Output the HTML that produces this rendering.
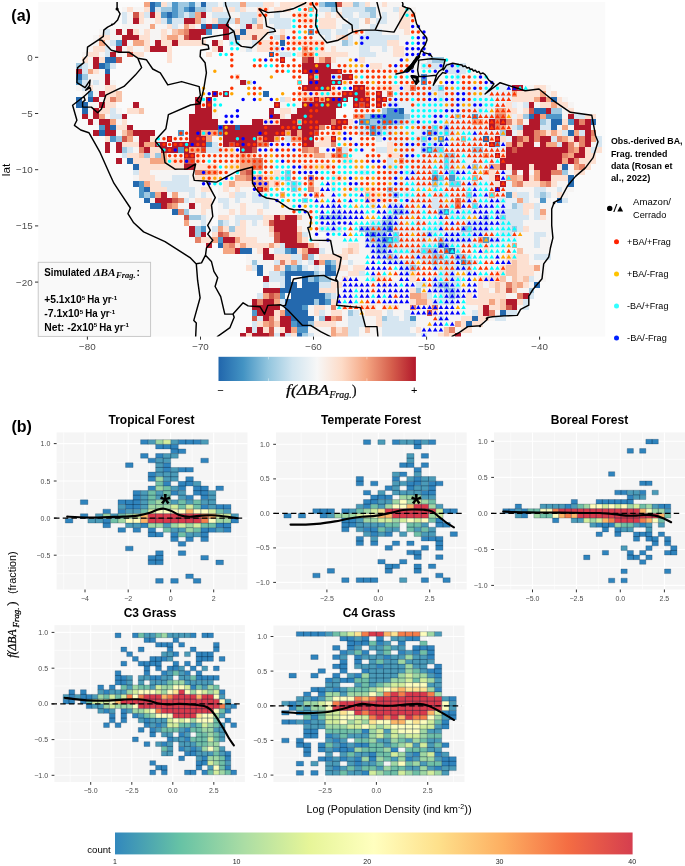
<!DOCTYPE html>
<html lang="en"><head><meta charset="utf-8"><title>Figure</title>
<style>html,body{margin:0;padding:0;background:#fff}body{width:685px;height:866px;overflow:hidden;font-family:"Liberation Sans",sans-serif}svg{display:block}</style></head>
<body>
<svg width="685" height="866" viewBox="0 0 685 866" font-family="'Liberation Sans', sans-serif">
<defs><clipPath id="mapclip"><rect x="38.2" y="2" width="567" height="334.6"/></clipPath><linearGradient id="rdbu" x1="0" x2="1" y1="0" y2="0"><stop offset="0" stop-color="#2166ac"/><stop offset="0.125" stop-color="#4393c3"/><stop offset="0.25" stop-color="#92c5de"/><stop offset="0.375" stop-color="#d1e5f0"/><stop offset="0.5" stop-color="#f7f7f7"/><stop offset="0.625" stop-color="#fddbc7"/><stop offset="0.75" stop-color="#f4a582"/><stop offset="0.875" stop-color="#d6604d"/><stop offset="1" stop-color="#b2182b"/></linearGradient>
<linearGradient id="spec" x1="0" x2="1" y1="0" y2="0"><stop offset="0" stop-color="#3288bd"/><stop offset="0.125" stop-color="#66c2a5"/><stop offset="0.25" stop-color="#abdda4"/><stop offset="0.375" stop-color="#e6f598"/><stop offset="0.5" stop-color="#ffffbf"/><stop offset="0.625" stop-color="#fee08b"/><stop offset="0.75" stop-color="#fdae61"/><stop offset="0.875" stop-color="#f46d43"/><stop offset="1" stop-color="#d53e4f"/></linearGradient></defs>
<rect x="38.2" y="2" width="567" height="334.6" fill="#fafafa"/>
<g clip-path="url(#mapclip)" shape-rendering="crispEdges"><path fill="#f4a582" d="M144.18 1.1H149.83V6.72H144.18ZM240.27 1.1H245.92V6.72H240.27ZM308.1 6.72H313.75V12.34H308.1ZM195.05 12.34H200.7V17.96H195.05ZM195.05 17.96H200.7V23.58H195.05ZM234.62 17.96H240.27V23.58H234.62ZM149.83 23.58H155.48V29.2H149.83ZM183.74 23.58H189.4V29.2H183.74ZM257.23 23.58H262.88V29.2H257.23ZM178.09 29.2H183.74V34.82H178.09ZM166.78 34.82H178.09V40.44H166.78ZM279.84 34.82H285.49V40.44H279.84ZM98.96 40.44H104.61V46.06H98.96ZM132.87 40.44H144.18V46.06H132.87ZM302.44 46.06H308.1V51.68H302.44ZM302.44 51.68H313.75V57.3H302.44ZM319.4 57.3H325.06V62.92H319.4ZM87.65 68.54H93.3V74.16H87.65ZM313.75 74.16H319.4V79.78H313.75ZM296.79 79.78H302.44V85.4H296.79ZM364.62 91.02H370.27V96.64H364.62ZM511.59 91.02H517.24V96.64H511.59ZM539.85 91.02H545.5V96.64H539.85ZM302.44 96.64H313.75V102.26H302.44ZM319.4 96.64H325.06V102.26H319.4ZM534.2 96.64H539.85V102.26H534.2ZM545.5 96.64H551.15V102.26H545.5ZM551.15 102.26H556.81V107.88H551.15ZM494.63 107.88H505.93V113.5H494.63ZM98.96 113.5H104.61V119.12H98.96ZM353.32 113.5H364.62V119.12H353.32ZM539.85 113.5H545.5V119.12H539.85ZM110.26 119.12H115.91V124.74H110.26ZM296.79 119.12H302.44V124.74H296.79ZM472.02 119.12H483.33V124.74H472.02ZM517.24 119.12H522.89V124.74H517.24ZM500.28 124.74H505.93V130.36H500.28ZM562.46 124.74H568.11V130.36H562.46ZM200.7 130.36H217.66V135.98H200.7ZM285.49 130.36H291.14V135.98H285.49ZM296.79 130.36H302.44V135.98H296.79ZM539.85 130.36H545.5V135.98H539.85ZM551.15 130.36H556.81V135.98H551.15ZM573.76 130.36H579.42V135.98H573.76ZM127.22 135.98H132.87V141.6H127.22ZM206.35 135.98H212V141.6H206.35ZM257.23 135.98H262.88V141.6H257.23ZM274.18 135.98H279.84V141.6H274.18ZM291.14 135.98H302.44V141.6H291.14ZM460.72 135.98H466.37V141.6H460.72ZM522.89 135.98H528.54V141.6H522.89ZM562.46 135.98H568.11V141.6H562.46ZM590.72 135.98H596.38V141.6H590.72ZM144.18 141.6H155.48V147.22H144.18ZM505.93 141.6H511.59V147.22H505.93ZM517.24 141.6H522.89V147.22H517.24ZM545.5 141.6H556.81V147.22H545.5ZM189.4 147.22H200.7V152.84H189.4ZM308.1 147.22H313.75V152.84H308.1ZM573.76 147.22H579.42V152.84H573.76ZM161.13 152.84H166.78V158.46H161.13ZM240.27 152.84H245.92V158.46H240.27ZM313.75 152.84H325.06V158.46H313.75ZM330.71 152.84H336.36V158.46H330.71ZM342.01 152.84H347.66V158.46H342.01ZM483.33 152.84H488.98V158.46H483.33ZM568.11 152.84H573.76V158.46H568.11ZM149.83 158.46H166.78V164.08H149.83ZM240.27 158.46H251.57V164.08H240.27ZM398.54 158.46H404.19V164.08H398.54ZM562.46 158.46H568.11V164.08H562.46ZM240.27 164.08H251.57V169.7H240.27ZM488.98 164.08H500.28V169.7H488.98ZM573.76 164.08H579.42V169.7H573.76ZM206.35 169.7H217.66V175.32H206.35ZM483.33 169.7H488.98V175.32H483.33ZM534.2 169.7H539.85V175.32H534.2ZM234.62 175.32H245.92V180.94H234.62ZM257.23 175.32H262.88V180.94H257.23ZM472.02 175.32H477.67V180.94H472.02ZM505.93 175.32H517.24V180.94H505.93ZM534.2 175.32H539.85V180.94H534.2ZM144.18 180.94H149.83V186.56H144.18ZM228.96 180.94H234.62V186.56H228.96ZM251.57 180.94H268.53V186.56H251.57ZM308.1 180.94H313.75V186.56H308.1ZM511.59 180.94H517.24V186.56H511.59ZM539.85 180.94H545.5V186.56H539.85ZM262.88 186.56H268.53V192.18H262.88ZM155.48 192.18H161.13V197.8H155.48ZM172.44 192.18H178.09V197.8H172.44ZM279.84 192.18H285.49V197.8H279.84ZM313.75 192.18H319.4V197.8H313.75ZM488.98 192.18H494.63V197.8H488.98ZM517.24 197.8H522.89V203.42H517.24ZM172.44 203.42H178.09V209.04H172.44ZM539.85 209.04H545.5V214.66H539.85ZM279.84 214.66H285.49V220.28H279.84ZM183.74 220.28H189.4V225.9H183.74ZM217.66 225.9H223.31V231.52H217.66ZM296.79 231.52H302.44V237.14H296.79ZM212 237.14H217.66V242.76H212ZM234.62 237.14H240.27V242.76H234.62ZM296.79 237.14H302.44V242.76H296.79ZM477.67 237.14H483.33V242.76H477.67ZM223.31 242.76H228.96V248.38H223.31ZM240.27 242.76H245.92V248.38H240.27ZM268.53 242.76H274.18V248.38H268.53ZM308.1 242.76H313.75V248.38H308.1ZM511.59 242.76H517.24V248.38H511.59ZM223.31 248.38H234.62V254H223.31ZM302.44 248.38H308.1V254H302.44ZM291.14 259.62H296.79V265.24H291.14ZM319.4 259.62H325.06V265.24H319.4ZM274.18 265.24H279.84V270.86H274.18ZM534.2 265.24H539.85V270.86H534.2ZM517.24 282.1H522.89V287.72H517.24ZM262.88 293.34H268.53V298.96H262.88ZM409.84 293.34H421.15V298.96H409.84ZM274.18 298.96H279.84V304.58H274.18ZM415.5 298.96H426.8V304.58H415.5ZM488.98 298.96H494.63V304.58H488.98ZM279.84 310.2H285.49V315.82H279.84ZM330.71 315.82H336.36V321.44H330.71ZM262.88 321.44H268.53V327.06H262.88ZM455.06 321.44H460.72V327.06H455.06ZM291.14 327.06H296.79V332.68H291.14ZM330.71 327.06H336.36V332.68H330.71ZM330.71 332.68H336.36V338.3H330.71Z"/>
<path fill="#2469ae" d="M149.83 1.1H155.48V6.72H149.83ZM200.7 1.1H206.35V6.72H200.7ZM149.83 6.72H155.48V12.34H149.83ZM189.4 6.72H195.05V12.34H189.4ZM166.78 12.34H172.44V17.96H166.78ZM200.7 23.58H206.35V29.2H200.7ZM212 23.58H217.66V29.2H212ZM240.27 29.2H245.92V34.82H240.27ZM234.62 34.82H240.27V40.44H234.62ZM279.84 40.44H285.49V46.06H279.84ZM268.53 51.68H274.18V57.3H268.53ZM104.61 57.3H115.91V62.92H104.61ZM98.96 62.92H104.61V68.54H98.96ZM104.61 68.54H110.26V74.16H104.61ZM76.34 74.16H82V79.78H76.34ZM262.88 91.02H268.53V96.64H262.88ZM76.34 96.64H82V102.26H76.34ZM87.65 96.64H93.3V102.26H87.65ZM551.15 96.64H556.81V102.26H551.15ZM76.34 102.26H87.65V107.88H76.34ZM82 107.88H87.65V113.5H82ZM398.54 107.88H404.19V113.5H398.54ZM534.2 107.88H545.5V113.5H534.2ZM528.54 113.5H534.2V119.12H528.54ZM551.15 119.12H562.46V124.74H551.15ZM590.72 119.12H596.38V124.74H590.72ZM110.26 124.74H115.91V130.36H110.26ZM217.66 124.74H223.31V130.36H217.66ZM234.62 124.74H240.27V130.36H234.62ZM551.15 124.74H556.81V130.36H551.15ZM98.96 130.36H104.61V135.98H98.96ZM568.11 130.36H573.76V135.98H568.11ZM483.33 135.98H488.98V141.6H483.33ZM127.22 158.46H132.87V164.08H127.22ZM132.87 164.08H138.52V169.7H132.87ZM562.46 164.08H568.11V169.7H562.46ZM568.11 175.32H573.76V180.94H568.11ZM132.87 180.94H138.52V186.56H132.87ZM568.11 180.94H573.76V186.56H568.11ZM144.18 186.56H149.83V192.18H144.18ZM144.18 197.8H149.83V203.42H144.18ZM556.81 197.8H562.46V203.42H556.81ZM149.83 203.42H161.13V209.04H149.83ZM172.44 209.04H178.09V214.66H172.44ZM217.66 242.76H223.31V248.38H217.66ZM240.27 248.38H251.57V254H240.27ZM291.14 248.38H296.79V254H291.14ZM449.41 248.38H455.06V254H449.41ZM257.23 265.24H262.88V270.86H257.23ZM325.06 265.24H330.71V270.86H325.06ZM257.23 270.86H262.88V276.48H257.23ZM285.49 270.86H313.75V276.48H285.49ZM325.06 270.86H336.36V276.48H325.06ZM285.49 276.48H291.14V282.1H285.49ZM302.44 276.48H308.1V282.1H302.44ZM285.49 282.1H296.79V287.72H285.49ZM302.44 282.1H319.4V287.72H302.44ZM534.2 282.1H539.85V287.72H534.2ZM279.84 287.72H319.4V293.34H279.84ZM291.14 293.34H325.06V298.96H291.14ZM285.49 298.96H313.75V304.58H285.49ZM319.4 298.96H325.06V304.58H319.4ZM285.49 304.58H302.44V310.2H285.49ZM285.49 310.2H308.1V315.82H285.49ZM500.28 310.2H505.93V315.82H500.28ZM291.14 315.82H313.75V321.44H291.14ZM472.02 315.82H477.67V321.44H472.02ZM296.79 321.44H308.1V327.06H296.79ZM466.37 321.44H472.02V327.06H466.37ZM296.79 332.68H302.44V338.3H296.79Z"/>
<path fill="#4f97c9" d="M155.48 1.1H161.13V6.72H155.48ZM172.44 1.1H178.09V6.72H172.44ZM189.4 1.1H195.05V6.72H189.4ZM325.06 1.1H336.36V6.72H325.06ZM172.44 6.72H178.09V12.34H172.44ZM183.74 6.72H189.4V12.34H183.74ZM161.13 12.34H166.78V17.96H161.13ZM172.44 12.34H178.09V17.96H172.44ZM166.78 17.96H172.44V23.58H166.78ZM206.35 29.2H212V34.82H206.35ZM308.1 29.2H313.75V34.82H308.1ZM115.91 40.44H121.56V46.06H115.91ZM104.61 62.92H110.26V68.54H104.61ZM421.15 74.16H426.8V79.78H421.15ZM76.34 79.78H82V85.4H76.34ZM421.15 79.78H426.8V85.4H421.15ZM87.65 91.02H93.3V96.64H87.65ZM387.23 107.88H398.54V113.5H387.23ZM370.27 113.5H404.19V119.12H370.27ZM472.02 113.5H477.67V119.12H472.02ZM545.5 113.5H562.46V119.12H545.5ZM358.97 119.12H370.27V124.74H358.97ZM381.58 119.12H392.88V124.74H381.58ZM568.11 119.12H573.76V124.74H568.11ZM98.96 124.74H104.61V130.36H98.96ZM370.27 124.74H375.93V130.36H370.27ZM178.09 130.36H183.74V135.98H178.09ZM217.66 130.36H223.31V135.98H217.66ZM370.27 130.36H375.93V135.98H370.27ZM426.8 130.36H432.45V135.98H426.8ZM110.26 135.98H115.91V141.6H110.26ZM438.11 135.98H443.76V141.6H438.11ZM206.35 141.6H212V147.22H206.35ZM494.63 141.6H500.28V147.22H494.63ZM178.09 147.22H183.74V152.84H178.09ZM426.8 147.22H432.45V152.84H426.8ZM432.45 175.32H438.11V180.94H432.45ZM449.41 175.32H455.06V180.94H449.41ZM138.52 180.94H144.18V186.56H138.52ZM138.52 186.56H144.18V192.18H138.52ZM138.52 192.18H144.18V197.8H138.52ZM149.83 192.18H155.48V197.8H149.83ZM505.93 192.18H511.59V197.8H505.93ZM539.85 197.8H545.5V203.42H539.85ZM443.76 209.04H449.41V214.66H443.76ZM200.7 225.9H206.35V231.52H200.7ZM387.23 225.9H392.88V231.52H387.23ZM370.27 231.52H375.93V237.14H370.27ZM217.66 237.14H223.31V242.76H217.66ZM381.58 237.14H392.88V242.76H381.58ZM483.33 237.14H488.98V242.76H483.33ZM438.11 242.76H443.76V248.38H438.11ZM285.49 248.38H291.14V254H285.49ZM443.76 248.38H449.41V254H443.76ZM325.06 259.62H330.71V265.24H325.06ZM460.72 259.62H466.37V265.24H460.72ZM285.49 265.24H291.14V270.86H285.49ZM296.79 265.24H302.44V270.86H296.79ZM330.71 265.24H336.36V270.86H330.71ZM313.75 276.48H319.4V282.1H313.75ZM279.84 293.34H285.49V298.96H279.84ZM325.06 298.96H330.71V304.58H325.06ZM302.44 304.58H308.1V310.2H302.44ZM251.57 310.2H257.23V315.82H251.57ZM409.84 315.82H415.5V321.44H409.84ZM291.14 321.44H296.79V327.06H291.14ZM296.79 327.06H308.1V332.68H296.79Z"/>
<path fill="#fde0d1" d="M161.13 1.1H166.78V6.72H161.13ZM262.88 1.1H274.18V6.72H262.88ZM279.84 1.1H319.4V6.72H279.84ZM342.01 1.1H353.32V6.72H342.01ZM364.62 1.1H370.27V6.72H364.62ZM381.58 1.1H387.23V6.72H381.58ZM127.22 6.72H132.87V12.34H127.22ZM144.18 6.72H149.83V12.34H144.18ZM212 6.72H223.31V12.34H212ZM228.96 6.72H234.62V12.34H228.96ZM240.27 6.72H245.92V12.34H240.27ZM257.23 6.72H268.53V12.34H257.23ZM274.18 6.72H291.14V12.34H274.18ZM398.54 6.72H409.84V12.34H398.54ZM138.52 12.34H144.18V17.96H138.52ZM155.48 12.34H161.13V17.96H155.48ZM257.23 12.34H262.88V17.96H257.23ZM296.79 12.34H308.1V17.96H296.79ZM325.06 12.34H330.71V17.96H325.06ZM336.36 12.34H342.01V17.96H336.36ZM398.54 12.34H415.5V17.96H398.54ZM138.52 17.96H144.18V23.58H138.52ZM155.48 17.96H161.13V23.58H155.48ZM212 17.96H217.66V23.58H212ZM257.23 17.96H262.88V23.58H257.23ZM302.44 17.96H313.75V23.58H302.44ZM319.4 17.96H336.36V23.58H319.4ZM398.54 17.96H409.84V23.58H398.54ZM166.78 23.58H172.44V29.2H166.78ZM189.4 23.58H195.05V29.2H189.4ZM251.57 23.58H257.23V29.2H251.57ZM319.4 23.58H336.36V29.2H319.4ZM398.54 23.58H409.84V29.2H398.54ZM132.87 29.2H138.52V34.82H132.87ZM144.18 29.2H149.83V34.82H144.18ZM161.13 29.2H166.78V34.82H161.13ZM234.62 29.2H240.27V34.82H234.62ZM245.92 29.2H268.53V34.82H245.92ZM279.84 29.2H285.49V34.82H279.84ZM353.32 29.2H358.97V34.82H353.32ZM404.19 29.2H409.84V34.82H404.19ZM98.96 34.82H110.26V40.44H98.96ZM138.52 34.82H149.83V40.44H138.52ZM161.13 34.82H166.78V40.44H161.13ZM178.09 34.82H183.74V40.44H178.09ZM240.27 34.82H251.57V40.44H240.27ZM257.23 34.82H262.88V40.44H257.23ZM336.36 34.82H342.01V40.44H336.36ZM144.18 40.44H149.83V46.06H144.18ZM161.13 40.44H172.44V46.06H161.13ZM178.09 40.44H206.35V46.06H178.09ZM217.66 40.44H223.31V46.06H217.66ZM257.23 40.44H274.18V46.06H257.23ZM291.14 40.44H325.06V46.06H291.14ZM387.23 40.44H398.54V46.06H387.23ZM93.3 46.06H104.61V51.68H93.3ZM127.22 46.06H132.87V51.68H127.22ZM144.18 46.06H149.83V51.68H144.18ZM166.78 46.06H172.44V51.68H166.78ZM212 46.06H217.66V51.68H212ZM257.23 46.06H274.18V51.68H257.23ZM308.1 46.06H325.06V51.68H308.1ZM330.71 46.06H336.36V51.68H330.71ZM392.88 46.06H404.19V51.68H392.88ZM87.65 51.68H98.96V57.3H87.65ZM132.87 51.68H144.18V57.3H132.87ZM166.78 51.68H172.44V57.3H166.78ZM206.35 51.68H212V57.3H206.35ZM296.79 51.68H302.44V57.3H296.79ZM313.75 51.68H347.66V57.3H313.75ZM392.88 51.68H404.19V57.3H392.88ZM82 57.3H87.65V62.92H82ZM98.96 57.3H104.61V62.92H98.96ZM166.78 57.3H172.44V62.92H166.78ZM313.75 57.3H319.4V62.92H313.75ZM330.71 57.3H336.36V62.92H330.71ZM358.97 57.3H364.62V62.92H358.97ZM370.27 62.92H381.58V68.54H370.27ZM93.3 68.54H98.96V74.16H93.3ZM234.62 74.16H240.27V79.78H234.62ZM342.01 79.78H347.66V85.4H342.01ZM87.65 85.4H93.3V91.02H87.65ZM104.61 85.4H115.91V91.02H104.61ZM330.71 85.4H336.36V91.02H330.71ZM364.62 85.4H370.27V91.02H364.62ZM375.93 85.4H398.54V91.02H375.93ZM404.19 85.4H409.84V91.02H404.19ZM534.2 85.4H545.5V91.02H534.2ZM104.61 91.02H115.91V96.64H104.61ZM296.79 91.02H342.01V96.64H296.79ZM517.24 91.02H539.85V96.64H517.24ZM551.15 91.02H556.81V96.64H551.15ZM104.61 96.64H110.26V102.26H104.61ZM285.49 96.64H291.14V102.26H285.49ZM511.59 96.64H534.2V102.26H511.59ZM556.81 96.64H562.46V102.26H556.81ZM104.61 102.26H115.91V107.88H104.61ZM505.93 102.26H511.59V107.88H505.93ZM539.85 102.26H551.15V107.88H539.85ZM556.81 102.26H568.11V107.88H556.81ZM98.96 107.88H110.26V113.5H98.96ZM127.22 107.88H138.52V113.5H127.22ZM279.84 107.88H291.14V113.5H279.84ZM505.93 107.88H517.24V113.5H505.93ZM522.89 107.88H528.54V113.5H522.89ZM568.11 107.88H573.76V113.5H568.11ZM279.84 113.5H285.49V119.12H279.84ZM505.93 113.5H511.59V119.12H505.93ZM517.24 113.5H522.89V119.12H517.24ZM585.07 113.5H596.38V119.12H585.07ZM121.56 119.12H127.22V124.74H121.56ZM262.88 119.12H279.84V124.74H262.88ZM347.66 119.12H353.32V124.74H347.66ZM483.33 119.12H488.98V124.74H483.33ZM511.59 119.12H517.24V124.74H511.59ZM562.46 119.12H568.11V124.74H562.46ZM115.91 124.74H127.22V130.36H115.91ZM342.01 124.74H347.66V130.36H342.01ZM505.93 124.74H511.59V130.36H505.93ZM330.71 130.36H342.01V135.98H330.71ZM517.24 130.36H522.89V135.98H517.24ZM545.5 130.36H551.15V135.98H545.5ZM556.81 130.36H562.46V135.98H556.81ZM104.61 135.98H110.26V141.6H104.61ZM149.83 135.98H155.48V141.6H149.83ZM319.4 135.98H330.71V141.6H319.4ZM488.98 135.98H494.63V141.6H488.98ZM500.28 135.98H505.93V141.6H500.28ZM568.11 135.98H573.76V141.6H568.11ZM121.56 141.6H138.52V147.22H121.56ZM313.75 141.6H330.71V147.22H313.75ZM387.23 141.6H392.88V147.22H387.23ZM573.76 141.6H579.42V147.22H573.76ZM149.83 147.22H161.13V152.84H149.83ZM223.31 147.22H234.62V152.84H223.31ZM387.23 147.22H392.88V152.84H387.23ZM585.07 147.22H590.72V152.84H585.07ZM596.38 147.22H602.03V152.84H596.38ZM127.22 152.84H138.52V158.46H127.22ZM149.83 152.84H155.48V158.46H149.83ZM195.05 152.84H200.7V158.46H195.05ZM228.96 152.84H240.27V158.46H228.96ZM251.57 152.84H257.23V158.46H251.57ZM302.44 152.84H313.75V158.46H302.44ZM325.06 152.84H330.71V158.46H325.06ZM387.23 152.84H398.54V158.46H387.23ZM500.28 152.84H505.93V158.46H500.28ZM585.07 152.84H596.38V158.46H585.07ZM132.87 158.46H149.83V164.08H132.87ZM166.78 158.46H183.74V164.08H166.78ZM195.05 158.46H200.7V164.08H195.05ZM234.62 158.46H240.27V164.08H234.62ZM342.01 158.46H353.32V164.08H342.01ZM579.42 158.46H596.38V164.08H579.42ZM138.52 164.08H183.74V169.7H138.52ZM195.05 164.08H217.66V169.7H195.05ZM228.96 164.08H240.27V169.7H228.96ZM302.44 164.08H330.71V169.7H302.44ZM392.88 164.08H398.54V169.7H392.88ZM505.93 164.08H511.59V169.7H505.93ZM528.54 164.08H534.2V169.7H528.54ZM556.81 164.08H562.46V169.7H556.81ZM585.07 164.08H590.72V169.7H585.07ZM138.52 169.7H149.83V175.32H138.52ZM217.66 169.7H223.31V175.32H217.66ZM257.23 169.7H262.88V175.32H257.23ZM274.18 169.7H279.84V175.32H274.18ZM488.98 169.7H494.63V175.32H488.98ZM573.76 169.7H585.07V175.32H573.76ZM138.52 175.32H155.48V180.94H138.52ZM195.05 175.32H217.66V180.94H195.05ZM262.88 175.32H279.84V180.94H262.88ZM330.71 175.32H342.01V180.94H330.71ZM488.98 175.32H494.63V180.94H488.98ZM528.54 175.32H534.2V180.94H528.54ZM551.15 175.32H568.11V180.94H551.15ZM149.83 180.94H161.13V186.56H149.83ZM223.31 180.94H228.96V186.56H223.31ZM234.62 180.94H251.57V186.56H234.62ZM268.53 180.94H274.18V186.56H268.53ZM330.71 180.94H336.36V186.56H330.71ZM494.63 180.94H500.28V186.56H494.63ZM522.89 180.94H539.85V186.56H522.89ZM551.15 180.94H556.81V186.56H551.15ZM149.83 186.56H166.78V192.18H149.83ZM200.7 186.56H212V192.18H200.7ZM223.31 186.56H228.96V192.18H223.31ZM234.62 186.56H240.27V192.18H234.62ZM313.75 186.56H319.4V192.18H313.75ZM353.32 186.56H375.93V192.18H353.32ZM228.96 192.18H234.62V197.8H228.96ZM370.27 192.18H381.58V197.8H370.27ZM511.59 192.18H517.24V197.8H511.59ZM556.81 192.18H562.46V197.8H556.81ZM195.05 197.8H212V203.42H195.05ZM370.27 197.8H387.23V203.42H370.27ZM200.7 203.42H212V209.04H200.7ZM240.27 203.42H245.92V209.04H240.27ZM522.89 203.42H534.2V209.04H522.89ZM200.7 209.04H206.35V214.66H200.7ZM228.96 209.04H234.62V214.66H228.96ZM240.27 209.04H245.92V214.66H240.27ZM257.23 209.04H262.88V214.66H257.23ZM522.89 209.04H528.54V214.66H522.89ZM217.66 214.66H228.96V220.28H217.66ZM262.88 214.66H274.18V220.28H262.88ZM539.85 214.66H545.5V220.28H539.85ZM240.27 220.28H245.92V225.9H240.27ZM262.88 220.28H268.53V225.9H262.88ZM223.31 225.9H228.96V231.52H223.31ZM234.62 225.9H245.92V231.52H234.62ZM296.79 225.9H302.44V231.52H296.79ZM522.89 225.9H528.54V231.52H522.89ZM212 231.52H217.66V237.14H212ZM228.96 231.52H245.92V237.14H228.96ZM268.53 231.52H274.18V237.14H268.53ZM200.7 237.14H212V242.76H200.7ZM240.27 237.14H257.23V242.76H240.27ZM302.44 237.14H308.1V242.76H302.44ZM234.62 242.76H240.27V248.38H234.62ZM245.92 242.76H268.53V248.38H245.92ZM274.18 242.76H279.84V248.38H274.18ZM313.75 242.76H319.4V248.38H313.75ZM347.66 242.76H358.97V248.38H347.66ZM257.23 248.38H262.88V254H257.23ZM296.79 248.38H302.44V254H296.79ZM342.01 248.38H347.66V254H342.01ZM353.32 248.38H358.97V254H353.32ZM483.33 248.38H488.98V254H483.33ZM274.18 254H291.14V259.62H274.18ZM319.4 254H347.66V259.62H319.4ZM505.93 254H528.54V259.62H505.93ZM285.49 259.62H291.14V265.24H285.49ZM336.36 259.62H342.01V265.24H336.36ZM505.93 259.62H511.59V265.24H505.93ZM517.24 259.62H528.54V265.24H517.24ZM245.92 265.24H251.57V270.86H245.92ZM279.84 265.24H285.49V270.86H279.84ZM336.36 265.24H347.66V270.86H336.36ZM353.32 265.24H364.62V270.86H353.32ZM500.28 265.24H505.93V270.86H500.28ZM517.24 265.24H534.2V270.86H517.24ZM347.66 270.86H358.97V276.48H347.66ZM409.84 270.86H415.5V276.48H409.84ZM494.63 270.86H505.93V276.48H494.63ZM517.24 270.86H534.2V276.48H517.24ZM342.01 276.48H347.66V282.1H342.01ZM375.93 276.48H387.23V282.1H375.93ZM409.84 276.48H415.5V282.1H409.84ZM477.67 276.48H500.28V282.1H477.67ZM517.24 276.48H522.89V282.1H517.24ZM330.71 282.1H342.01V287.72H330.71ZM381.58 282.1H387.23V287.72H381.58ZM477.67 282.1H483.33V287.72H477.67ZM488.98 282.1H494.63V287.72H488.98ZM500.28 282.1H505.93V287.72H500.28ZM522.89 282.1H528.54V287.72H522.89ZM319.4 287.72H336.36V293.34H319.4ZM409.84 287.72H415.5V293.34H409.84ZM477.67 287.72H488.98V293.34H477.67ZM500.28 287.72H505.93V293.34H500.28ZM466.37 293.34H472.02V298.96H466.37ZM477.67 293.34H505.93V298.96H477.67ZM330.71 298.96H336.36V304.58H330.71ZM409.84 298.96H415.5V304.58H409.84ZM426.8 298.96H432.45V304.58H426.8ZM466.37 298.96H488.98V304.58H466.37ZM494.63 298.96H500.28V304.58H494.63ZM517.24 298.96H522.89V304.58H517.24ZM313.75 304.58H325.06V310.2H313.75ZM342.01 304.58H347.66V310.2H342.01ZM358.97 304.58H375.93V310.2H358.97ZM381.58 304.58H398.54V310.2H381.58ZM415.5 304.58H421.15V310.2H415.5ZM426.8 304.58H432.45V310.2H426.8ZM477.67 304.58H483.33V310.2H477.67ZM488.98 304.58H500.28V310.2H488.98ZM274.18 310.2H279.84V315.82H274.18ZM313.75 310.2H319.4V315.82H313.75ZM330.71 310.2H342.01V315.82H330.71ZM364.62 310.2H381.58V315.82H364.62ZM432.45 310.2H438.11V315.82H432.45ZM477.67 310.2H483.33V315.82H477.67ZM274.18 315.82H279.84V321.44H274.18ZM375.93 315.82H381.58V321.44H375.93ZM460.72 315.82H472.02V321.44H460.72ZM477.67 315.82H488.98V321.44H477.67ZM257.23 321.44H262.88V327.06H257.23ZM313.75 321.44H336.36V327.06H313.75ZM375.93 321.44H381.58V327.06H375.93ZM460.72 321.44H466.37V327.06H460.72ZM472.02 321.44H483.33V327.06H472.02ZM262.88 327.06H268.53V332.68H262.88ZM279.84 327.06H285.49V332.68H279.84ZM336.36 327.06H342.01V332.68H336.36ZM415.5 327.06H421.15V332.68H415.5ZM460.72 327.06H472.02V332.68H460.72ZM245.92 332.68H251.57V338.3H245.92ZM291.14 332.68H296.79V338.3H291.14ZM438.11 332.68H443.76V338.3H438.11ZM449.41 332.68H455.06V338.3H449.41Z"/>
<path fill="#d6e6f1" d="M166.78 1.1H172.44V6.72H166.78ZM195.05 1.1H200.7V6.72H195.05ZM206.35 1.1H217.66V6.72H206.35ZM223.31 1.1H240.27V6.72H223.31ZM245.92 1.1H262.88V6.72H245.92ZM358.97 1.1H364.62V6.72H358.97ZM155.48 6.72H161.13V12.34H155.48ZM206.35 6.72H212V12.34H206.35ZM234.62 6.72H240.27V12.34H234.62ZM319.4 6.72H330.71V12.34H319.4ZM342.01 6.72H364.62V12.34H342.01ZM392.88 6.72H398.54V12.34H392.88ZM121.56 12.34H127.22V17.96H121.56ZM144.18 12.34H149.83V17.96H144.18ZM183.74 12.34H189.4V17.96H183.74ZM212 12.34H228.96V17.96H212ZM240.27 12.34H257.23V17.96H240.27ZM274.18 12.34H279.84V17.96H274.18ZM342.01 12.34H353.32V17.96H342.01ZM358.97 12.34H370.27V17.96H358.97ZM381.58 12.34H387.23V17.96H381.58ZM121.56 17.96H127.22V23.58H121.56ZM161.13 17.96H166.78V23.58H161.13ZM172.44 17.96H183.74V23.58H172.44ZM200.7 17.96H206.35V23.58H200.7ZM228.96 17.96H234.62V23.58H228.96ZM240.27 17.96H251.57V23.58H240.27ZM268.53 17.96H291.14V23.58H268.53ZM347.66 17.96H358.97V23.58H347.66ZM375.93 17.96H387.23V23.58H375.93ZM172.44 23.58H178.09V29.2H172.44ZM240.27 23.58H245.92V29.2H240.27ZM274.18 23.58H291.14V29.2H274.18ZM342.01 23.58H358.97V29.2H342.01ZM370.27 23.58H375.93V29.2H370.27ZM104.61 29.2H110.26V34.82H104.61ZM228.96 29.2H234.62V34.82H228.96ZM268.53 29.2H274.18V34.82H268.53ZM319.4 29.2H330.71V34.82H319.4ZM336.36 29.2H347.66V34.82H336.36ZM364.62 29.2H381.58V34.82H364.62ZM228.96 34.82H234.62V40.44H228.96ZM274.18 34.82H279.84V40.44H274.18ZM325.06 34.82H330.71V40.44H325.06ZM347.66 34.82H353.32V40.44H347.66ZM358.97 34.82H398.54V40.44H358.97ZM110.26 40.44H115.91V46.06H110.26ZM228.96 40.44H240.27V46.06H228.96ZM251.57 40.44H257.23V46.06H251.57ZM347.66 40.44H353.32V46.06H347.66ZM358.97 40.44H387.23V46.06H358.97ZM104.61 46.06H110.26V51.68H104.61ZM245.92 46.06H251.57V51.68H245.92ZM274.18 46.06H279.84V51.68H274.18ZM358.97 46.06H370.27V51.68H358.97ZM381.58 46.06H387.23V51.68H381.58ZM104.61 51.68H110.26V57.3H104.61ZM279.84 51.68H291.14V57.3H279.84ZM358.97 51.68H375.93V57.3H358.97ZM426.8 57.3H432.45V62.92H426.8ZM82 62.92H87.65V68.54H82ZM110.26 62.92H115.91V68.54H110.26ZM421.15 62.92H466.37V68.54H421.15ZM82 68.54H87.65V74.16H82ZM443.76 68.54H466.37V74.16H443.76ZM330.71 74.16H342.01V79.78H330.71ZM455.06 74.16H460.72V79.78H455.06ZM82 79.78H87.65V85.4H82ZM93.3 79.78H98.96V85.4H93.3ZM245.92 79.78H251.57V85.4H245.92ZM82 85.4H87.65V91.02H82ZM432.45 85.4H438.11V91.02H432.45ZM426.8 91.02H432.45V96.64H426.8ZM438.11 91.02H443.76V96.64H438.11ZM279.84 96.64H285.49V102.26H279.84ZM438.11 96.64H443.76V102.26H438.11ZM387.23 102.26H398.54V107.88H387.23ZM522.89 102.26H528.54V107.88H522.89ZM110.26 107.88H115.91V113.5H110.26ZM477.67 107.88H483.33V113.5H477.67ZM110.26 113.5H121.56V119.12H110.26ZM488.98 113.5H494.63V119.12H488.98ZM573.76 113.5H585.07V119.12H573.76ZM404.19 119.12H415.5V124.74H404.19ZM443.76 119.12H449.41V124.74H443.76ZM545.5 119.12H551.15V124.74H545.5ZM353.32 124.74H364.62V130.36H353.32ZM387.23 124.74H398.54V130.36H387.23ZM421.15 124.74H432.45V130.36H421.15ZM438.11 124.74H443.76V130.36H438.11ZM511.59 124.74H517.24V130.36H511.59ZM539.85 124.74H551.15V130.36H539.85ZM358.97 130.36H370.27V135.98H358.97ZM381.58 130.36H392.88V135.98H381.58ZM421.15 130.36H426.8V135.98H421.15ZM438.11 130.36H443.76V135.98H438.11ZM449.41 130.36H455.06V135.98H449.41ZM562.46 130.36H568.11V135.98H562.46ZM579.42 130.36H585.07V135.98H579.42ZM285.49 135.98H291.14V141.6H285.49ZM375.93 135.98H381.58V141.6H375.93ZM415.5 135.98H421.15V141.6H415.5ZM426.8 135.98H438.11V141.6H426.8ZM551.15 135.98H556.81V141.6H551.15ZM596.38 135.98H602.03V141.6H596.38ZM212 141.6H217.66V147.22H212ZM421.15 141.6H443.76V147.22H421.15ZM556.81 141.6H562.46V147.22H556.81ZM596.38 141.6H602.03V147.22H596.38ZM127.22 147.22H132.87V152.84H127.22ZM206.35 147.22H223.31V152.84H206.35ZM342.01 147.22H347.66V152.84H342.01ZM375.93 147.22H387.23V152.84H375.93ZM590.72 147.22H596.38V152.84H590.72ZM121.56 152.84H127.22V158.46H121.56ZM438.11 152.84H443.76V158.46H438.11ZM387.23 158.46H392.88V164.08H387.23ZM449.41 158.46H455.06V164.08H449.41ZM387.23 164.08H392.88V169.7H387.23ZM449.41 164.08H455.06V169.7H449.41ZM132.87 169.7H138.52V175.32H132.87ZM358.97 169.7H370.27V175.32H358.97ZM404.19 169.7H415.5V175.32H404.19ZM443.76 169.7H449.41V175.32H443.76ZM455.06 169.7H460.72V175.32H455.06ZM172.44 175.32H189.4V180.94H172.44ZM279.84 175.32H285.49V180.94H279.84ZM455.06 175.32H460.72V180.94H455.06ZM161.13 180.94H189.4V186.56H161.13ZM285.49 180.94H291.14V186.56H285.49ZM296.79 180.94H302.44V186.56H296.79ZM438.11 180.94H443.76V186.56H438.11ZM472.02 180.94H477.67V186.56H472.02ZM166.78 186.56H195.05V192.18H166.78ZM296.79 186.56H302.44V192.18H296.79ZM330.71 186.56H336.36V192.18H330.71ZM432.45 186.56H438.11V192.18H432.45ZM466.37 186.56H472.02V192.18H466.37ZM534.2 186.56H545.5V192.18H534.2ZM556.81 186.56H562.46V192.18H556.81ZM189.4 192.18H195.05V197.8H189.4ZM200.7 192.18H206.35V197.8H200.7ZM234.62 192.18H245.92V197.8H234.62ZM251.57 192.18H262.88V197.8H251.57ZM387.23 192.18H392.88V197.8H387.23ZM404.19 192.18H409.84V197.8H404.19ZM438.11 192.18H449.41V197.8H438.11ZM517.24 192.18H528.54V197.8H517.24ZM534.2 192.18H539.85V197.8H534.2ZM545.5 192.18H551.15V197.8H545.5ZM183.74 197.8H189.4V203.42H183.74ZM217.66 197.8H228.96V203.42H217.66ZM234.62 197.8H240.27V203.42H234.62ZM251.57 197.8H268.53V203.42H251.57ZM432.45 197.8H438.11V203.42H432.45ZM466.37 197.8H472.02V203.42H466.37ZM500.28 197.8H505.93V203.42H500.28ZM522.89 197.8H528.54V203.42H522.89ZM562.46 197.8H568.11V203.42H562.46ZM223.31 203.42H228.96V209.04H223.31ZM262.88 203.42H268.53V209.04H262.88ZM330.71 203.42H336.36V209.04H330.71ZM370.27 203.42H375.93V209.04H370.27ZM387.23 203.42H404.19V209.04H387.23ZM432.45 203.42H443.76V209.04H432.45ZM449.41 203.42H455.06V209.04H449.41ZM517.24 203.42H522.89V209.04H517.24ZM534.2 203.42H539.85V209.04H534.2ZM330.71 209.04H342.01V214.66H330.71ZM387.23 209.04H392.88V214.66H387.23ZM404.19 209.04H409.84V214.66H404.19ZM449.41 209.04H455.06V214.66H449.41ZM460.72 209.04H472.02V214.66H460.72ZM494.63 209.04H522.89V214.66H494.63ZM534.2 209.04H539.85V214.66H534.2ZM200.7 214.66H206.35V220.28H200.7ZM234.62 214.66H262.88V220.28H234.62ZM342.01 214.66H353.32V220.28H342.01ZM381.58 214.66H387.23V220.28H381.58ZM392.88 214.66H398.54V220.28H392.88ZM438.11 214.66H443.76V220.28H438.11ZM449.41 214.66H466.37V220.28H449.41ZM494.63 214.66H500.28V220.28H494.63ZM505.93 214.66H528.54V220.28H505.93ZM534.2 214.66H539.85V220.28H534.2ZM200.7 220.28H206.35V225.9H200.7ZM223.31 220.28H228.96V225.9H223.31ZM234.62 220.28H240.27V225.9H234.62ZM251.57 220.28H257.23V225.9H251.57ZM330.71 220.28H336.36V225.9H330.71ZM370.27 220.28H381.58V225.9H370.27ZM392.88 220.28H398.54V225.9H392.88ZM415.5 220.28H421.15V225.9H415.5ZM438.11 220.28H443.76V225.9H438.11ZM466.37 220.28H488.98V225.9H466.37ZM500.28 220.28H522.89V225.9H500.28ZM212 225.9H217.66V231.52H212ZM319.4 225.9H342.01V231.52H319.4ZM392.88 225.9H398.54V231.52H392.88ZM426.8 225.9H443.76V231.52H426.8ZM472.02 225.9H488.98V231.52H472.02ZM500.28 225.9H511.59V231.52H500.28ZM517.24 225.9H522.89V231.52H517.24ZM302.44 231.52H308.1V237.14H302.44ZM387.23 231.52H392.88V237.14H387.23ZM421.15 231.52H426.8V237.14H421.15ZM432.45 231.52H438.11V237.14H432.45ZM443.76 231.52H483.33V237.14H443.76ZM500.28 231.52H511.59V237.14H500.28ZM534.2 231.52H545.5V237.14H534.2ZM364.62 237.14H370.27V242.76H364.62ZM398.54 237.14H404.19V242.76H398.54ZM421.15 237.14H426.8V242.76H421.15ZM443.76 237.14H472.02V242.76H443.76ZM488.98 237.14H500.28V242.76H488.98ZM534.2 237.14H539.85V242.76H534.2ZM279.84 242.76H285.49V248.38H279.84ZM364.62 242.76H375.93V248.38H364.62ZM392.88 242.76H398.54V248.38H392.88ZM421.15 242.76H438.11V248.38H421.15ZM449.41 242.76H455.06V248.38H449.41ZM472.02 242.76H483.33V248.38H472.02ZM534.2 242.76H539.85V248.38H534.2ZM274.18 248.38H285.49V254H274.18ZM319.4 248.38H325.06V254H319.4ZM370.27 248.38H375.93V254H370.27ZM387.23 248.38H421.15V254H387.23ZM438.11 248.38H443.76V254H438.11ZM455.06 248.38H460.72V254H455.06ZM291.14 254H302.44V259.62H291.14ZM375.93 254H387.23V259.62H375.93ZM392.88 254H398.54V259.62H392.88ZM409.84 254H432.45V259.62H409.84ZM443.76 254H455.06V259.62H443.76ZM466.37 254H472.02V259.62H466.37ZM534.2 254H551.15V259.62H534.2ZM274.18 259.62H279.84V265.24H274.18ZM296.79 259.62H302.44V265.24H296.79ZM308.1 259.62H313.75V265.24H308.1ZM347.66 259.62H353.32V265.24H347.66ZM387.23 259.62H415.5V265.24H387.23ZM421.15 259.62H432.45V265.24H421.15ZM438.11 259.62H443.76V265.24H438.11ZM449.41 259.62H460.72V265.24H449.41ZM472.02 259.62H477.67V265.24H472.02ZM251.57 265.24H257.23V270.86H251.57ZM302.44 265.24H308.1V270.86H302.44ZM313.75 265.24H319.4V270.86H313.75ZM398.54 265.24H409.84V270.86H398.54ZM415.5 265.24H421.15V270.86H415.5ZM432.45 265.24H472.02V270.86H432.45ZM268.53 270.86H279.84V276.48H268.53ZM319.4 270.86H325.06V276.48H319.4ZM358.97 270.86H364.62V276.48H358.97ZM404.19 270.86H409.84V276.48H404.19ZM438.11 270.86H455.06V276.48H438.11ZM466.37 270.86H472.02V276.48H466.37ZM268.53 276.48H285.49V282.1H268.53ZM370.27 276.48H375.93V282.1H370.27ZM432.45 276.48H460.72V282.1H432.45ZM528.54 276.48H534.2V282.1H528.54ZM262.88 282.1H268.53V287.72H262.88ZM279.84 282.1H285.49V287.72H279.84ZM319.4 282.1H330.71V287.72H319.4ZM415.5 282.1H426.8V287.72H415.5ZM432.45 282.1H438.11V287.72H432.45ZM449.41 282.1H460.72V287.72H449.41ZM432.45 287.72H443.76V293.34H432.45ZM455.06 287.72H460.72V293.34H455.06ZM257.23 293.34H262.88V298.96H257.23ZM330.71 293.34H336.36V298.96H330.71ZM426.8 293.34H432.45V298.96H426.8ZM438.11 293.34H449.41V298.96H438.11ZM455.06 293.34H460.72V298.96H455.06ZM528.54 293.34H534.2V298.96H528.54ZM279.84 298.96H285.49V304.58H279.84ZM432.45 298.96H455.06V304.58H432.45ZM522.89 298.96H528.54V304.58H522.89ZM522.89 304.58H528.54V310.2H522.89ZM319.4 310.2H325.06V315.82H319.4ZM353.32 310.2H358.97V315.82H353.32ZM387.23 310.2H392.88V315.82H387.23ZM404.19 310.2H409.84V315.82H404.19ZM472.02 310.2H477.67V315.82H472.02ZM505.93 310.2H517.24V315.82H505.93ZM257.23 315.82H262.88V321.44H257.23ZM347.66 315.82H364.62V321.44H347.66ZM387.23 315.82H398.54V321.44H387.23ZM404.19 315.82H409.84V321.44H404.19ZM438.11 315.82H443.76V321.44H438.11ZM494.63 315.82H505.93V321.44H494.63ZM251.57 321.44H257.23V327.06H251.57ZM347.66 321.44H364.62V327.06H347.66ZM381.58 321.44H415.5V327.06H381.58ZM251.57 327.06H257.23V332.68H251.57ZM347.66 327.06H358.97V332.68H347.66ZM381.58 327.06H409.84V332.68H381.58ZM274.18 332.68H279.84V338.3H274.18ZM285.49 332.68H291.14V338.3H285.49ZM308.1 332.68H313.75V338.3H308.1ZM347.66 332.68H358.97V338.3H347.66ZM381.58 332.68H415.5V338.3H381.58ZM421.15 332.68H426.8V338.3H421.15Z"/>
<path fill="#9ec8e1" d="M178.09 1.1H189.4V6.72H178.09ZM319.4 1.1H325.06V6.72H319.4ZM353.32 1.1H358.97V6.72H353.32ZM161.13 6.72H172.44V12.34H161.13ZM178.09 6.72H183.74V12.34H178.09ZM195.05 6.72H206.35V12.34H195.05ZM330.71 6.72H336.36V12.34H330.71ZM364.62 6.72H375.93V12.34H364.62ZM178.09 12.34H183.74V17.96H178.09ZM189.4 12.34H195.05V17.96H189.4ZM370.27 12.34H375.93V17.96H370.27ZM217.66 17.96H228.96V23.58H217.66ZM251.57 17.96H257.23V23.58H251.57ZM342.01 40.44H347.66V46.06H342.01ZM432.45 57.3H443.76V62.92H432.45ZM76.34 62.92H82V68.54H76.34ZM82 74.16H87.65V79.78H82ZM438.11 85.4H443.76V91.02H438.11ZM381.58 107.88H387.23V113.5H381.58ZM551.15 107.88H562.46V113.5H551.15ZM364.62 113.5H370.27V119.12H364.62ZM404.19 113.5H409.84V119.12H404.19ZM455.06 113.5H460.72V119.12H455.06ZM522.89 113.5H528.54V119.12H522.89ZM370.27 119.12H381.58V124.74H370.27ZM392.88 119.12H404.19V124.74H392.88ZM539.85 119.12H545.5V124.74H539.85ZM364.62 124.74H370.27V130.36H364.62ZM375.93 124.74H387.23V130.36H375.93ZM432.45 124.74H438.11V130.36H432.45ZM443.76 124.74H449.41V130.36H443.76ZM517.24 124.74H522.89V130.36H517.24ZM375.93 130.36H381.58V135.98H375.93ZM432.45 130.36H438.11V135.98H432.45ZM443.76 130.36H449.41V135.98H443.76ZM500.28 130.36H505.93V135.98H500.28ZM115.91 135.98H121.56V141.6H115.91ZM421.15 135.98H426.8V141.6H421.15ZM121.56 147.22H127.22V152.84H121.56ZM421.15 147.22H426.8V152.84H421.15ZM432.45 147.22H443.76V152.84H432.45ZM472.02 147.22H483.33V152.84H472.02ZM144.18 152.84H149.83V158.46H144.18ZM155.48 152.84H161.13V158.46H155.48ZM443.76 152.84H455.06V158.46H443.76ZM443.76 158.46H449.41V164.08H443.76ZM443.76 164.08H449.41V169.7H443.76ZM472.02 164.08H477.67V169.7H472.02ZM285.49 169.7H291.14V175.32H285.49ZM432.45 169.7H438.11V175.32H432.45ZM449.41 169.7H455.06V175.32H449.41ZM562.46 169.7H568.11V175.32H562.46ZM285.49 175.32H291.14V180.94H285.49ZM438.11 175.32H443.76V180.94H438.11ZM291.14 180.94H296.79V186.56H291.14ZM432.45 180.94H438.11V186.56H432.45ZM449.41 180.94H460.72V186.56H449.41ZM291.14 186.56H296.79V192.18H291.14ZM387.23 186.56H392.88V192.18H387.23ZM144.18 192.18H149.83V197.8H144.18ZM392.88 192.18H398.54V197.8H392.88ZM466.37 192.18H472.02V197.8H466.37ZM539.85 192.18H545.5V197.8H539.85ZM302.44 197.8H308.1V203.42H302.44ZM472.02 203.42H477.67V209.04H472.02ZM511.59 203.42H517.24V209.04H511.59ZM183.74 209.04H189.4V214.66H183.74ZM392.88 209.04H404.19V214.66H392.88ZM438.11 209.04H443.76V214.66H438.11ZM189.4 214.66H200.7V220.28H189.4ZM319.4 214.66H342.01V220.28H319.4ZM387.23 214.66H392.88V220.28H387.23ZM483.33 214.66H488.98V220.28H483.33ZM500.28 214.66H505.93V220.28H500.28ZM217.66 220.28H223.31V225.9H217.66ZM381.58 220.28H392.88V225.9H381.58ZM195.05 225.9H200.7V231.52H195.05ZM228.96 225.9H234.62V231.52H228.96ZM358.97 225.9H387.23V231.52H358.97ZM460.72 225.9H472.02V231.52H460.72ZM511.59 225.9H517.24V231.52H511.59ZM195.05 231.52H200.7V237.14H195.05ZM364.62 231.52H370.27V237.14H364.62ZM375.93 231.52H387.23V237.14H375.93ZM392.88 231.52H398.54V237.14H392.88ZM426.8 231.52H432.45V237.14H426.8ZM370.27 237.14H381.58V242.76H370.27ZM392.88 237.14H398.54V242.76H392.88ZM438.11 237.14H443.76V242.76H438.11ZM375.93 242.76H392.88V248.38H375.93ZM443.76 242.76H449.41V248.38H443.76ZM375.93 248.38H387.23V254H375.93ZM421.15 248.38H438.11V254H421.15ZM308.1 254H313.75V259.62H308.1ZM387.23 254H392.88V259.62H387.23ZM432.45 254H443.76V259.62H432.45ZM455.06 254H466.37V259.62H455.06ZM251.57 259.62H257.23V265.24H251.57ZM330.71 259.62H336.36V265.24H330.71ZM432.45 259.62H438.11V265.24H432.45ZM443.76 259.62H449.41V265.24H443.76ZM466.37 259.62H472.02V265.24H466.37ZM291.14 265.24H296.79V270.86H291.14ZM409.84 265.24H415.5V270.86H409.84ZM279.84 270.86H285.49V276.48H279.84ZM313.75 270.86H319.4V276.48H313.75ZM308.1 276.48H313.75V282.1H308.1ZM319.4 276.48H330.71V282.1H319.4ZM438.11 282.1H449.41V287.72H438.11ZM415.5 287.72H421.15V293.34H415.5ZM443.76 287.72H455.06V293.34H443.76ZM528.54 287.72H534.2V293.34H528.54ZM325.06 293.34H330.71V298.96H325.06ZM449.41 293.34H455.06V298.96H449.41ZM313.75 298.96H319.4V304.58H313.75ZM347.66 310.2H353.32V315.82H347.66ZM319.4 315.82H325.06V321.44H319.4ZM381.58 315.82H387.23V321.44H381.58ZM308.1 321.44H313.75V327.06H308.1ZM302.44 332.68H308.1V338.3H302.44Z"/>
<path fill="#f6f4f3" d="M217.66 1.1H223.31V6.72H217.66ZM274.18 1.1H279.84V6.72H274.18ZM370.27 1.1H381.58V6.72H370.27ZM387.23 1.1H404.19V6.72H387.23ZM121.56 6.72H127.22V12.34H121.56ZM132.87 6.72H144.18V12.34H132.87ZM223.31 6.72H228.96V12.34H223.31ZM245.92 6.72H257.23V12.34H245.92ZM268.53 6.72H274.18V12.34H268.53ZM291.14 6.72H308.1V12.34H291.14ZM313.75 6.72H319.4V12.34H313.75ZM336.36 6.72H342.01V12.34H336.36ZM375.93 6.72H392.88V12.34H375.93ZM409.84 6.72H415.5V12.34H409.84ZM127.22 12.34H132.87V17.96H127.22ZM206.35 12.34H212V17.96H206.35ZM228.96 12.34H240.27V17.96H228.96ZM262.88 12.34H274.18V17.96H262.88ZM279.84 12.34H296.79V17.96H279.84ZM308.1 12.34H325.06V17.96H308.1ZM330.71 12.34H336.36V17.96H330.71ZM353.32 12.34H358.97V17.96H353.32ZM375.93 12.34H381.58V17.96H375.93ZM387.23 12.34H398.54V17.96H387.23ZM127.22 17.96H132.87V23.58H127.22ZM144.18 17.96H155.48V23.58H144.18ZM206.35 17.96H212V23.58H206.35ZM262.88 17.96H268.53V23.58H262.88ZM291.14 17.96H302.44V23.58H291.14ZM313.75 17.96H319.4V23.58H313.75ZM336.36 17.96H347.66V23.58H336.36ZM358.97 17.96H364.62V23.58H358.97ZM370.27 17.96H375.93V23.58H370.27ZM387.23 17.96H398.54V23.58H387.23ZM409.84 17.96H415.5V23.58H409.84ZM121.56 23.58H149.83V29.2H121.56ZM155.48 23.58H166.78V29.2H155.48ZM178.09 23.58H183.74V29.2H178.09ZM195.05 23.58H200.7V29.2H195.05ZM234.62 23.58H240.27V29.2H234.62ZM262.88 23.58H274.18V29.2H262.88ZM291.14 23.58H319.4V29.2H291.14ZM336.36 23.58H342.01V29.2H336.36ZM358.97 23.58H370.27V29.2H358.97ZM375.93 23.58H398.54V29.2H375.93ZM409.84 23.58H421.15V29.2H409.84ZM98.96 29.2H104.61V34.82H98.96ZM110.26 29.2H115.91V34.82H110.26ZM121.56 29.2H127.22V34.82H121.56ZM138.52 29.2H144.18V34.82H138.52ZM149.83 29.2H161.13V34.82H149.83ZM166.78 29.2H172.44V34.82H166.78ZM212 29.2H217.66V34.82H212ZM274.18 29.2H279.84V34.82H274.18ZM285.49 29.2H308.1V34.82H285.49ZM313.75 29.2H319.4V34.82H313.75ZM330.71 29.2H336.36V34.82H330.71ZM347.66 29.2H353.32V34.82H347.66ZM358.97 29.2H364.62V34.82H358.97ZM381.58 29.2H404.19V34.82H381.58ZM409.84 29.2H421.15V34.82H409.84ZM93.3 34.82H98.96V40.44H93.3ZM110.26 34.82H121.56V40.44H110.26ZM149.83 34.82H161.13V40.44H149.83ZM262.88 34.82H274.18V40.44H262.88ZM285.49 34.82H325.06V40.44H285.49ZM330.71 34.82H336.36V40.44H330.71ZM353.32 34.82H358.97V40.44H353.32ZM398.54 34.82H426.8V40.44H398.54ZM93.3 40.44H98.96V46.06H93.3ZM104.61 40.44H110.26V46.06H104.61ZM127.22 40.44H132.87V46.06H127.22ZM149.83 40.44H155.48V46.06H149.83ZM240.27 40.44H251.57V46.06H240.27ZM274.18 40.44H279.84V46.06H274.18ZM285.49 40.44H291.14V46.06H285.49ZM325.06 40.44H342.01V46.06H325.06ZM353.32 40.44H358.97V46.06H353.32ZM398.54 40.44H426.8V46.06H398.54ZM87.65 46.06H93.3V51.68H87.65ZM110.26 46.06H115.91V51.68H110.26ZM121.56 46.06H127.22V51.68H121.56ZM132.87 46.06H144.18V51.68H132.87ZM240.27 46.06H245.92V51.68H240.27ZM251.57 46.06H257.23V51.68H251.57ZM279.84 46.06H302.44V51.68H279.84ZM325.06 46.06H330.71V51.68H325.06ZM336.36 46.06H358.97V51.68H336.36ZM370.27 46.06H381.58V51.68H370.27ZM387.23 46.06H392.88V51.68H387.23ZM404.19 46.06H426.8V51.68H404.19ZM82 51.68H87.65V57.3H82ZM98.96 51.68H104.61V57.3H98.96ZM115.91 51.68H121.56V57.3H115.91ZM274.18 51.68H279.84V57.3H274.18ZM291.14 51.68H296.79V57.3H291.14ZM347.66 51.68H358.97V57.3H347.66ZM375.93 51.68H392.88V57.3H375.93ZM404.19 51.68H432.45V57.3H404.19ZM87.65 57.3H93.3V62.92H87.65ZM336.36 57.3H358.97V62.92H336.36ZM364.62 57.3H426.8V62.92H364.62ZM87.65 62.92H93.3V68.54H87.65ZM330.71 62.92H370.27V68.54H330.71ZM381.58 62.92H421.15V68.54H381.58ZM98.96 68.54H104.61V74.16H98.96ZM342.01 68.54H443.76V74.16H342.01ZM466.37 68.54H472.02V74.16H466.37ZM87.65 74.16H104.61V79.78H87.65ZM353.32 74.16H421.15V79.78H353.32ZM426.8 74.16H455.06V79.78H426.8ZM460.72 74.16H488.98V79.78H460.72ZM87.65 79.78H93.3V85.4H87.65ZM98.96 79.78H104.61V85.4H98.96ZM110.26 79.78H115.91V85.4H110.26ZM347.66 79.78H421.15V85.4H347.66ZM443.76 79.78H494.63V85.4H443.76ZM76.34 85.4H82V91.02H76.34ZM93.3 85.4H104.61V91.02H93.3ZM336.36 85.4H353.32V91.02H336.36ZM370.27 85.4H375.93V91.02H370.27ZM522.89 85.4H534.2V91.02H522.89ZM545.5 85.4H551.15V91.02H545.5ZM82 91.02H87.65V96.64H82ZM93.3 91.02H98.96V96.64H93.3ZM370.27 91.02H375.93V96.64H370.27ZM381.58 91.02H387.23V96.64H381.58ZM545.5 91.02H551.15V96.64H545.5ZM82 96.64H87.65V102.26H82ZM98.96 96.64H104.61V102.26H98.96ZM200.7 96.64H206.35V102.26H200.7ZM212 96.64H217.66V102.26H212ZM296.79 96.64H302.44V102.26H296.79ZM370.27 96.64H375.93V102.26H370.27ZM562.46 96.64H568.11V102.26H562.46ZM87.65 102.26H98.96V107.88H87.65ZM200.7 102.26H206.35V107.88H200.7ZM212 102.26H217.66V107.88H212ZM279.84 102.26H302.44V107.88H279.84ZM370.27 102.26H375.93V107.88H370.27ZM381.58 102.26H387.23V107.88H381.58ZM517.24 102.26H522.89V107.88H517.24ZM534.2 102.26H539.85V107.88H534.2ZM568.11 102.26H573.76V107.88H568.11ZM87.65 107.88H93.3V113.5H87.65ZM115.91 107.88H121.56V113.5H115.91ZM212 107.88H217.66V113.5H212ZM274.18 107.88H279.84V113.5H274.18ZM291.14 107.88H296.79V113.5H291.14ZM353.32 107.88H381.58V113.5H353.32ZM517.24 107.88H522.89V113.5H517.24ZM562.46 107.88H568.11V113.5H562.46ZM87.65 113.5H93.3V119.12H87.65ZM104.61 113.5H110.26V119.12H104.61ZM212 113.5H217.66V119.12H212ZM285.49 113.5H291.14V119.12H285.49ZM562.46 113.5H568.11V119.12H562.46ZM93.3 119.12H98.96V124.74H93.3ZM115.91 119.12H121.56V124.74H115.91ZM353.32 119.12H358.97V124.74H353.32ZM522.89 119.12H528.54V124.74H522.89ZM325.06 124.74H330.71V130.36H325.06ZM347.66 124.74H353.32V130.36H347.66ZM556.81 124.74H562.46V130.36H556.81ZM568.11 124.74H573.76V130.36H568.11ZM590.72 124.74H596.38V130.36H590.72ZM115.91 130.36H121.56V135.98H115.91ZM183.74 130.36H189.4V135.98H183.74ZM319.4 130.36H330.71V135.98H319.4ZM342.01 130.36H358.97V135.98H342.01ZM132.87 135.98H138.52V141.6H132.87ZM155.48 135.98H166.78V141.6H155.48ZM172.44 135.98H189.4V141.6H172.44ZM212 135.98H223.31V141.6H212ZM279.84 135.98H285.49V141.6H279.84ZM313.75 135.98H319.4V141.6H313.75ZM336.36 135.98H375.93V141.6H336.36ZM381.58 135.98H387.23V141.6H381.58ZM166.78 141.6H172.44V147.22H166.78ZM217.66 141.6H223.31V147.22H217.66ZM268.53 141.6H302.44V147.22H268.53ZM336.36 141.6H387.23V147.22H336.36ZM534.2 141.6H539.85V147.22H534.2ZM590.72 141.6H596.38V147.22H590.72ZM132.87 147.22H138.52V152.84H132.87ZM234.62 147.22H240.27V152.84H234.62ZM257.23 147.22H302.44V152.84H257.23ZM319.4 147.22H336.36V152.84H319.4ZM347.66 147.22H375.93V152.84H347.66ZM166.78 152.84H183.74V158.46H166.78ZM200.7 152.84H228.96V158.46H200.7ZM257.23 152.84H302.44V158.46H257.23ZM347.66 152.84H387.23V158.46H347.66ZM200.7 158.46H234.62V164.08H200.7ZM262.88 158.46H342.01V164.08H262.88ZM353.32 158.46H387.23V164.08H353.32ZM217.66 164.08H228.96V169.7H217.66ZM262.88 164.08H302.44V169.7H262.88ZM330.71 164.08H387.23V169.7H330.71ZM568.11 164.08H573.76V169.7H568.11ZM149.83 169.7H195.05V175.32H149.83ZM223.31 169.7H240.27V175.32H223.31ZM251.57 169.7H257.23V175.32H251.57ZM262.88 169.7H274.18V175.32H262.88ZM279.84 169.7H285.49V175.32H279.84ZM291.14 169.7H358.97V175.32H291.14ZM370.27 169.7H387.23V175.32H370.27ZM517.24 169.7H522.89V175.32H517.24ZM528.54 169.7H534.2V175.32H528.54ZM568.11 169.7H573.76V175.32H568.11ZM132.87 175.32H138.52V180.94H132.87ZM155.48 175.32H172.44V180.94H155.48ZM189.4 175.32H195.05V180.94H189.4ZM217.66 175.32H234.62V180.94H217.66ZM291.14 175.32H308.1V180.94H291.14ZM313.75 175.32H330.71V180.94H313.75ZM342.01 175.32H387.23V180.94H342.01ZM189.4 180.94H223.31V186.56H189.4ZM279.84 180.94H285.49V186.56H279.84ZM302.44 180.94H308.1V186.56H302.44ZM313.75 180.94H330.71V186.56H313.75ZM336.36 180.94H387.23V186.56H336.36ZM556.81 180.94H568.11V186.56H556.81ZM195.05 186.56H200.7V192.18H195.05ZM217.66 186.56H223.31V192.18H217.66ZM228.96 186.56H234.62V192.18H228.96ZM240.27 186.56H257.23V192.18H240.27ZM268.53 186.56H291.14V192.18H268.53ZM302.44 186.56H308.1V192.18H302.44ZM319.4 186.56H330.71V192.18H319.4ZM336.36 186.56H353.32V192.18H336.36ZM375.93 186.56H387.23V192.18H375.93ZM517.24 186.56H534.2V192.18H517.24ZM545.5 186.56H556.81V192.18H545.5ZM562.46 186.56H573.76V192.18H562.46ZM166.78 192.18H172.44V197.8H166.78ZM178.09 192.18H189.4V197.8H178.09ZM195.05 192.18H200.7V197.8H195.05ZM206.35 192.18H212V197.8H206.35ZM217.66 192.18H228.96V197.8H217.66ZM245.92 192.18H251.57V197.8H245.92ZM262.88 192.18H279.84V197.8H262.88ZM285.49 192.18H313.75V197.8H285.49ZM319.4 192.18H364.62V197.8H319.4ZM381.58 192.18H387.23V197.8H381.58ZM528.54 192.18H534.2V197.8H528.54ZM551.15 192.18H556.81V197.8H551.15ZM562.46 192.18H568.11V197.8H562.46ZM149.83 197.8H155.48V203.42H149.83ZM189.4 197.8H195.05V203.42H189.4ZM228.96 197.8H234.62V203.42H228.96ZM240.27 197.8H251.57V203.42H240.27ZM268.53 197.8H302.44V203.42H268.53ZM308.1 197.8H364.62V203.42H308.1ZM528.54 197.8H539.85V203.42H528.54ZM545.5 197.8H551.15V203.42H545.5ZM178.09 203.42H189.4V209.04H178.09ZM195.05 203.42H200.7V209.04H195.05ZM217.66 203.42H223.31V209.04H217.66ZM228.96 203.42H240.27V209.04H228.96ZM245.92 203.42H262.88V209.04H245.92ZM268.53 203.42H330.71V209.04H268.53ZM336.36 203.42H370.27V209.04H336.36ZM375.93 203.42H387.23V209.04H375.93ZM539.85 203.42H551.15V209.04H539.85ZM189.4 209.04H200.7V214.66H189.4ZM206.35 209.04H212V214.66H206.35ZM217.66 209.04H228.96V214.66H217.66ZM234.62 209.04H240.27V214.66H234.62ZM245.92 209.04H257.23V214.66H245.92ZM262.88 209.04H330.71V214.66H262.88ZM342.01 209.04H387.23V214.66H342.01ZM528.54 209.04H534.2V214.66H528.54ZM545.5 209.04H551.15V214.66H545.5ZM206.35 214.66H212V220.28H206.35ZM228.96 214.66H234.62V220.28H228.96ZM302.44 214.66H319.4V220.28H302.44ZM353.32 214.66H381.58V220.28H353.32ZM528.54 214.66H534.2V220.28H528.54ZM545.5 214.66H551.15V220.28H545.5ZM189.4 220.28H200.7V225.9H189.4ZM206.35 220.28H212V225.9H206.35ZM228.96 220.28H234.62V225.9H228.96ZM245.92 220.28H251.57V225.9H245.92ZM257.23 220.28H262.88V225.9H257.23ZM296.79 220.28H330.71V225.9H296.79ZM336.36 220.28H370.27V225.9H336.36ZM522.89 220.28H551.15V225.9H522.89ZM245.92 225.9H268.53V231.52H245.92ZM302.44 225.9H308.1V231.52H302.44ZM313.75 225.9H319.4V231.52H313.75ZM342.01 225.9H358.97V231.52H342.01ZM528.54 225.9H551.15V231.52H528.54ZM245.92 231.52H268.53V237.14H245.92ZM313.75 231.52H319.4V237.14H313.75ZM325.06 231.52H364.62V237.14H325.06ZM517.24 231.52H534.2V237.14H517.24ZM545.5 231.52H551.15V237.14H545.5ZM257.23 237.14H274.18V242.76H257.23ZM313.75 237.14H364.62V242.76H313.75ZM517.24 237.14H534.2V242.76H517.24ZM539.85 237.14H551.15V242.76H539.85ZM319.4 242.76H347.66V248.38H319.4ZM358.97 242.76H364.62V248.38H358.97ZM517.24 242.76H534.2V248.38H517.24ZM539.85 242.76H551.15V248.38H539.85ZM251.57 248.38H257.23V254H251.57ZM268.53 248.38H274.18V254H268.53ZM325.06 248.38H342.01V254H325.06ZM358.97 248.38H370.27V254H358.97ZM460.72 248.38H483.33V254H460.72ZM488.98 248.38H517.24V254H488.98ZM522.89 248.38H551.15V254H522.89ZM245.92 254H262.88V259.62H245.92ZM313.75 254H319.4V259.62H313.75ZM347.66 254H375.93V259.62H347.66ZM398.54 254H409.84V259.62H398.54ZM472.02 254H505.93V259.62H472.02ZM528.54 254H534.2V259.62H528.54ZM245.92 259.62H251.57V265.24H245.92ZM257.23 259.62H274.18V265.24H257.23ZM302.44 259.62H308.1V265.24H302.44ZM342.01 259.62H347.66V265.24H342.01ZM353.32 259.62H387.23V265.24H353.32ZM415.5 259.62H421.15V265.24H415.5ZM477.67 259.62H505.93V265.24H477.67ZM528.54 259.62H545.5V265.24H528.54ZM262.88 265.24H274.18V270.86H262.88ZM308.1 265.24H313.75V270.86H308.1ZM319.4 265.24H325.06V270.86H319.4ZM347.66 265.24H353.32V270.86H347.66ZM364.62 265.24H398.54V270.86H364.62ZM421.15 265.24H432.45V270.86H421.15ZM472.02 265.24H500.28V270.86H472.02ZM539.85 265.24H545.5V270.86H539.85ZM262.88 270.86H268.53V276.48H262.88ZM336.36 270.86H347.66V276.48H336.36ZM364.62 270.86H404.19V276.48H364.62ZM415.5 270.86H438.11V276.48H415.5ZM455.06 270.86H466.37V276.48H455.06ZM472.02 270.86H494.63V276.48H472.02ZM534.2 270.86H545.5V276.48H534.2ZM330.71 276.48H342.01V282.1H330.71ZM347.66 276.48H370.27V282.1H347.66ZM387.23 276.48H409.84V282.1H387.23ZM415.5 276.48H432.45V282.1H415.5ZM460.72 276.48H477.67V282.1H460.72ZM505.93 276.48H511.59V282.1H505.93ZM534.2 276.48H545.5V282.1H534.2ZM268.53 282.1H279.84V287.72H268.53ZM342.01 282.1H381.58V287.72H342.01ZM387.23 282.1H415.5V287.72H387.23ZM426.8 282.1H432.45V287.72H426.8ZM460.72 282.1H477.67V287.72H460.72ZM483.33 282.1H488.98V287.72H483.33ZM528.54 282.1H534.2V287.72H528.54ZM336.36 287.72H409.84V293.34H336.36ZM421.15 287.72H432.45V293.34H421.15ZM460.72 287.72H477.67V293.34H460.72ZM488.98 287.72H494.63V293.34H488.98ZM517.24 287.72H528.54V293.34H517.24ZM336.36 293.34H409.84V298.96H336.36ZM432.45 293.34H438.11V298.96H432.45ZM460.72 293.34H466.37V298.96H460.72ZM472.02 293.34H477.67V298.96H472.02ZM505.93 293.34H517.24V298.96H505.93ZM336.36 298.96H409.84V304.58H336.36ZM455.06 298.96H466.37V304.58H455.06ZM279.84 304.58H285.49V310.2H279.84ZM308.1 304.58H313.75V310.2H308.1ZM325.06 304.58H330.71V310.2H325.06ZM336.36 304.58H342.01V310.2H336.36ZM347.66 304.58H358.97V310.2H347.66ZM375.93 304.58H381.58V310.2H375.93ZM398.54 304.58H409.84V310.2H398.54ZM421.15 304.58H426.8V310.2H421.15ZM438.11 304.58H477.67V310.2H438.11ZM517.24 304.58H522.89V310.2H517.24ZM308.1 310.2H313.75V315.82H308.1ZM325.06 310.2H330.71V315.82H325.06ZM342.01 310.2H347.66V315.82H342.01ZM358.97 310.2H364.62V315.82H358.97ZM381.58 310.2H387.23V315.82H381.58ZM392.88 310.2H404.19V315.82H392.88ZM409.84 310.2H426.8V315.82H409.84ZM438.11 310.2H472.02V315.82H438.11ZM494.63 310.2H500.28V315.82H494.63ZM313.75 315.82H319.4V321.44H313.75ZM342.01 315.82H347.66V321.44H342.01ZM364.62 315.82H375.93V321.44H364.62ZM398.54 315.82H404.19V321.44H398.54ZM415.5 315.82H438.11V321.44H415.5ZM443.76 315.82H460.72V321.44H443.76ZM488.98 315.82H494.63V321.44H488.98ZM336.36 321.44H347.66V327.06H336.36ZM364.62 321.44H375.93V327.06H364.62ZM415.5 321.44H455.06V327.06H415.5ZM274.18 327.06H279.84V332.68H274.18ZM308.1 327.06H330.71V332.68H308.1ZM358.97 327.06H364.62V332.68H358.97ZM370.27 327.06H381.58V332.68H370.27ZM409.84 327.06H415.5V332.68H409.84ZM421.15 327.06H443.76V332.68H421.15ZM455.06 327.06H460.72V332.68H455.06ZM313.75 332.68H330.71V338.3H313.75ZM358.97 332.68H381.58V338.3H358.97ZM415.5 332.68H421.15V338.3H415.5ZM426.8 332.68H438.11V338.3H426.8Z"/>
<path fill="#d05548" d="M336.36 1.1H342.01V6.72H336.36ZM132.87 12.34H138.52V17.96H132.87ZM183.74 34.82H189.4V40.44H183.74ZM251.57 34.82H257.23V40.44H251.57ZM127.22 51.68H132.87V57.3H127.22ZM115.91 57.3H121.56V62.92H115.91ZM302.44 57.3H308.1V62.92H302.44ZM325.06 57.3H330.71V62.92H325.06ZM358.97 102.26H364.62V107.88H358.97ZM528.54 107.88H534.2V113.5H528.54ZM313.75 130.36H319.4V135.98H313.75ZM121.56 135.98H127.22V141.6H121.56ZM517.24 135.98H522.89V141.6H517.24ZM228.96 141.6H234.62V147.22H228.96ZM200.7 147.22H206.35V152.84H200.7ZM251.57 147.22H257.23V152.84H251.57ZM511.59 147.22H517.24V152.84H511.59ZM183.74 158.46H195.05V164.08H183.74ZM245.92 169.7H251.57V175.32H245.92ZM511.59 169.7H517.24V175.32H511.59ZM172.44 197.8H178.09V203.42H172.44ZM183.74 214.66H189.4V220.28H183.74ZM268.53 220.28H274.18V225.9H268.53ZM217.66 231.52H223.31V237.14H217.66ZM274.18 231.52H279.84V237.14H274.18ZM274.18 237.14H279.84V242.76H274.18ZM505.93 287.72H511.59V293.34H505.93ZM268.53 293.34H274.18V298.96H268.53ZM505.93 304.58H511.59V310.2H505.93ZM426.8 310.2H432.45V315.82H426.8ZM251.57 315.82H257.23V321.44H251.57ZM268.53 327.06H274.18V332.68H268.53ZM268.53 332.68H274.18V338.3H268.53Z"/>
<path fill="#b2182b" d="M149.83 12.34H155.48V17.96H149.83ZM200.7 12.34H206.35V17.96H200.7ZM132.87 17.96H138.52V23.58H132.87ZM183.74 17.96H195.05V23.58H183.74ZM206.35 23.58H212V29.2H206.35ZM217.66 23.58H228.96V29.2H217.66ZM245.92 23.58H251.57V29.2H245.92ZM115.91 29.2H121.56V34.82H115.91ZM127.22 29.2H132.87V34.82H127.22ZM189.4 29.2H206.35V34.82H189.4ZM223.31 29.2H228.96V34.82H223.31ZM121.56 34.82H138.52V40.44H121.56ZM189.4 34.82H200.7V40.44H189.4ZM223.31 34.82H228.96V40.44H223.31ZM121.56 40.44H127.22V46.06H121.56ZM155.48 40.44H161.13V46.06H155.48ZM172.44 40.44H178.09V46.06H172.44ZM212 40.44H217.66V46.06H212ZM115.91 46.06H121.56V51.68H115.91ZM149.83 46.06H166.78V51.68H149.83ZM217.66 46.06H223.31V51.68H217.66ZM110.26 51.68H115.91V57.3H110.26ZM93.3 57.3H98.96V62.92H93.3ZM279.84 57.3H285.49V62.92H279.84ZM308.1 57.3H313.75V62.92H308.1ZM93.3 62.92H98.96V68.54H93.3ZM302.44 62.92H330.71V68.54H302.44ZM76.34 68.54H82V74.16H76.34ZM302.44 68.54H342.01V74.16H302.44ZM104.61 74.16H110.26V79.78H104.61ZM308.1 74.16H313.75V79.78H308.1ZM319.4 74.16H330.71V79.78H319.4ZM342.01 74.16H353.32V79.78H342.01ZM104.61 79.78H110.26V85.4H104.61ZM240.27 79.78H245.92V85.4H240.27ZM308.1 79.78H342.01V85.4H308.1ZM302.44 85.4H330.71V91.02H302.44ZM353.32 85.4H364.62V91.02H353.32ZM511.59 85.4H522.89V91.02H511.59ZM98.96 91.02H104.61V96.64H98.96ZM212 91.02H217.66V96.64H212ZM223.31 91.02H228.96V96.64H223.31ZM342.01 91.02H364.62V96.64H342.01ZM375.93 91.02H381.58V96.64H375.93ZM93.3 96.64H98.96V102.26H93.3ZM195.05 96.64H200.7V102.26H195.05ZM206.35 96.64H212V102.26H206.35ZM313.75 96.64H319.4V102.26H313.75ZM325.06 96.64H347.66V102.26H325.06ZM353.32 96.64H370.27V102.26H353.32ZM375.93 96.64H387.23V102.26H375.93ZM539.85 96.64H545.5V102.26H539.85ZM98.96 102.26H104.61V107.88H98.96ZM132.87 102.26H138.52V107.88H132.87ZM195.05 102.26H200.7V107.88H195.05ZM206.35 102.26H212V107.88H206.35ZM274.18 102.26H279.84V107.88H274.18ZM302.44 102.26H342.01V107.88H302.44ZM353.32 102.26H358.97V107.88H353.32ZM364.62 102.26H370.27V107.88H364.62ZM375.93 102.26H381.58V107.88H375.93ZM528.54 102.26H534.2V107.88H528.54ZM93.3 107.88H98.96V113.5H93.3ZM195.05 107.88H212V113.5H195.05ZM268.53 107.88H274.18V113.5H268.53ZM296.79 107.88H336.36V113.5H296.79ZM545.5 107.88H551.15V113.5H545.5ZM82 113.5H87.65V119.12H82ZM93.3 113.5H98.96V119.12H93.3ZM121.56 113.5H127.22V119.12H121.56ZM189.4 113.5H212V119.12H189.4ZM268.53 113.5H279.84V119.12H268.53ZM291.14 113.5H336.36V119.12H291.14ZM534.2 113.5H539.85V119.12H534.2ZM568.11 113.5H573.76V119.12H568.11ZM87.65 119.12H93.3V124.74H87.65ZM98.96 119.12H110.26V124.74H98.96ZM189.4 119.12H217.66V124.74H189.4ZM251.57 119.12H262.88V124.74H251.57ZM279.84 119.12H296.79V124.74H279.84ZM302.44 119.12H330.71V124.74H302.44ZM336.36 119.12H347.66V124.74H336.36ZM488.98 119.12H494.63V124.74H488.98ZM500.28 119.12H505.93V124.74H500.28ZM528.54 119.12H539.85V124.74H528.54ZM573.76 119.12H579.42V124.74H573.76ZM585.07 119.12H590.72V124.74H585.07ZM104.61 124.74H110.26V130.36H104.61ZM127.22 124.74H132.87V130.36H127.22ZM189.4 124.74H217.66V130.36H189.4ZM223.31 124.74H234.62V130.36H223.31ZM240.27 124.74H319.4V130.36H240.27ZM330.71 124.74H342.01V130.36H330.71ZM488.98 124.74H494.63V130.36H488.98ZM522.89 124.74H539.85V130.36H522.89ZM573.76 124.74H590.72V130.36H573.76ZM93.3 130.36H98.96V135.98H93.3ZM104.61 130.36H115.91V135.98H104.61ZM132.87 130.36H155.48V135.98H132.87ZM189.4 130.36H200.7V135.98H189.4ZM223.31 130.36H285.49V135.98H223.31ZM291.14 130.36H296.79V135.98H291.14ZM302.44 130.36H313.75V135.98H302.44ZM505.93 130.36H511.59V135.98H505.93ZM522.89 130.36H534.2V135.98H522.89ZM585.07 130.36H590.72V135.98H585.07ZM138.52 135.98H149.83V141.6H138.52ZM166.78 135.98H172.44V141.6H166.78ZM189.4 135.98H206.35V141.6H189.4ZM223.31 135.98H257.23V141.6H223.31ZM262.88 135.98H274.18V141.6H262.88ZM302.44 135.98H313.75V141.6H302.44ZM330.71 135.98H336.36V141.6H330.71ZM494.63 135.98H500.28V141.6H494.63ZM511.59 135.98H517.24V141.6H511.59ZM528.54 135.98H534.2V141.6H528.54ZM539.85 135.98H551.15V141.6H539.85ZM573.76 135.98H579.42V141.6H573.76ZM585.07 135.98H590.72V141.6H585.07ZM104.61 141.6H110.26V147.22H104.61ZM115.91 141.6H121.56V147.22H115.91ZM138.52 141.6H144.18V147.22H138.52ZM155.48 141.6H166.78V147.22H155.48ZM172.44 141.6H206.35V147.22H172.44ZM223.31 141.6H228.96V147.22H223.31ZM234.62 141.6H257.23V147.22H234.62ZM302.44 141.6H313.75V147.22H302.44ZM488.98 141.6H494.63V147.22H488.98ZM511.59 141.6H517.24V147.22H511.59ZM522.89 141.6H534.2V147.22H522.89ZM539.85 141.6H545.5V147.22H539.85ZM562.46 141.6H568.11V147.22H562.46ZM585.07 141.6H590.72V147.22H585.07ZM104.61 147.22H110.26V152.84H104.61ZM115.91 147.22H121.56V152.84H115.91ZM144.18 147.22H149.83V152.84H144.18ZM161.13 147.22H178.09V152.84H161.13ZM183.74 147.22H189.4V152.84H183.74ZM240.27 147.22H251.57V152.84H240.27ZM505.93 147.22H511.59V152.84H505.93ZM517.24 147.22H568.11V152.84H517.24ZM579.42 147.22H585.07V152.84H579.42ZM183.74 152.84H195.05V158.46H183.74ZM494.63 152.84H500.28V158.46H494.63ZM505.93 152.84H562.46V158.46H505.93ZM573.76 152.84H585.07V158.46H573.76ZM115.91 158.46H121.56V164.08H115.91ZM500.28 158.46H562.46V164.08H500.28ZM568.11 158.46H573.76V164.08H568.11ZM183.74 164.08H195.05V169.7H183.74ZM500.28 164.08H505.93V169.7H500.28ZM511.59 164.08H528.54V169.7H511.59ZM534.2 164.08H556.81V169.7H534.2ZM522.89 169.7H528.54V175.32H522.89ZM539.85 169.7H551.15V175.32H539.85ZM494.63 175.32H500.28V180.94H494.63ZM522.89 175.32H528.54V180.94H522.89ZM539.85 175.32H551.15V180.94H539.85ZM500.28 180.94H505.93V186.56H500.28ZM257.23 186.56H262.88V192.18H257.23ZM494.63 186.56H500.28V192.18H494.63ZM161.13 192.18H166.78V197.8H161.13ZM155.48 197.8H172.44V203.42H155.48ZM161.13 203.42H166.78V209.04H161.13ZM189.4 203.42H195.05V209.04H189.4ZM274.18 214.66H279.84V220.28H274.18ZM285.49 214.66H296.79V220.28H285.49ZM274.18 220.28H296.79V225.9H274.18ZM189.4 225.9H195.05V231.52H189.4ZM274.18 225.9H296.79V231.52H274.18ZM189.4 231.52H195.05V237.14H189.4ZM200.7 231.52H206.35V237.14H200.7ZM279.84 231.52H296.79V237.14H279.84ZM223.31 237.14H234.62V242.76H223.31ZM279.84 237.14H296.79V242.76H279.84ZM206.35 242.76H212V248.38H206.35ZM285.49 242.76H308.1V248.38H285.49ZM234.62 248.38H240.27V254H234.62ZM262.88 248.38H268.53V254H262.88ZM308.1 248.38H319.4V254H308.1ZM262.88 254H274.18V259.62H262.88ZM313.75 259.62H319.4V265.24H313.75ZM262.88 276.48H268.53V282.1H262.88ZM262.88 287.72H279.84V293.34H262.88ZM522.89 293.34H528.54V298.96H522.89ZM251.57 298.96H257.23V304.58H251.57ZM262.88 298.96H274.18V304.58H262.88ZM505.93 298.96H517.24V304.58H505.93ZM251.57 304.58H279.84V310.2H251.57ZM483.33 304.58H488.98V310.2H483.33ZM511.59 304.58H517.24V310.2H511.59ZM257.23 310.2H274.18V315.82H257.23ZM483.33 310.2H488.98V315.82H483.33ZM262.88 315.82H268.53V321.44H262.88ZM279.84 315.82H291.14V321.44H279.84ZM325.06 315.82H330.71V321.44H325.06ZM279.84 321.44H291.14V327.06H279.84ZM245.92 327.06H251.57V332.68H245.92ZM257.23 327.06H262.88V332.68H257.23ZM285.49 327.06H291.14V332.68H285.49ZM240.27 332.68H245.92V338.3H240.27ZM251.57 332.68H268.53V338.3H251.57ZM279.84 332.68H285.49V338.3H279.84ZM455.06 332.68H460.72V338.3H455.06Z"/>
<path fill="#f8c3a9" d="M364.62 17.96H370.27V23.58H364.62ZM172.44 29.2H178.09V34.82H172.44ZM342.01 34.82H347.66V40.44H342.01ZM115.91 91.02H121.56V96.64H115.91ZM115.91 96.64H121.56V102.26H115.91ZM138.52 107.88H144.18V113.5H138.52ZM121.56 130.36H127.22V135.98H121.56ZM138.52 152.84H144.18V158.46H138.52ZM245.92 152.84H251.57V158.46H245.92ZM251.57 175.32H257.23V180.94H251.57ZM517.24 175.32H522.89V180.94H517.24ZM274.18 180.94H279.84V186.56H274.18ZM364.62 192.18H370.27V197.8H364.62ZM364.62 197.8H370.27V203.42H364.62ZM296.79 214.66H302.44V220.28H296.79ZM268.53 225.9H274.18V231.52H268.53ZM347.66 248.38H353.32V254H347.66ZM517.24 248.38H522.89V254H517.24ZM511.59 259.62H517.24V265.24H511.59ZM505.93 265.24H517.24V270.86H505.93ZM505.93 270.86H517.24V276.48H505.93ZM500.28 276.48H505.93V282.1H500.28ZM511.59 276.48H517.24V282.1H511.59ZM522.89 276.48H528.54V282.1H522.89ZM494.63 282.1H500.28V287.72H494.63ZM511.59 282.1H517.24V287.72H511.59ZM494.63 287.72H500.28V293.34H494.63ZM511.59 287.72H517.24V293.34H511.59ZM421.15 293.34H426.8V298.96H421.15ZM500.28 298.96H505.93V304.58H500.28ZM500.28 304.58H505.93V310.2H500.28ZM274.18 321.44H279.84V327.06H274.18ZM342.01 327.06H347.66V332.68H342.01ZM364.62 327.06H370.27V332.68H364.62ZM443.76 327.06H449.41V332.68H443.76ZM336.36 332.68H347.66V338.3H336.36ZM443.76 332.68H449.41V338.3H443.76Z"/>
<path fill="#e58267" d="M183.74 29.2H189.4V34.82H183.74ZM409.84 85.4H415.5V91.02H409.84ZM387.23 91.02H392.88V96.64H387.23ZM110.26 96.64H115.91V102.26H110.26ZM494.63 113.5H505.93V119.12H494.63ZM330.71 119.12H336.36V124.74H330.71ZM494.63 119.12H500.28V124.74H494.63ZM505.93 119.12H511.59V124.74H505.93ZM579.42 119.12H585.07V124.74H579.42ZM319.4 124.74H325.06V130.36H319.4ZM494.63 124.74H500.28V130.36H494.63ZM127.22 130.36H132.87V135.98H127.22ZM534.2 130.36H539.85V135.98H534.2ZM590.72 130.36H596.38V135.98H590.72ZM534.2 135.98H539.85V141.6H534.2ZM556.81 135.98H562.46V141.6H556.81ZM579.42 135.98H585.07V141.6H579.42ZM257.23 141.6H268.53V147.22H257.23ZM330.71 141.6H336.36V147.22H330.71ZM568.11 141.6H573.76V147.22H568.11ZM579.42 141.6H585.07V147.22H579.42ZM138.52 147.22H144.18V152.84H138.52ZM302.44 147.22H308.1V152.84H302.44ZM313.75 147.22H319.4V152.84H313.75ZM336.36 147.22H342.01V152.84H336.36ZM568.11 147.22H573.76V152.84H568.11ZM336.36 152.84H342.01V158.46H336.36ZM562.46 152.84H568.11V158.46H562.46ZM251.57 158.46H262.88V164.08H251.57ZM573.76 158.46H579.42V164.08H573.76ZM251.57 164.08H262.88V169.7H251.57ZM579.42 164.08H585.07V169.7H579.42ZM195.05 169.7H206.35V175.32H195.05ZM240.27 169.7H245.92V175.32H240.27ZM551.15 169.7H562.46V175.32H551.15ZM245.92 175.32H251.57V180.94H245.92ZM308.1 175.32H313.75V180.94H308.1ZM517.24 180.94H522.89V186.56H517.24ZM545.5 180.94H551.15V186.56H545.5ZM308.1 186.56H313.75V192.18H308.1ZM178.09 197.8H183.74V203.42H178.09ZM455.06 197.8H460.72V203.42H455.06ZM166.78 203.42H172.44V209.04H166.78ZM455.06 203.42H460.72V209.04H455.06ZM178.09 209.04H183.74V214.66H178.09ZM223.31 231.52H228.96V237.14H223.31ZM195.05 237.14H200.7V242.76H195.05ZM228.96 242.76H234.62V248.38H228.96ZM302.44 254H308.1V259.62H302.44ZM279.84 259.62H285.49V265.24H279.84ZM505.93 282.1H511.59V287.72H505.93ZM274.18 293.34H279.84V298.96H274.18ZM517.24 293.34H522.89V298.96H517.24ZM257.23 298.96H262.88V304.58H257.23ZM330.71 304.58H336.36V310.2H330.71ZM409.84 304.58H415.5V310.2H409.84ZM432.45 304.58H438.11V310.2H432.45ZM488.98 310.2H494.63V315.82H488.98ZM268.53 315.82H274.18V321.44H268.53ZM336.36 315.82H342.01V321.44H336.36ZM268.53 321.44H274.18V327.06H268.53ZM449.41 327.06H455.06V332.68H449.41Z"/>
<path fill="#e8eff6" d="M398.54 85.4H404.19V91.02H398.54ZM415.5 85.4H432.45V91.02H415.5ZM443.76 85.4H511.59V91.02H443.76ZM392.88 91.02H426.8V96.64H392.88ZM432.45 91.02H438.11V96.64H432.45ZM443.76 91.02H511.59V96.64H443.76ZM387.23 96.64H438.11V102.26H387.23ZM443.76 96.64H511.59V102.26H443.76ZM398.54 102.26H505.93V107.88H398.54ZM511.59 102.26H517.24V107.88H511.59ZM404.19 107.88H477.67V113.5H404.19ZM483.33 107.88H494.63V113.5H483.33ZM409.84 113.5H455.06V119.12H409.84ZM460.72 113.5H472.02V119.12H460.72ZM477.67 113.5H488.98V119.12H477.67ZM511.59 113.5H517.24V119.12H511.59ZM415.5 119.12H443.76V124.74H415.5ZM449.41 119.12H472.02V124.74H449.41ZM398.54 124.74H421.15V130.36H398.54ZM449.41 124.74H488.98V130.36H449.41ZM392.88 130.36H421.15V135.98H392.88ZM455.06 130.36H500.28V135.98H455.06ZM511.59 130.36H517.24V135.98H511.59ZM387.23 135.98H415.5V141.6H387.23ZM443.76 135.98H460.72V141.6H443.76ZM466.37 135.98H483.33V141.6H466.37ZM505.93 135.98H511.59V141.6H505.93ZM392.88 141.6H421.15V147.22H392.88ZM443.76 141.6H488.98V147.22H443.76ZM500.28 141.6H505.93V147.22H500.28ZM392.88 147.22H421.15V152.84H392.88ZM443.76 147.22H472.02V152.84H443.76ZM483.33 147.22H505.93V152.84H483.33ZM398.54 152.84H438.11V158.46H398.54ZM455.06 152.84H483.33V158.46H455.06ZM488.98 152.84H494.63V158.46H488.98ZM392.88 158.46H398.54V164.08H392.88ZM404.19 158.46H443.76V164.08H404.19ZM455.06 158.46H500.28V164.08H455.06ZM398.54 164.08H443.76V169.7H398.54ZM455.06 164.08H472.02V169.7H455.06ZM477.67 164.08H488.98V169.7H477.67ZM387.23 169.7H404.19V175.32H387.23ZM415.5 169.7H432.45V175.32H415.5ZM438.11 169.7H443.76V175.32H438.11ZM460.72 169.7H483.33V175.32H460.72ZM494.63 169.7H511.59V175.32H494.63ZM387.23 175.32H432.45V180.94H387.23ZM443.76 175.32H449.41V180.94H443.76ZM460.72 175.32H472.02V180.94H460.72ZM477.67 175.32H488.98V180.94H477.67ZM500.28 175.32H505.93V180.94H500.28ZM387.23 180.94H432.45V186.56H387.23ZM443.76 180.94H449.41V186.56H443.76ZM460.72 180.94H472.02V186.56H460.72ZM477.67 180.94H494.63V186.56H477.67ZM505.93 180.94H511.59V186.56H505.93ZM392.88 186.56H432.45V192.18H392.88ZM438.11 186.56H466.37V192.18H438.11ZM472.02 186.56H494.63V192.18H472.02ZM500.28 186.56H517.24V192.18H500.28ZM398.54 192.18H404.19V197.8H398.54ZM409.84 192.18H438.11V197.8H409.84ZM449.41 192.18H466.37V197.8H449.41ZM472.02 192.18H488.98V197.8H472.02ZM494.63 192.18H505.93V197.8H494.63ZM387.23 197.8H432.45V203.42H387.23ZM438.11 197.8H455.06V203.42H438.11ZM460.72 197.8H466.37V203.42H460.72ZM472.02 197.8H500.28V203.42H472.02ZM505.93 197.8H517.24V203.42H505.93ZM404.19 203.42H432.45V209.04H404.19ZM443.76 203.42H449.41V209.04H443.76ZM460.72 203.42H472.02V209.04H460.72ZM477.67 203.42H511.59V209.04H477.67ZM409.84 209.04H438.11V214.66H409.84ZM455.06 209.04H460.72V214.66H455.06ZM472.02 209.04H494.63V214.66H472.02ZM398.54 214.66H438.11V220.28H398.54ZM443.76 214.66H449.41V220.28H443.76ZM466.37 214.66H483.33V220.28H466.37ZM488.98 214.66H494.63V220.28H488.98ZM398.54 220.28H415.5V225.9H398.54ZM421.15 220.28H438.11V225.9H421.15ZM443.76 220.28H466.37V225.9H443.76ZM488.98 220.28H500.28V225.9H488.98ZM398.54 225.9H426.8V231.52H398.54ZM443.76 225.9H460.72V231.52H443.76ZM488.98 225.9H500.28V231.52H488.98ZM398.54 231.52H421.15V237.14H398.54ZM438.11 231.52H443.76V237.14H438.11ZM483.33 231.52H500.28V237.14H483.33ZM511.59 231.52H517.24V237.14H511.59ZM404.19 237.14H421.15V242.76H404.19ZM426.8 237.14H438.11V242.76H426.8ZM472.02 237.14H477.67V242.76H472.02ZM500.28 237.14H517.24V242.76H500.28ZM398.54 242.76H421.15V248.38H398.54ZM455.06 242.76H472.02V248.38H455.06ZM483.33 242.76H511.59V248.38H483.33Z"/></g>
<g clip-path="url(#mapclip)"><path fill="#ff3300" d="M162.21 138.79a1.75 1.75 0 1 0 3.5 0a1.75 1.75 0 1 0 -3.5 0ZM162.21 144.41a1.75 1.75 0 1 0 3.5 0a1.75 1.75 0 1 0 -3.5 0ZM167.86 138.79a1.75 1.75 0 1 0 3.5 0a1.75 1.75 0 1 0 -3.5 0ZM167.86 144.41a1.75 1.75 0 1 0 3.5 0a1.75 1.75 0 1 0 -3.5 0ZM167.86 150.03a1.75 1.75 0 1 0 3.5 0a1.75 1.75 0 1 0 -3.5 0ZM167.86 155.65a1.75 1.75 0 1 0 3.5 0a1.75 1.75 0 1 0 -3.5 0ZM173.51 138.79a1.75 1.75 0 1 0 3.5 0a1.75 1.75 0 1 0 -3.5 0ZM173.51 144.41a1.75 1.75 0 1 0 3.5 0a1.75 1.75 0 1 0 -3.5 0ZM173.51 155.65a1.75 1.75 0 1 0 3.5 0a1.75 1.75 0 1 0 -3.5 0ZM173.51 161.27a1.75 1.75 0 1 0 3.5 0a1.75 1.75 0 1 0 -3.5 0ZM179.17 133.17a1.75 1.75 0 1 0 3.5 0a1.75 1.75 0 1 0 -3.5 0ZM179.17 138.79a1.75 1.75 0 1 0 3.5 0a1.75 1.75 0 1 0 -3.5 0ZM179.17 144.41a1.75 1.75 0 1 0 3.5 0a1.75 1.75 0 1 0 -3.5 0ZM179.17 155.65a1.75 1.75 0 1 0 3.5 0a1.75 1.75 0 1 0 -3.5 0ZM179.17 161.27a1.75 1.75 0 1 0 3.5 0a1.75 1.75 0 1 0 -3.5 0ZM184.82 133.17a1.75 1.75 0 1 0 3.5 0a1.75 1.75 0 1 0 -3.5 0ZM184.82 138.79a1.75 1.75 0 1 0 3.5 0a1.75 1.75 0 1 0 -3.5 0ZM184.82 155.65a1.75 1.75 0 1 0 3.5 0a1.75 1.75 0 1 0 -3.5 0ZM190.47 150.03a1.75 1.75 0 1 0 3.5 0a1.75 1.75 0 1 0 -3.5 0ZM190.47 155.65a1.75 1.75 0 1 0 3.5 0a1.75 1.75 0 1 0 -3.5 0ZM190.47 161.27a1.75 1.75 0 1 0 3.5 0a1.75 1.75 0 1 0 -3.5 0ZM196.12 138.79a1.75 1.75 0 1 0 3.5 0a1.75 1.75 0 1 0 -3.5 0ZM196.12 144.41a1.75 1.75 0 1 0 3.5 0a1.75 1.75 0 1 0 -3.5 0ZM196.12 150.03a1.75 1.75 0 1 0 3.5 0a1.75 1.75 0 1 0 -3.5 0ZM196.12 155.65a1.75 1.75 0 1 0 3.5 0a1.75 1.75 0 1 0 -3.5 0ZM196.12 161.27a1.75 1.75 0 1 0 3.5 0a1.75 1.75 0 1 0 -3.5 0ZM201.78 105.07a1.75 1.75 0 1 0 3.5 0a1.75 1.75 0 1 0 -3.5 0ZM201.78 138.79a1.75 1.75 0 1 0 3.5 0a1.75 1.75 0 1 0 -3.5 0ZM201.78 144.41a1.75 1.75 0 1 0 3.5 0a1.75 1.75 0 1 0 -3.5 0ZM201.78 150.03a1.75 1.75 0 1 0 3.5 0a1.75 1.75 0 1 0 -3.5 0ZM201.78 155.65a1.75 1.75 0 1 0 3.5 0a1.75 1.75 0 1 0 -3.5 0ZM201.78 161.27a1.75 1.75 0 1 0 3.5 0a1.75 1.75 0 1 0 -3.5 0ZM207.43 105.07a1.75 1.75 0 1 0 3.5 0a1.75 1.75 0 1 0 -3.5 0ZM207.43 155.65a1.75 1.75 0 1 0 3.5 0a1.75 1.75 0 1 0 -3.5 0ZM207.43 166.89a1.75 1.75 0 1 0 3.5 0a1.75 1.75 0 1 0 -3.5 0ZM207.43 172.51a1.75 1.75 0 1 0 3.5 0a1.75 1.75 0 1 0 -3.5 0ZM207.43 178.13a1.75 1.75 0 1 0 3.5 0a1.75 1.75 0 1 0 -3.5 0ZM213.08 133.17a1.75 1.75 0 1 0 3.5 0a1.75 1.75 0 1 0 -3.5 0ZM213.08 155.65a1.75 1.75 0 1 0 3.5 0a1.75 1.75 0 1 0 -3.5 0ZM213.08 161.27a1.75 1.75 0 1 0 3.5 0a1.75 1.75 0 1 0 -3.5 0ZM213.08 166.89a1.75 1.75 0 1 0 3.5 0a1.75 1.75 0 1 0 -3.5 0ZM213.08 172.51a1.75 1.75 0 1 0 3.5 0a1.75 1.75 0 1 0 -3.5 0ZM218.73 93.83a1.75 1.75 0 1 0 3.5 0a1.75 1.75 0 1 0 -3.5 0ZM218.73 133.17a1.75 1.75 0 1 0 3.5 0a1.75 1.75 0 1 0 -3.5 0ZM218.73 144.41a1.75 1.75 0 1 0 3.5 0a1.75 1.75 0 1 0 -3.5 0ZM218.73 150.03a1.75 1.75 0 1 0 3.5 0a1.75 1.75 0 1 0 -3.5 0ZM218.73 155.65a1.75 1.75 0 1 0 3.5 0a1.75 1.75 0 1 0 -3.5 0ZM218.73 161.27a1.75 1.75 0 1 0 3.5 0a1.75 1.75 0 1 0 -3.5 0ZM218.73 172.51a1.75 1.75 0 1 0 3.5 0a1.75 1.75 0 1 0 -3.5 0ZM224.39 150.03a1.75 1.75 0 1 0 3.5 0a1.75 1.75 0 1 0 -3.5 0ZM224.39 155.65a1.75 1.75 0 1 0 3.5 0a1.75 1.75 0 1 0 -3.5 0ZM224.39 161.27a1.75 1.75 0 1 0 3.5 0a1.75 1.75 0 1 0 -3.5 0ZM224.39 172.51a1.75 1.75 0 1 0 3.5 0a1.75 1.75 0 1 0 -3.5 0ZM230.04 54.49a1.75 1.75 0 1 0 3.5 0a1.75 1.75 0 1 0 -3.5 0ZM230.04 60.11a1.75 1.75 0 1 0 3.5 0a1.75 1.75 0 1 0 -3.5 0ZM230.04 65.73a1.75 1.75 0 1 0 3.5 0a1.75 1.75 0 1 0 -3.5 0ZM230.04 76.97a1.75 1.75 0 1 0 3.5 0a1.75 1.75 0 1 0 -3.5 0ZM230.04 88.21a1.75 1.75 0 1 0 3.5 0a1.75 1.75 0 1 0 -3.5 0ZM230.04 144.41a1.75 1.75 0 1 0 3.5 0a1.75 1.75 0 1 0 -3.5 0ZM230.04 155.65a1.75 1.75 0 1 0 3.5 0a1.75 1.75 0 1 0 -3.5 0ZM230.04 161.27a1.75 1.75 0 1 0 3.5 0a1.75 1.75 0 1 0 -3.5 0ZM235.69 76.97a1.75 1.75 0 1 0 3.5 0a1.75 1.75 0 1 0 -3.5 0ZM235.69 144.41a1.75 1.75 0 1 0 3.5 0a1.75 1.75 0 1 0 -3.5 0ZM235.69 155.65a1.75 1.75 0 1 0 3.5 0a1.75 1.75 0 1 0 -3.5 0ZM235.69 161.27a1.75 1.75 0 1 0 3.5 0a1.75 1.75 0 1 0 -3.5 0ZM241.34 155.65a1.75 1.75 0 1 0 3.5 0a1.75 1.75 0 1 0 -3.5 0ZM241.34 161.27a1.75 1.75 0 1 0 3.5 0a1.75 1.75 0 1 0 -3.5 0ZM247 144.41a1.75 1.75 0 1 0 3.5 0a1.75 1.75 0 1 0 -3.5 0ZM247 155.65a1.75 1.75 0 1 0 3.5 0a1.75 1.75 0 1 0 -3.5 0ZM247 161.27a1.75 1.75 0 1 0 3.5 0a1.75 1.75 0 1 0 -3.5 0ZM252.65 65.73a1.75 1.75 0 1 0 3.5 0a1.75 1.75 0 1 0 -3.5 0ZM252.65 88.21a1.75 1.75 0 1 0 3.5 0a1.75 1.75 0 1 0 -3.5 0ZM252.65 93.83a1.75 1.75 0 1 0 3.5 0a1.75 1.75 0 1 0 -3.5 0ZM252.65 144.41a1.75 1.75 0 1 0 3.5 0a1.75 1.75 0 1 0 -3.5 0ZM252.65 155.65a1.75 1.75 0 1 0 3.5 0a1.75 1.75 0 1 0 -3.5 0ZM252.65 161.27a1.75 1.75 0 1 0 3.5 0a1.75 1.75 0 1 0 -3.5 0ZM252.65 166.89a1.75 1.75 0 1 0 3.5 0a1.75 1.75 0 1 0 -3.5 0ZM258.3 9.53a1.75 1.75 0 1 0 3.5 0a1.75 1.75 0 1 0 -3.5 0ZM258.3 15.15a1.75 1.75 0 1 0 3.5 0a1.75 1.75 0 1 0 -3.5 0ZM258.3 43.25a1.75 1.75 0 1 0 3.5 0a1.75 1.75 0 1 0 -3.5 0ZM258.3 60.11a1.75 1.75 0 1 0 3.5 0a1.75 1.75 0 1 0 -3.5 0ZM258.3 65.73a1.75 1.75 0 1 0 3.5 0a1.75 1.75 0 1 0 -3.5 0ZM258.3 88.21a1.75 1.75 0 1 0 3.5 0a1.75 1.75 0 1 0 -3.5 0ZM258.3 138.79a1.75 1.75 0 1 0 3.5 0a1.75 1.75 0 1 0 -3.5 0ZM258.3 144.41a1.75 1.75 0 1 0 3.5 0a1.75 1.75 0 1 0 -3.5 0ZM258.3 155.65a1.75 1.75 0 1 0 3.5 0a1.75 1.75 0 1 0 -3.5 0ZM258.3 161.27a1.75 1.75 0 1 0 3.5 0a1.75 1.75 0 1 0 -3.5 0ZM258.3 166.89a1.75 1.75 0 1 0 3.5 0a1.75 1.75 0 1 0 -3.5 0ZM258.3 189.37a1.75 1.75 0 1 0 3.5 0a1.75 1.75 0 1 0 -3.5 0ZM263.95 9.53a1.75 1.75 0 1 0 3.5 0a1.75 1.75 0 1 0 -3.5 0ZM263.95 15.15a1.75 1.75 0 1 0 3.5 0a1.75 1.75 0 1 0 -3.5 0ZM263.95 127.55a1.75 1.75 0 1 0 3.5 0a1.75 1.75 0 1 0 -3.5 0ZM263.95 133.17a1.75 1.75 0 1 0 3.5 0a1.75 1.75 0 1 0 -3.5 0ZM263.95 138.79a1.75 1.75 0 1 0 3.5 0a1.75 1.75 0 1 0 -3.5 0ZM263.95 144.41a1.75 1.75 0 1 0 3.5 0a1.75 1.75 0 1 0 -3.5 0ZM263.95 155.65a1.75 1.75 0 1 0 3.5 0a1.75 1.75 0 1 0 -3.5 0ZM263.95 161.27a1.75 1.75 0 1 0 3.5 0a1.75 1.75 0 1 0 -3.5 0ZM263.95 166.89a1.75 1.75 0 1 0 3.5 0a1.75 1.75 0 1 0 -3.5 0ZM263.95 172.51a1.75 1.75 0 1 0 3.5 0a1.75 1.75 0 1 0 -3.5 0ZM263.95 178.13a1.75 1.75 0 1 0 3.5 0a1.75 1.75 0 1 0 -3.5 0ZM263.95 189.37a1.75 1.75 0 1 0 3.5 0a1.75 1.75 0 1 0 -3.5 0ZM269.61 37.63a1.75 1.75 0 1 0 3.5 0a1.75 1.75 0 1 0 -3.5 0ZM269.61 43.25a1.75 1.75 0 1 0 3.5 0a1.75 1.75 0 1 0 -3.5 0ZM269.61 48.87a1.75 1.75 0 1 0 3.5 0a1.75 1.75 0 1 0 -3.5 0ZM269.61 54.49a1.75 1.75 0 1 0 3.5 0a1.75 1.75 0 1 0 -3.5 0ZM269.61 60.11a1.75 1.75 0 1 0 3.5 0a1.75 1.75 0 1 0 -3.5 0ZM269.61 150.03a1.75 1.75 0 1 0 3.5 0a1.75 1.75 0 1 0 -3.5 0ZM269.61 166.89a1.75 1.75 0 1 0 3.5 0a1.75 1.75 0 1 0 -3.5 0ZM275.26 43.25a1.75 1.75 0 1 0 3.5 0a1.75 1.75 0 1 0 -3.5 0ZM275.26 48.87a1.75 1.75 0 1 0 3.5 0a1.75 1.75 0 1 0 -3.5 0ZM275.26 54.49a1.75 1.75 0 1 0 3.5 0a1.75 1.75 0 1 0 -3.5 0ZM275.26 60.11a1.75 1.75 0 1 0 3.5 0a1.75 1.75 0 1 0 -3.5 0ZM275.26 65.73a1.75 1.75 0 1 0 3.5 0a1.75 1.75 0 1 0 -3.5 0ZM275.26 71.35a1.75 1.75 0 1 0 3.5 0a1.75 1.75 0 1 0 -3.5 0ZM275.26 105.07a1.75 1.75 0 1 0 3.5 0a1.75 1.75 0 1 0 -3.5 0ZM275.26 121.93a1.75 1.75 0 1 0 3.5 0a1.75 1.75 0 1 0 -3.5 0ZM275.26 133.17a1.75 1.75 0 1 0 3.5 0a1.75 1.75 0 1 0 -3.5 0ZM275.26 144.41a1.75 1.75 0 1 0 3.5 0a1.75 1.75 0 1 0 -3.5 0ZM275.26 155.65a1.75 1.75 0 1 0 3.5 0a1.75 1.75 0 1 0 -3.5 0ZM275.26 183.75a1.75 1.75 0 1 0 3.5 0a1.75 1.75 0 1 0 -3.5 0ZM280.91 60.11a1.75 1.75 0 1 0 3.5 0a1.75 1.75 0 1 0 -3.5 0ZM280.91 65.73a1.75 1.75 0 1 0 3.5 0a1.75 1.75 0 1 0 -3.5 0ZM280.91 71.35a1.75 1.75 0 1 0 3.5 0a1.75 1.75 0 1 0 -3.5 0ZM280.91 127.55a1.75 1.75 0 1 0 3.5 0a1.75 1.75 0 1 0 -3.5 0ZM280.91 133.17a1.75 1.75 0 1 0 3.5 0a1.75 1.75 0 1 0 -3.5 0ZM280.91 138.79a1.75 1.75 0 1 0 3.5 0a1.75 1.75 0 1 0 -3.5 0ZM280.91 150.03a1.75 1.75 0 1 0 3.5 0a1.75 1.75 0 1 0 -3.5 0ZM280.91 155.65a1.75 1.75 0 1 0 3.5 0a1.75 1.75 0 1 0 -3.5 0ZM286.56 43.25a1.75 1.75 0 1 0 3.5 0a1.75 1.75 0 1 0 -3.5 0ZM286.56 48.87a1.75 1.75 0 1 0 3.5 0a1.75 1.75 0 1 0 -3.5 0ZM286.56 65.73a1.75 1.75 0 1 0 3.5 0a1.75 1.75 0 1 0 -3.5 0ZM286.56 127.55a1.75 1.75 0 1 0 3.5 0a1.75 1.75 0 1 0 -3.5 0ZM286.56 150.03a1.75 1.75 0 1 0 3.5 0a1.75 1.75 0 1 0 -3.5 0ZM286.56 155.65a1.75 1.75 0 1 0 3.5 0a1.75 1.75 0 1 0 -3.5 0ZM286.56 161.27a1.75 1.75 0 1 0 3.5 0a1.75 1.75 0 1 0 -3.5 0ZM292.22 15.15a1.75 1.75 0 1 0 3.5 0a1.75 1.75 0 1 0 -3.5 0ZM292.22 32.01a1.75 1.75 0 1 0 3.5 0a1.75 1.75 0 1 0 -3.5 0ZM292.22 37.63a1.75 1.75 0 1 0 3.5 0a1.75 1.75 0 1 0 -3.5 0ZM292.22 43.25a1.75 1.75 0 1 0 3.5 0a1.75 1.75 0 1 0 -3.5 0ZM292.22 48.87a1.75 1.75 0 1 0 3.5 0a1.75 1.75 0 1 0 -3.5 0ZM292.22 60.11a1.75 1.75 0 1 0 3.5 0a1.75 1.75 0 1 0 -3.5 0ZM292.22 65.73a1.75 1.75 0 1 0 3.5 0a1.75 1.75 0 1 0 -3.5 0ZM292.22 71.35a1.75 1.75 0 1 0 3.5 0a1.75 1.75 0 1 0 -3.5 0ZM292.22 76.97a1.75 1.75 0 1 0 3.5 0a1.75 1.75 0 1 0 -3.5 0ZM292.22 93.83a1.75 1.75 0 1 0 3.5 0a1.75 1.75 0 1 0 -3.5 0ZM292.22 99.45a1.75 1.75 0 1 0 3.5 0a1.75 1.75 0 1 0 -3.5 0ZM292.22 121.93a1.75 1.75 0 1 0 3.5 0a1.75 1.75 0 1 0 -3.5 0ZM292.22 127.55a1.75 1.75 0 1 0 3.5 0a1.75 1.75 0 1 0 -3.5 0ZM292.22 138.79a1.75 1.75 0 1 0 3.5 0a1.75 1.75 0 1 0 -3.5 0ZM292.22 144.41a1.75 1.75 0 1 0 3.5 0a1.75 1.75 0 1 0 -3.5 0ZM292.22 155.65a1.75 1.75 0 1 0 3.5 0a1.75 1.75 0 1 0 -3.5 0ZM292.22 161.27a1.75 1.75 0 1 0 3.5 0a1.75 1.75 0 1 0 -3.5 0ZM292.22 172.51a1.75 1.75 0 1 0 3.5 0a1.75 1.75 0 1 0 -3.5 0ZM292.22 178.13a1.75 1.75 0 1 0 3.5 0a1.75 1.75 0 1 0 -3.5 0ZM292.22 211.85a1.75 1.75 0 1 0 3.5 0a1.75 1.75 0 1 0 -3.5 0ZM297.87 15.15a1.75 1.75 0 1 0 3.5 0a1.75 1.75 0 1 0 -3.5 0ZM297.87 20.77a1.75 1.75 0 1 0 3.5 0a1.75 1.75 0 1 0 -3.5 0ZM297.87 26.39a1.75 1.75 0 1 0 3.5 0a1.75 1.75 0 1 0 -3.5 0ZM297.87 43.25a1.75 1.75 0 1 0 3.5 0a1.75 1.75 0 1 0 -3.5 0ZM297.87 65.73a1.75 1.75 0 1 0 3.5 0a1.75 1.75 0 1 0 -3.5 0ZM297.87 71.35a1.75 1.75 0 1 0 3.5 0a1.75 1.75 0 1 0 -3.5 0ZM297.87 76.97a1.75 1.75 0 1 0 3.5 0a1.75 1.75 0 1 0 -3.5 0ZM297.87 88.21a1.75 1.75 0 1 0 3.5 0a1.75 1.75 0 1 0 -3.5 0ZM297.87 93.83a1.75 1.75 0 1 0 3.5 0a1.75 1.75 0 1 0 -3.5 0ZM297.87 99.45a1.75 1.75 0 1 0 3.5 0a1.75 1.75 0 1 0 -3.5 0ZM297.87 138.79a1.75 1.75 0 1 0 3.5 0a1.75 1.75 0 1 0 -3.5 0ZM297.87 144.41a1.75 1.75 0 1 0 3.5 0a1.75 1.75 0 1 0 -3.5 0ZM297.87 150.03a1.75 1.75 0 1 0 3.5 0a1.75 1.75 0 1 0 -3.5 0ZM297.87 155.65a1.75 1.75 0 1 0 3.5 0a1.75 1.75 0 1 0 -3.5 0ZM297.87 161.27a1.75 1.75 0 1 0 3.5 0a1.75 1.75 0 1 0 -3.5 0ZM303.52 9.53a1.75 1.75 0 1 0 3.5 0a1.75 1.75 0 1 0 -3.5 0ZM303.52 15.15a1.75 1.75 0 1 0 3.5 0a1.75 1.75 0 1 0 -3.5 0ZM303.52 20.77a1.75 1.75 0 1 0 3.5 0a1.75 1.75 0 1 0 -3.5 0ZM303.52 26.39a1.75 1.75 0 1 0 3.5 0a1.75 1.75 0 1 0 -3.5 0ZM303.52 37.63a1.75 1.75 0 1 0 3.5 0a1.75 1.75 0 1 0 -3.5 0ZM303.52 43.25a1.75 1.75 0 1 0 3.5 0a1.75 1.75 0 1 0 -3.5 0ZM303.52 48.87a1.75 1.75 0 1 0 3.5 0a1.75 1.75 0 1 0 -3.5 0ZM303.52 54.49a1.75 1.75 0 1 0 3.5 0a1.75 1.75 0 1 0 -3.5 0ZM303.52 71.35a1.75 1.75 0 1 0 3.5 0a1.75 1.75 0 1 0 -3.5 0ZM303.52 88.21a1.75 1.75 0 1 0 3.5 0a1.75 1.75 0 1 0 -3.5 0ZM303.52 93.83a1.75 1.75 0 1 0 3.5 0a1.75 1.75 0 1 0 -3.5 0ZM303.52 99.45a1.75 1.75 0 1 0 3.5 0a1.75 1.75 0 1 0 -3.5 0ZM303.52 121.93a1.75 1.75 0 1 0 3.5 0a1.75 1.75 0 1 0 -3.5 0ZM303.52 138.79a1.75 1.75 0 1 0 3.5 0a1.75 1.75 0 1 0 -3.5 0ZM303.52 144.41a1.75 1.75 0 1 0 3.5 0a1.75 1.75 0 1 0 -3.5 0ZM303.52 155.65a1.75 1.75 0 1 0 3.5 0a1.75 1.75 0 1 0 -3.5 0ZM303.52 161.27a1.75 1.75 0 1 0 3.5 0a1.75 1.75 0 1 0 -3.5 0ZM303.52 166.89a1.75 1.75 0 1 0 3.5 0a1.75 1.75 0 1 0 -3.5 0ZM303.52 178.13a1.75 1.75 0 1 0 3.5 0a1.75 1.75 0 1 0 -3.5 0ZM303.52 183.75a1.75 1.75 0 1 0 3.5 0a1.75 1.75 0 1 0 -3.5 0ZM303.52 194.99a1.75 1.75 0 1 0 3.5 0a1.75 1.75 0 1 0 -3.5 0ZM309.17 3.91a1.75 1.75 0 1 0 3.5 0a1.75 1.75 0 1 0 -3.5 0ZM309.17 20.77a1.75 1.75 0 1 0 3.5 0a1.75 1.75 0 1 0 -3.5 0ZM309.17 26.39a1.75 1.75 0 1 0 3.5 0a1.75 1.75 0 1 0 -3.5 0ZM309.17 32.01a1.75 1.75 0 1 0 3.5 0a1.75 1.75 0 1 0 -3.5 0ZM309.17 37.63a1.75 1.75 0 1 0 3.5 0a1.75 1.75 0 1 0 -3.5 0ZM309.17 43.25a1.75 1.75 0 1 0 3.5 0a1.75 1.75 0 1 0 -3.5 0ZM309.17 48.87a1.75 1.75 0 1 0 3.5 0a1.75 1.75 0 1 0 -3.5 0ZM309.17 54.49a1.75 1.75 0 1 0 3.5 0a1.75 1.75 0 1 0 -3.5 0ZM309.17 76.97a1.75 1.75 0 1 0 3.5 0a1.75 1.75 0 1 0 -3.5 0ZM309.17 99.45a1.75 1.75 0 1 0 3.5 0a1.75 1.75 0 1 0 -3.5 0ZM309.17 110.69a1.75 1.75 0 1 0 3.5 0a1.75 1.75 0 1 0 -3.5 0ZM309.17 116.31a1.75 1.75 0 1 0 3.5 0a1.75 1.75 0 1 0 -3.5 0ZM309.17 121.93a1.75 1.75 0 1 0 3.5 0a1.75 1.75 0 1 0 -3.5 0ZM309.17 127.55a1.75 1.75 0 1 0 3.5 0a1.75 1.75 0 1 0 -3.5 0ZM309.17 133.17a1.75 1.75 0 1 0 3.5 0a1.75 1.75 0 1 0 -3.5 0ZM309.17 155.65a1.75 1.75 0 1 0 3.5 0a1.75 1.75 0 1 0 -3.5 0ZM309.17 161.27a1.75 1.75 0 1 0 3.5 0a1.75 1.75 0 1 0 -3.5 0ZM309.17 166.89a1.75 1.75 0 1 0 3.5 0a1.75 1.75 0 1 0 -3.5 0ZM309.17 183.75a1.75 1.75 0 1 0 3.5 0a1.75 1.75 0 1 0 -3.5 0ZM309.17 211.85a1.75 1.75 0 1 0 3.5 0a1.75 1.75 0 1 0 -3.5 0ZM309.17 217.47a1.75 1.75 0 1 0 3.5 0a1.75 1.75 0 1 0 -3.5 0ZM314.83 3.91a1.75 1.75 0 1 0 3.5 0a1.75 1.75 0 1 0 -3.5 0ZM314.83 32.01a1.75 1.75 0 1 0 3.5 0a1.75 1.75 0 1 0 -3.5 0ZM314.83 43.25a1.75 1.75 0 1 0 3.5 0a1.75 1.75 0 1 0 -3.5 0ZM314.83 88.21a1.75 1.75 0 1 0 3.5 0a1.75 1.75 0 1 0 -3.5 0ZM314.83 93.83a1.75 1.75 0 1 0 3.5 0a1.75 1.75 0 1 0 -3.5 0ZM314.83 99.45a1.75 1.75 0 1 0 3.5 0a1.75 1.75 0 1 0 -3.5 0ZM314.83 105.07a1.75 1.75 0 1 0 3.5 0a1.75 1.75 0 1 0 -3.5 0ZM314.83 110.69a1.75 1.75 0 1 0 3.5 0a1.75 1.75 0 1 0 -3.5 0ZM314.83 121.93a1.75 1.75 0 1 0 3.5 0a1.75 1.75 0 1 0 -3.5 0ZM314.83 127.55a1.75 1.75 0 1 0 3.5 0a1.75 1.75 0 1 0 -3.5 0ZM314.83 133.17a1.75 1.75 0 1 0 3.5 0a1.75 1.75 0 1 0 -3.5 0ZM314.83 138.79a1.75 1.75 0 1 0 3.5 0a1.75 1.75 0 1 0 -3.5 0ZM314.83 161.27a1.75 1.75 0 1 0 3.5 0a1.75 1.75 0 1 0 -3.5 0ZM314.83 178.13a1.75 1.75 0 1 0 3.5 0a1.75 1.75 0 1 0 -3.5 0ZM314.83 228.71a1.75 1.75 0 1 0 3.5 0a1.75 1.75 0 1 0 -3.5 0ZM320.48 43.25a1.75 1.75 0 1 0 3.5 0a1.75 1.75 0 1 0 -3.5 0ZM320.48 48.87a1.75 1.75 0 1 0 3.5 0a1.75 1.75 0 1 0 -3.5 0ZM320.48 99.45a1.75 1.75 0 1 0 3.5 0a1.75 1.75 0 1 0 -3.5 0ZM320.48 133.17a1.75 1.75 0 1 0 3.5 0a1.75 1.75 0 1 0 -3.5 0ZM320.48 138.79a1.75 1.75 0 1 0 3.5 0a1.75 1.75 0 1 0 -3.5 0ZM320.48 161.27a1.75 1.75 0 1 0 3.5 0a1.75 1.75 0 1 0 -3.5 0ZM320.48 178.13a1.75 1.75 0 1 0 3.5 0a1.75 1.75 0 1 0 -3.5 0ZM326.13 127.55a1.75 1.75 0 1 0 3.5 0a1.75 1.75 0 1 0 -3.5 0ZM326.13 133.17a1.75 1.75 0 1 0 3.5 0a1.75 1.75 0 1 0 -3.5 0ZM326.13 161.27a1.75 1.75 0 1 0 3.5 0a1.75 1.75 0 1 0 -3.5 0ZM326.13 166.89a1.75 1.75 0 1 0 3.5 0a1.75 1.75 0 1 0 -3.5 0ZM331.78 88.21a1.75 1.75 0 1 0 3.5 0a1.75 1.75 0 1 0 -3.5 0ZM331.78 93.83a1.75 1.75 0 1 0 3.5 0a1.75 1.75 0 1 0 -3.5 0ZM331.78 127.55a1.75 1.75 0 1 0 3.5 0a1.75 1.75 0 1 0 -3.5 0ZM331.78 133.17a1.75 1.75 0 1 0 3.5 0a1.75 1.75 0 1 0 -3.5 0ZM331.78 138.79a1.75 1.75 0 1 0 3.5 0a1.75 1.75 0 1 0 -3.5 0ZM331.78 155.65a1.75 1.75 0 1 0 3.5 0a1.75 1.75 0 1 0 -3.5 0ZM331.78 166.89a1.75 1.75 0 1 0 3.5 0a1.75 1.75 0 1 0 -3.5 0ZM331.78 172.51a1.75 1.75 0 1 0 3.5 0a1.75 1.75 0 1 0 -3.5 0ZM337.44 65.73a1.75 1.75 0 1 0 3.5 0a1.75 1.75 0 1 0 -3.5 0ZM337.44 71.35a1.75 1.75 0 1 0 3.5 0a1.75 1.75 0 1 0 -3.5 0ZM337.44 76.97a1.75 1.75 0 1 0 3.5 0a1.75 1.75 0 1 0 -3.5 0ZM337.44 93.83a1.75 1.75 0 1 0 3.5 0a1.75 1.75 0 1 0 -3.5 0ZM337.44 121.93a1.75 1.75 0 1 0 3.5 0a1.75 1.75 0 1 0 -3.5 0ZM337.44 127.55a1.75 1.75 0 1 0 3.5 0a1.75 1.75 0 1 0 -3.5 0ZM337.44 150.03a1.75 1.75 0 1 0 3.5 0a1.75 1.75 0 1 0 -3.5 0ZM337.44 155.65a1.75 1.75 0 1 0 3.5 0a1.75 1.75 0 1 0 -3.5 0ZM337.44 161.27a1.75 1.75 0 1 0 3.5 0a1.75 1.75 0 1 0 -3.5 0ZM337.44 178.13a1.75 1.75 0 1 0 3.5 0a1.75 1.75 0 1 0 -3.5 0ZM343.09 65.73a1.75 1.75 0 1 0 3.5 0a1.75 1.75 0 1 0 -3.5 0ZM343.09 71.35a1.75 1.75 0 1 0 3.5 0a1.75 1.75 0 1 0 -3.5 0ZM343.09 93.83a1.75 1.75 0 1 0 3.5 0a1.75 1.75 0 1 0 -3.5 0ZM343.09 116.31a1.75 1.75 0 1 0 3.5 0a1.75 1.75 0 1 0 -3.5 0ZM343.09 121.93a1.75 1.75 0 1 0 3.5 0a1.75 1.75 0 1 0 -3.5 0ZM343.09 127.55a1.75 1.75 0 1 0 3.5 0a1.75 1.75 0 1 0 -3.5 0ZM348.74 71.35a1.75 1.75 0 1 0 3.5 0a1.75 1.75 0 1 0 -3.5 0ZM348.74 76.97a1.75 1.75 0 1 0 3.5 0a1.75 1.75 0 1 0 -3.5 0ZM348.74 82.59a1.75 1.75 0 1 0 3.5 0a1.75 1.75 0 1 0 -3.5 0ZM348.74 93.83a1.75 1.75 0 1 0 3.5 0a1.75 1.75 0 1 0 -3.5 0ZM348.74 127.55a1.75 1.75 0 1 0 3.5 0a1.75 1.75 0 1 0 -3.5 0ZM348.74 133.17a1.75 1.75 0 1 0 3.5 0a1.75 1.75 0 1 0 -3.5 0ZM348.74 144.41a1.75 1.75 0 1 0 3.5 0a1.75 1.75 0 1 0 -3.5 0ZM348.74 150.03a1.75 1.75 0 1 0 3.5 0a1.75 1.75 0 1 0 -3.5 0ZM348.74 189.37a1.75 1.75 0 1 0 3.5 0a1.75 1.75 0 1 0 -3.5 0ZM354.39 32.01a1.75 1.75 0 1 0 3.5 0a1.75 1.75 0 1 0 -3.5 0ZM354.39 71.35a1.75 1.75 0 1 0 3.5 0a1.75 1.75 0 1 0 -3.5 0ZM354.39 82.59a1.75 1.75 0 1 0 3.5 0a1.75 1.75 0 1 0 -3.5 0ZM354.39 88.21a1.75 1.75 0 1 0 3.5 0a1.75 1.75 0 1 0 -3.5 0ZM354.39 105.07a1.75 1.75 0 1 0 3.5 0a1.75 1.75 0 1 0 -3.5 0ZM354.39 110.69a1.75 1.75 0 1 0 3.5 0a1.75 1.75 0 1 0 -3.5 0ZM354.39 116.31a1.75 1.75 0 1 0 3.5 0a1.75 1.75 0 1 0 -3.5 0ZM354.39 127.55a1.75 1.75 0 1 0 3.5 0a1.75 1.75 0 1 0 -3.5 0ZM354.39 133.17a1.75 1.75 0 1 0 3.5 0a1.75 1.75 0 1 0 -3.5 0ZM360.05 32.01a1.75 1.75 0 1 0 3.5 0a1.75 1.75 0 1 0 -3.5 0ZM360.05 71.35a1.75 1.75 0 1 0 3.5 0a1.75 1.75 0 1 0 -3.5 0ZM360.05 82.59a1.75 1.75 0 1 0 3.5 0a1.75 1.75 0 1 0 -3.5 0ZM360.05 88.21a1.75 1.75 0 1 0 3.5 0a1.75 1.75 0 1 0 -3.5 0ZM360.05 99.45a1.75 1.75 0 1 0 3.5 0a1.75 1.75 0 1 0 -3.5 0ZM360.05 105.07a1.75 1.75 0 1 0 3.5 0a1.75 1.75 0 1 0 -3.5 0ZM360.05 110.69a1.75 1.75 0 1 0 3.5 0a1.75 1.75 0 1 0 -3.5 0ZM360.05 116.31a1.75 1.75 0 1 0 3.5 0a1.75 1.75 0 1 0 -3.5 0ZM360.05 121.93a1.75 1.75 0 1 0 3.5 0a1.75 1.75 0 1 0 -3.5 0ZM360.05 127.55a1.75 1.75 0 1 0 3.5 0a1.75 1.75 0 1 0 -3.5 0ZM360.05 133.17a1.75 1.75 0 1 0 3.5 0a1.75 1.75 0 1 0 -3.5 0ZM360.05 138.79a1.75 1.75 0 1 0 3.5 0a1.75 1.75 0 1 0 -3.5 0ZM360.05 144.41a1.75 1.75 0 1 0 3.5 0a1.75 1.75 0 1 0 -3.5 0ZM360.05 183.75a1.75 1.75 0 1 0 3.5 0a1.75 1.75 0 1 0 -3.5 0ZM365.7 71.35a1.75 1.75 0 1 0 3.5 0a1.75 1.75 0 1 0 -3.5 0ZM365.7 76.97a1.75 1.75 0 1 0 3.5 0a1.75 1.75 0 1 0 -3.5 0ZM365.7 82.59a1.75 1.75 0 1 0 3.5 0a1.75 1.75 0 1 0 -3.5 0ZM365.7 88.21a1.75 1.75 0 1 0 3.5 0a1.75 1.75 0 1 0 -3.5 0ZM365.7 93.83a1.75 1.75 0 1 0 3.5 0a1.75 1.75 0 1 0 -3.5 0ZM365.7 99.45a1.75 1.75 0 1 0 3.5 0a1.75 1.75 0 1 0 -3.5 0ZM365.7 105.07a1.75 1.75 0 1 0 3.5 0a1.75 1.75 0 1 0 -3.5 0ZM365.7 110.69a1.75 1.75 0 1 0 3.5 0a1.75 1.75 0 1 0 -3.5 0ZM365.7 127.55a1.75 1.75 0 1 0 3.5 0a1.75 1.75 0 1 0 -3.5 0ZM365.7 133.17a1.75 1.75 0 1 0 3.5 0a1.75 1.75 0 1 0 -3.5 0ZM365.7 138.79a1.75 1.75 0 1 0 3.5 0a1.75 1.75 0 1 0 -3.5 0ZM365.7 144.41a1.75 1.75 0 1 0 3.5 0a1.75 1.75 0 1 0 -3.5 0ZM365.7 155.65a1.75 1.75 0 1 0 3.5 0a1.75 1.75 0 1 0 -3.5 0ZM365.7 161.27a1.75 1.75 0 1 0 3.5 0a1.75 1.75 0 1 0 -3.5 0ZM365.7 178.13a1.75 1.75 0 1 0 3.5 0a1.75 1.75 0 1 0 -3.5 0ZM365.7 183.75a1.75 1.75 0 1 0 3.5 0a1.75 1.75 0 1 0 -3.5 0ZM371.35 71.35a1.75 1.75 0 1 0 3.5 0a1.75 1.75 0 1 0 -3.5 0ZM371.35 76.97a1.75 1.75 0 1 0 3.5 0a1.75 1.75 0 1 0 -3.5 0ZM371.35 88.21a1.75 1.75 0 1 0 3.5 0a1.75 1.75 0 1 0 -3.5 0ZM371.35 93.83a1.75 1.75 0 1 0 3.5 0a1.75 1.75 0 1 0 -3.5 0ZM371.35 99.45a1.75 1.75 0 1 0 3.5 0a1.75 1.75 0 1 0 -3.5 0ZM371.35 105.07a1.75 1.75 0 1 0 3.5 0a1.75 1.75 0 1 0 -3.5 0ZM371.35 110.69a1.75 1.75 0 1 0 3.5 0a1.75 1.75 0 1 0 -3.5 0ZM371.35 127.55a1.75 1.75 0 1 0 3.5 0a1.75 1.75 0 1 0 -3.5 0ZM371.35 133.17a1.75 1.75 0 1 0 3.5 0a1.75 1.75 0 1 0 -3.5 0ZM371.35 138.79a1.75 1.75 0 1 0 3.5 0a1.75 1.75 0 1 0 -3.5 0ZM371.35 144.41a1.75 1.75 0 1 0 3.5 0a1.75 1.75 0 1 0 -3.5 0ZM371.35 150.03a1.75 1.75 0 1 0 3.5 0a1.75 1.75 0 1 0 -3.5 0ZM371.35 155.65a1.75 1.75 0 1 0 3.5 0a1.75 1.75 0 1 0 -3.5 0ZM371.35 189.37a1.75 1.75 0 1 0 3.5 0a1.75 1.75 0 1 0 -3.5 0ZM371.35 194.99a1.75 1.75 0 1 0 3.5 0a1.75 1.75 0 1 0 -3.5 0ZM371.35 200.61a1.75 1.75 0 1 0 3.5 0a1.75 1.75 0 1 0 -3.5 0ZM377 71.35a1.75 1.75 0 1 0 3.5 0a1.75 1.75 0 1 0 -3.5 0ZM377 76.97a1.75 1.75 0 1 0 3.5 0a1.75 1.75 0 1 0 -3.5 0ZM377 82.59a1.75 1.75 0 1 0 3.5 0a1.75 1.75 0 1 0 -3.5 0ZM377 88.21a1.75 1.75 0 1 0 3.5 0a1.75 1.75 0 1 0 -3.5 0ZM377 93.83a1.75 1.75 0 1 0 3.5 0a1.75 1.75 0 1 0 -3.5 0ZM377 99.45a1.75 1.75 0 1 0 3.5 0a1.75 1.75 0 1 0 -3.5 0ZM377 105.07a1.75 1.75 0 1 0 3.5 0a1.75 1.75 0 1 0 -3.5 0ZM377 127.55a1.75 1.75 0 1 0 3.5 0a1.75 1.75 0 1 0 -3.5 0ZM377 155.65a1.75 1.75 0 1 0 3.5 0a1.75 1.75 0 1 0 -3.5 0ZM377 166.89a1.75 1.75 0 1 0 3.5 0a1.75 1.75 0 1 0 -3.5 0ZM377 172.51a1.75 1.75 0 1 0 3.5 0a1.75 1.75 0 1 0 -3.5 0ZM377 178.13a1.75 1.75 0 1 0 3.5 0a1.75 1.75 0 1 0 -3.5 0ZM377 183.75a1.75 1.75 0 1 0 3.5 0a1.75 1.75 0 1 0 -3.5 0ZM377 189.37a1.75 1.75 0 1 0 3.5 0a1.75 1.75 0 1 0 -3.5 0ZM382.66 71.35a1.75 1.75 0 1 0 3.5 0a1.75 1.75 0 1 0 -3.5 0ZM382.66 76.97a1.75 1.75 0 1 0 3.5 0a1.75 1.75 0 1 0 -3.5 0ZM382.66 82.59a1.75 1.75 0 1 0 3.5 0a1.75 1.75 0 1 0 -3.5 0ZM382.66 88.21a1.75 1.75 0 1 0 3.5 0a1.75 1.75 0 1 0 -3.5 0ZM382.66 99.45a1.75 1.75 0 1 0 3.5 0a1.75 1.75 0 1 0 -3.5 0ZM382.66 105.07a1.75 1.75 0 1 0 3.5 0a1.75 1.75 0 1 0 -3.5 0ZM382.66 121.93a1.75 1.75 0 1 0 3.5 0a1.75 1.75 0 1 0 -3.5 0ZM382.66 127.55a1.75 1.75 0 1 0 3.5 0a1.75 1.75 0 1 0 -3.5 0ZM382.66 161.27a1.75 1.75 0 1 0 3.5 0a1.75 1.75 0 1 0 -3.5 0ZM382.66 172.51a1.75 1.75 0 1 0 3.5 0a1.75 1.75 0 1 0 -3.5 0ZM382.66 178.13a1.75 1.75 0 1 0 3.5 0a1.75 1.75 0 1 0 -3.5 0ZM382.66 183.75a1.75 1.75 0 1 0 3.5 0a1.75 1.75 0 1 0 -3.5 0ZM382.66 189.37a1.75 1.75 0 1 0 3.5 0a1.75 1.75 0 1 0 -3.5 0ZM382.66 194.99a1.75 1.75 0 1 0 3.5 0a1.75 1.75 0 1 0 -3.5 0ZM382.66 200.61a1.75 1.75 0 1 0 3.5 0a1.75 1.75 0 1 0 -3.5 0ZM388.31 65.73a1.75 1.75 0 1 0 3.5 0a1.75 1.75 0 1 0 -3.5 0ZM388.31 71.35a1.75 1.75 0 1 0 3.5 0a1.75 1.75 0 1 0 -3.5 0ZM388.31 82.59a1.75 1.75 0 1 0 3.5 0a1.75 1.75 0 1 0 -3.5 0ZM388.31 88.21a1.75 1.75 0 1 0 3.5 0a1.75 1.75 0 1 0 -3.5 0ZM388.31 93.83a1.75 1.75 0 1 0 3.5 0a1.75 1.75 0 1 0 -3.5 0ZM388.31 99.45a1.75 1.75 0 1 0 3.5 0a1.75 1.75 0 1 0 -3.5 0ZM388.31 121.93a1.75 1.75 0 1 0 3.5 0a1.75 1.75 0 1 0 -3.5 0ZM388.31 127.55a1.75 1.75 0 1 0 3.5 0a1.75 1.75 0 1 0 -3.5 0ZM388.31 133.17a1.75 1.75 0 1 0 3.5 0a1.75 1.75 0 1 0 -3.5 0ZM388.31 138.79a1.75 1.75 0 1 0 3.5 0a1.75 1.75 0 1 0 -3.5 0ZM388.31 155.65a1.75 1.75 0 1 0 3.5 0a1.75 1.75 0 1 0 -3.5 0ZM388.31 172.51a1.75 1.75 0 1 0 3.5 0a1.75 1.75 0 1 0 -3.5 0ZM388.31 178.13a1.75 1.75 0 1 0 3.5 0a1.75 1.75 0 1 0 -3.5 0ZM388.31 189.37a1.75 1.75 0 1 0 3.5 0a1.75 1.75 0 1 0 -3.5 0ZM388.31 194.99a1.75 1.75 0 1 0 3.5 0a1.75 1.75 0 1 0 -3.5 0ZM388.31 200.61a1.75 1.75 0 1 0 3.5 0a1.75 1.75 0 1 0 -3.5 0ZM393.96 71.35a1.75 1.75 0 1 0 3.5 0a1.75 1.75 0 1 0 -3.5 0ZM393.96 127.55a1.75 1.75 0 1 0 3.5 0a1.75 1.75 0 1 0 -3.5 0ZM393.96 138.79a1.75 1.75 0 1 0 3.5 0a1.75 1.75 0 1 0 -3.5 0ZM393.96 144.41a1.75 1.75 0 1 0 3.5 0a1.75 1.75 0 1 0 -3.5 0ZM393.96 172.51a1.75 1.75 0 1 0 3.5 0a1.75 1.75 0 1 0 -3.5 0ZM393.96 189.37a1.75 1.75 0 1 0 3.5 0a1.75 1.75 0 1 0 -3.5 0ZM393.96 200.61a1.75 1.75 0 1 0 3.5 0a1.75 1.75 0 1 0 -3.5 0ZM399.61 65.73a1.75 1.75 0 1 0 3.5 0a1.75 1.75 0 1 0 -3.5 0ZM399.61 71.35a1.75 1.75 0 1 0 3.5 0a1.75 1.75 0 1 0 -3.5 0ZM399.61 76.97a1.75 1.75 0 1 0 3.5 0a1.75 1.75 0 1 0 -3.5 0ZM399.61 82.59a1.75 1.75 0 1 0 3.5 0a1.75 1.75 0 1 0 -3.5 0ZM399.61 93.83a1.75 1.75 0 1 0 3.5 0a1.75 1.75 0 1 0 -3.5 0ZM399.61 99.45a1.75 1.75 0 1 0 3.5 0a1.75 1.75 0 1 0 -3.5 0ZM399.61 121.93a1.75 1.75 0 1 0 3.5 0a1.75 1.75 0 1 0 -3.5 0ZM399.61 133.17a1.75 1.75 0 1 0 3.5 0a1.75 1.75 0 1 0 -3.5 0ZM399.61 138.79a1.75 1.75 0 1 0 3.5 0a1.75 1.75 0 1 0 -3.5 0ZM399.61 144.41a1.75 1.75 0 1 0 3.5 0a1.75 1.75 0 1 0 -3.5 0ZM399.61 150.03a1.75 1.75 0 1 0 3.5 0a1.75 1.75 0 1 0 -3.5 0ZM399.61 155.65a1.75 1.75 0 1 0 3.5 0a1.75 1.75 0 1 0 -3.5 0ZM399.61 161.27a1.75 1.75 0 1 0 3.5 0a1.75 1.75 0 1 0 -3.5 0ZM399.61 166.89a1.75 1.75 0 1 0 3.5 0a1.75 1.75 0 1 0 -3.5 0ZM399.61 183.75a1.75 1.75 0 1 0 3.5 0a1.75 1.75 0 1 0 -3.5 0ZM399.61 189.37a1.75 1.75 0 1 0 3.5 0a1.75 1.75 0 1 0 -3.5 0ZM405.27 65.73a1.75 1.75 0 1 0 3.5 0a1.75 1.75 0 1 0 -3.5 0ZM405.27 82.59a1.75 1.75 0 1 0 3.5 0a1.75 1.75 0 1 0 -3.5 0ZM405.27 93.83a1.75 1.75 0 1 0 3.5 0a1.75 1.75 0 1 0 -3.5 0ZM405.27 99.45a1.75 1.75 0 1 0 3.5 0a1.75 1.75 0 1 0 -3.5 0ZM405.27 121.93a1.75 1.75 0 1 0 3.5 0a1.75 1.75 0 1 0 -3.5 0ZM405.27 138.79a1.75 1.75 0 1 0 3.5 0a1.75 1.75 0 1 0 -3.5 0ZM405.27 150.03a1.75 1.75 0 1 0 3.5 0a1.75 1.75 0 1 0 -3.5 0ZM405.27 161.27a1.75 1.75 0 1 0 3.5 0a1.75 1.75 0 1 0 -3.5 0ZM405.27 189.37a1.75 1.75 0 1 0 3.5 0a1.75 1.75 0 1 0 -3.5 0ZM410.92 15.15a1.75 1.75 0 1 0 3.5 0a1.75 1.75 0 1 0 -3.5 0ZM410.92 20.77a1.75 1.75 0 1 0 3.5 0a1.75 1.75 0 1 0 -3.5 0ZM410.92 32.01a1.75 1.75 0 1 0 3.5 0a1.75 1.75 0 1 0 -3.5 0ZM410.92 82.59a1.75 1.75 0 1 0 3.5 0a1.75 1.75 0 1 0 -3.5 0ZM410.92 88.21a1.75 1.75 0 1 0 3.5 0a1.75 1.75 0 1 0 -3.5 0ZM410.92 93.83a1.75 1.75 0 1 0 3.5 0a1.75 1.75 0 1 0 -3.5 0ZM410.92 105.07a1.75 1.75 0 1 0 3.5 0a1.75 1.75 0 1 0 -3.5 0ZM410.92 150.03a1.75 1.75 0 1 0 3.5 0a1.75 1.75 0 1 0 -3.5 0ZM410.92 161.27a1.75 1.75 0 1 0 3.5 0a1.75 1.75 0 1 0 -3.5 0ZM410.92 166.89a1.75 1.75 0 1 0 3.5 0a1.75 1.75 0 1 0 -3.5 0ZM416.57 32.01a1.75 1.75 0 1 0 3.5 0a1.75 1.75 0 1 0 -3.5 0ZM416.57 88.21a1.75 1.75 0 1 0 3.5 0a1.75 1.75 0 1 0 -3.5 0ZM416.57 93.83a1.75 1.75 0 1 0 3.5 0a1.75 1.75 0 1 0 -3.5 0ZM416.57 99.45a1.75 1.75 0 1 0 3.5 0a1.75 1.75 0 1 0 -3.5 0ZM416.57 127.55a1.75 1.75 0 1 0 3.5 0a1.75 1.75 0 1 0 -3.5 0ZM416.57 138.79a1.75 1.75 0 1 0 3.5 0a1.75 1.75 0 1 0 -3.5 0ZM416.57 144.41a1.75 1.75 0 1 0 3.5 0a1.75 1.75 0 1 0 -3.5 0ZM416.57 161.27a1.75 1.75 0 1 0 3.5 0a1.75 1.75 0 1 0 -3.5 0ZM416.57 166.89a1.75 1.75 0 1 0 3.5 0a1.75 1.75 0 1 0 -3.5 0ZM422.22 82.59a1.75 1.75 0 1 0 3.5 0a1.75 1.75 0 1 0 -3.5 0ZM422.22 88.21a1.75 1.75 0 1 0 3.5 0a1.75 1.75 0 1 0 -3.5 0ZM422.22 93.83a1.75 1.75 0 1 0 3.5 0a1.75 1.75 0 1 0 -3.5 0ZM422.22 99.45a1.75 1.75 0 1 0 3.5 0a1.75 1.75 0 1 0 -3.5 0ZM422.22 127.55a1.75 1.75 0 1 0 3.5 0a1.75 1.75 0 1 0 -3.5 0ZM422.22 155.65a1.75 1.75 0 1 0 3.5 0a1.75 1.75 0 1 0 -3.5 0ZM427.88 65.73a1.75 1.75 0 1 0 3.5 0a1.75 1.75 0 1 0 -3.5 0ZM427.88 82.59a1.75 1.75 0 1 0 3.5 0a1.75 1.75 0 1 0 -3.5 0ZM427.88 88.21a1.75 1.75 0 1 0 3.5 0a1.75 1.75 0 1 0 -3.5 0ZM427.88 127.55a1.75 1.75 0 1 0 3.5 0a1.75 1.75 0 1 0 -3.5 0ZM427.88 133.17a1.75 1.75 0 1 0 3.5 0a1.75 1.75 0 1 0 -3.5 0ZM439.18 127.55a1.75 1.75 0 1 0 3.5 0a1.75 1.75 0 1 0 -3.5 0ZM444.83 88.21a1.75 1.75 0 1 0 3.5 0a1.75 1.75 0 1 0 -3.5 0ZM444.83 93.83a1.75 1.75 0 1 0 3.5 0a1.75 1.75 0 1 0 -3.5 0ZM450.49 93.83a1.75 1.75 0 1 0 3.5 0a1.75 1.75 0 1 0 -3.5 0ZM450.49 99.45a1.75 1.75 0 1 0 3.5 0a1.75 1.75 0 1 0 -3.5 0ZM450.49 105.07a1.75 1.75 0 1 0 3.5 0a1.75 1.75 0 1 0 -3.5 0ZM461.79 76.97a1.75 1.75 0 1 0 3.5 0a1.75 1.75 0 1 0 -3.5 0ZM461.79 82.59a1.75 1.75 0 1 0 3.5 0a1.75 1.75 0 1 0 -3.5 0ZM461.79 88.21a1.75 1.75 0 1 0 3.5 0a1.75 1.75 0 1 0 -3.5 0ZM461.79 110.69a1.75 1.75 0 1 0 3.5 0a1.75 1.75 0 1 0 -3.5 0ZM461.79 116.31a1.75 1.75 0 1 0 3.5 0a1.75 1.75 0 1 0 -3.5 0ZM467.44 76.97a1.75 1.75 0 1 0 3.5 0a1.75 1.75 0 1 0 -3.5 0ZM467.44 82.59a1.75 1.75 0 1 0 3.5 0a1.75 1.75 0 1 0 -3.5 0ZM467.44 88.21a1.75 1.75 0 1 0 3.5 0a1.75 1.75 0 1 0 -3.5 0ZM467.44 93.83a1.75 1.75 0 1 0 3.5 0a1.75 1.75 0 1 0 -3.5 0ZM467.44 99.45a1.75 1.75 0 1 0 3.5 0a1.75 1.75 0 1 0 -3.5 0ZM467.44 110.69a1.75 1.75 0 1 0 3.5 0a1.75 1.75 0 1 0 -3.5 0ZM478.75 82.59a1.75 1.75 0 1 0 3.5 0a1.75 1.75 0 1 0 -3.5 0ZM478.75 88.21a1.75 1.75 0 1 0 3.5 0a1.75 1.75 0 1 0 -3.5 0Z"/>
<path fill="#00ffff" d="M156.56 138.79a1.75 1.75 0 1 0 3.5 0a1.75 1.75 0 1 0 -3.5 0ZM156.56 144.41a1.75 1.75 0 1 0 3.5 0a1.75 1.75 0 1 0 -3.5 0ZM162.21 150.03a1.75 1.75 0 1 0 3.5 0a1.75 1.75 0 1 0 -3.5 0ZM167.86 161.27a1.75 1.75 0 1 0 3.5 0a1.75 1.75 0 1 0 -3.5 0ZM184.82 144.41a1.75 1.75 0 1 0 3.5 0a1.75 1.75 0 1 0 -3.5 0ZM201.78 99.45a1.75 1.75 0 1 0 3.5 0a1.75 1.75 0 1 0 -3.5 0ZM201.78 133.17a1.75 1.75 0 1 0 3.5 0a1.75 1.75 0 1 0 -3.5 0ZM207.43 161.27a1.75 1.75 0 1 0 3.5 0a1.75 1.75 0 1 0 -3.5 0ZM213.08 99.45a1.75 1.75 0 1 0 3.5 0a1.75 1.75 0 1 0 -3.5 0ZM213.08 105.07a1.75 1.75 0 1 0 3.5 0a1.75 1.75 0 1 0 -3.5 0ZM213.08 183.75a1.75 1.75 0 1 0 3.5 0a1.75 1.75 0 1 0 -3.5 0ZM218.73 54.49a1.75 1.75 0 1 0 3.5 0a1.75 1.75 0 1 0 -3.5 0ZM218.73 105.07a1.75 1.75 0 1 0 3.5 0a1.75 1.75 0 1 0 -3.5 0ZM218.73 166.89a1.75 1.75 0 1 0 3.5 0a1.75 1.75 0 1 0 -3.5 0ZM218.73 183.75a1.75 1.75 0 1 0 3.5 0a1.75 1.75 0 1 0 -3.5 0ZM224.39 54.49a1.75 1.75 0 1 0 3.5 0a1.75 1.75 0 1 0 -3.5 0ZM224.39 93.83a1.75 1.75 0 1 0 3.5 0a1.75 1.75 0 1 0 -3.5 0ZM230.04 43.25a1.75 1.75 0 1 0 3.5 0a1.75 1.75 0 1 0 -3.5 0ZM230.04 48.87a1.75 1.75 0 1 0 3.5 0a1.75 1.75 0 1 0 -3.5 0ZM230.04 178.13a1.75 1.75 0 1 0 3.5 0a1.75 1.75 0 1 0 -3.5 0ZM235.69 43.25a1.75 1.75 0 1 0 3.5 0a1.75 1.75 0 1 0 -3.5 0ZM235.69 48.87a1.75 1.75 0 1 0 3.5 0a1.75 1.75 0 1 0 -3.5 0ZM235.69 138.79a1.75 1.75 0 1 0 3.5 0a1.75 1.75 0 1 0 -3.5 0ZM235.69 172.51a1.75 1.75 0 1 0 3.5 0a1.75 1.75 0 1 0 -3.5 0ZM241.34 150.03a1.75 1.75 0 1 0 3.5 0a1.75 1.75 0 1 0 -3.5 0ZM252.65 60.11a1.75 1.75 0 1 0 3.5 0a1.75 1.75 0 1 0 -3.5 0ZM252.65 138.79a1.75 1.75 0 1 0 3.5 0a1.75 1.75 0 1 0 -3.5 0ZM252.65 172.51a1.75 1.75 0 1 0 3.5 0a1.75 1.75 0 1 0 -3.5 0ZM258.3 172.51a1.75 1.75 0 1 0 3.5 0a1.75 1.75 0 1 0 -3.5 0ZM263.95 65.73a1.75 1.75 0 1 0 3.5 0a1.75 1.75 0 1 0 -3.5 0ZM263.95 194.99a1.75 1.75 0 1 0 3.5 0a1.75 1.75 0 1 0 -3.5 0ZM269.61 65.73a1.75 1.75 0 1 0 3.5 0a1.75 1.75 0 1 0 -3.5 0ZM269.61 189.37a1.75 1.75 0 1 0 3.5 0a1.75 1.75 0 1 0 -3.5 0ZM269.61 194.99a1.75 1.75 0 1 0 3.5 0a1.75 1.75 0 1 0 -3.5 0ZM275.26 161.27a1.75 1.75 0 1 0 3.5 0a1.75 1.75 0 1 0 -3.5 0ZM275.26 166.89a1.75 1.75 0 1 0 3.5 0a1.75 1.75 0 1 0 -3.5 0ZM275.26 178.13a1.75 1.75 0 1 0 3.5 0a1.75 1.75 0 1 0 -3.5 0ZM275.26 194.99a1.75 1.75 0 1 0 3.5 0a1.75 1.75 0 1 0 -3.5 0ZM280.91 166.89a1.75 1.75 0 1 0 3.5 0a1.75 1.75 0 1 0 -3.5 0ZM280.91 172.51a1.75 1.75 0 1 0 3.5 0a1.75 1.75 0 1 0 -3.5 0ZM280.91 178.13a1.75 1.75 0 1 0 3.5 0a1.75 1.75 0 1 0 -3.5 0ZM280.91 189.37a1.75 1.75 0 1 0 3.5 0a1.75 1.75 0 1 0 -3.5 0ZM280.91 200.61a1.75 1.75 0 1 0 3.5 0a1.75 1.75 0 1 0 -3.5 0ZM286.56 71.35a1.75 1.75 0 1 0 3.5 0a1.75 1.75 0 1 0 -3.5 0ZM286.56 105.07a1.75 1.75 0 1 0 3.5 0a1.75 1.75 0 1 0 -3.5 0ZM286.56 166.89a1.75 1.75 0 1 0 3.5 0a1.75 1.75 0 1 0 -3.5 0ZM286.56 172.51a1.75 1.75 0 1 0 3.5 0a1.75 1.75 0 1 0 -3.5 0ZM286.56 178.13a1.75 1.75 0 1 0 3.5 0a1.75 1.75 0 1 0 -3.5 0ZM286.56 183.75a1.75 1.75 0 1 0 3.5 0a1.75 1.75 0 1 0 -3.5 0ZM286.56 189.37a1.75 1.75 0 1 0 3.5 0a1.75 1.75 0 1 0 -3.5 0ZM286.56 194.99a1.75 1.75 0 1 0 3.5 0a1.75 1.75 0 1 0 -3.5 0ZM292.22 20.77a1.75 1.75 0 1 0 3.5 0a1.75 1.75 0 1 0 -3.5 0ZM292.22 26.39a1.75 1.75 0 1 0 3.5 0a1.75 1.75 0 1 0 -3.5 0ZM292.22 54.49a1.75 1.75 0 1 0 3.5 0a1.75 1.75 0 1 0 -3.5 0ZM292.22 105.07a1.75 1.75 0 1 0 3.5 0a1.75 1.75 0 1 0 -3.5 0ZM292.22 183.75a1.75 1.75 0 1 0 3.5 0a1.75 1.75 0 1 0 -3.5 0ZM292.22 189.37a1.75 1.75 0 1 0 3.5 0a1.75 1.75 0 1 0 -3.5 0ZM292.22 194.99a1.75 1.75 0 1 0 3.5 0a1.75 1.75 0 1 0 -3.5 0ZM292.22 200.61a1.75 1.75 0 1 0 3.5 0a1.75 1.75 0 1 0 -3.5 0ZM292.22 206.23a1.75 1.75 0 1 0 3.5 0a1.75 1.75 0 1 0 -3.5 0ZM297.87 9.53a1.75 1.75 0 1 0 3.5 0a1.75 1.75 0 1 0 -3.5 0ZM297.87 32.01a1.75 1.75 0 1 0 3.5 0a1.75 1.75 0 1 0 -3.5 0ZM297.87 37.63a1.75 1.75 0 1 0 3.5 0a1.75 1.75 0 1 0 -3.5 0ZM297.87 48.87a1.75 1.75 0 1 0 3.5 0a1.75 1.75 0 1 0 -3.5 0ZM297.87 82.59a1.75 1.75 0 1 0 3.5 0a1.75 1.75 0 1 0 -3.5 0ZM297.87 121.93a1.75 1.75 0 1 0 3.5 0a1.75 1.75 0 1 0 -3.5 0ZM297.87 127.55a1.75 1.75 0 1 0 3.5 0a1.75 1.75 0 1 0 -3.5 0ZM297.87 178.13a1.75 1.75 0 1 0 3.5 0a1.75 1.75 0 1 0 -3.5 0ZM297.87 183.75a1.75 1.75 0 1 0 3.5 0a1.75 1.75 0 1 0 -3.5 0ZM297.87 194.99a1.75 1.75 0 1 0 3.5 0a1.75 1.75 0 1 0 -3.5 0ZM297.87 200.61a1.75 1.75 0 1 0 3.5 0a1.75 1.75 0 1 0 -3.5 0ZM297.87 211.85a1.75 1.75 0 1 0 3.5 0a1.75 1.75 0 1 0 -3.5 0ZM303.52 116.31a1.75 1.75 0 1 0 3.5 0a1.75 1.75 0 1 0 -3.5 0ZM303.52 189.37a1.75 1.75 0 1 0 3.5 0a1.75 1.75 0 1 0 -3.5 0ZM303.52 200.61a1.75 1.75 0 1 0 3.5 0a1.75 1.75 0 1 0 -3.5 0ZM309.17 9.53a1.75 1.75 0 1 0 3.5 0a1.75 1.75 0 1 0 -3.5 0ZM309.17 15.15a1.75 1.75 0 1 0 3.5 0a1.75 1.75 0 1 0 -3.5 0ZM309.17 138.79a1.75 1.75 0 1 0 3.5 0a1.75 1.75 0 1 0 -3.5 0ZM309.17 200.61a1.75 1.75 0 1 0 3.5 0a1.75 1.75 0 1 0 -3.5 0ZM309.17 206.23a1.75 1.75 0 1 0 3.5 0a1.75 1.75 0 1 0 -3.5 0ZM309.17 239.95a1.75 1.75 0 1 0 3.5 0a1.75 1.75 0 1 0 -3.5 0ZM314.83 15.15a1.75 1.75 0 1 0 3.5 0a1.75 1.75 0 1 0 -3.5 0ZM314.83 20.77a1.75 1.75 0 1 0 3.5 0a1.75 1.75 0 1 0 -3.5 0ZM314.83 26.39a1.75 1.75 0 1 0 3.5 0a1.75 1.75 0 1 0 -3.5 0ZM314.83 48.87a1.75 1.75 0 1 0 3.5 0a1.75 1.75 0 1 0 -3.5 0ZM314.83 54.49a1.75 1.75 0 1 0 3.5 0a1.75 1.75 0 1 0 -3.5 0ZM314.83 76.97a1.75 1.75 0 1 0 3.5 0a1.75 1.75 0 1 0 -3.5 0ZM314.83 206.23a1.75 1.75 0 1 0 3.5 0a1.75 1.75 0 1 0 -3.5 0ZM314.83 211.85a1.75 1.75 0 1 0 3.5 0a1.75 1.75 0 1 0 -3.5 0ZM314.83 217.47a1.75 1.75 0 1 0 3.5 0a1.75 1.75 0 1 0 -3.5 0ZM314.83 223.09a1.75 1.75 0 1 0 3.5 0a1.75 1.75 0 1 0 -3.5 0ZM320.48 88.21a1.75 1.75 0 1 0 3.5 0a1.75 1.75 0 1 0 -3.5 0ZM320.48 93.83a1.75 1.75 0 1 0 3.5 0a1.75 1.75 0 1 0 -3.5 0ZM320.48 105.07a1.75 1.75 0 1 0 3.5 0a1.75 1.75 0 1 0 -3.5 0ZM320.48 172.51a1.75 1.75 0 1 0 3.5 0a1.75 1.75 0 1 0 -3.5 0ZM320.48 228.71a1.75 1.75 0 1 0 3.5 0a1.75 1.75 0 1 0 -3.5 0ZM326.13 65.73a1.75 1.75 0 1 0 3.5 0a1.75 1.75 0 1 0 -3.5 0ZM326.13 93.83a1.75 1.75 0 1 0 3.5 0a1.75 1.75 0 1 0 -3.5 0ZM326.13 172.51a1.75 1.75 0 1 0 3.5 0a1.75 1.75 0 1 0 -3.5 0ZM326.13 178.13a1.75 1.75 0 1 0 3.5 0a1.75 1.75 0 1 0 -3.5 0ZM331.78 82.59a1.75 1.75 0 1 0 3.5 0a1.75 1.75 0 1 0 -3.5 0ZM331.78 178.13a1.75 1.75 0 1 0 3.5 0a1.75 1.75 0 1 0 -3.5 0ZM331.78 183.75a1.75 1.75 0 1 0 3.5 0a1.75 1.75 0 1 0 -3.5 0ZM331.78 189.37a1.75 1.75 0 1 0 3.5 0a1.75 1.75 0 1 0 -3.5 0ZM331.78 234.33a1.75 1.75 0 1 0 3.5 0a1.75 1.75 0 1 0 -3.5 0ZM337.44 82.59a1.75 1.75 0 1 0 3.5 0a1.75 1.75 0 1 0 -3.5 0ZM337.44 105.07a1.75 1.75 0 1 0 3.5 0a1.75 1.75 0 1 0 -3.5 0ZM337.44 144.41a1.75 1.75 0 1 0 3.5 0a1.75 1.75 0 1 0 -3.5 0ZM337.44 166.89a1.75 1.75 0 1 0 3.5 0a1.75 1.75 0 1 0 -3.5 0ZM337.44 172.51a1.75 1.75 0 1 0 3.5 0a1.75 1.75 0 1 0 -3.5 0ZM337.44 183.75a1.75 1.75 0 1 0 3.5 0a1.75 1.75 0 1 0 -3.5 0ZM337.44 189.37a1.75 1.75 0 1 0 3.5 0a1.75 1.75 0 1 0 -3.5 0ZM337.44 194.99a1.75 1.75 0 1 0 3.5 0a1.75 1.75 0 1 0 -3.5 0ZM337.44 228.71a1.75 1.75 0 1 0 3.5 0a1.75 1.75 0 1 0 -3.5 0ZM337.44 234.33a1.75 1.75 0 1 0 3.5 0a1.75 1.75 0 1 0 -3.5 0ZM343.09 88.21a1.75 1.75 0 1 0 3.5 0a1.75 1.75 0 1 0 -3.5 0ZM343.09 99.45a1.75 1.75 0 1 0 3.5 0a1.75 1.75 0 1 0 -3.5 0ZM343.09 105.07a1.75 1.75 0 1 0 3.5 0a1.75 1.75 0 1 0 -3.5 0ZM343.09 155.65a1.75 1.75 0 1 0 3.5 0a1.75 1.75 0 1 0 -3.5 0ZM343.09 161.27a1.75 1.75 0 1 0 3.5 0a1.75 1.75 0 1 0 -3.5 0ZM343.09 166.89a1.75 1.75 0 1 0 3.5 0a1.75 1.75 0 1 0 -3.5 0ZM343.09 172.51a1.75 1.75 0 1 0 3.5 0a1.75 1.75 0 1 0 -3.5 0ZM343.09 183.75a1.75 1.75 0 1 0 3.5 0a1.75 1.75 0 1 0 -3.5 0ZM343.09 200.61a1.75 1.75 0 1 0 3.5 0a1.75 1.75 0 1 0 -3.5 0ZM343.09 206.23a1.75 1.75 0 1 0 3.5 0a1.75 1.75 0 1 0 -3.5 0ZM343.09 228.71a1.75 1.75 0 1 0 3.5 0a1.75 1.75 0 1 0 -3.5 0ZM348.74 155.65a1.75 1.75 0 1 0 3.5 0a1.75 1.75 0 1 0 -3.5 0ZM348.74 161.27a1.75 1.75 0 1 0 3.5 0a1.75 1.75 0 1 0 -3.5 0ZM348.74 166.89a1.75 1.75 0 1 0 3.5 0a1.75 1.75 0 1 0 -3.5 0ZM348.74 172.51a1.75 1.75 0 1 0 3.5 0a1.75 1.75 0 1 0 -3.5 0ZM348.74 194.99a1.75 1.75 0 1 0 3.5 0a1.75 1.75 0 1 0 -3.5 0ZM354.39 93.83a1.75 1.75 0 1 0 3.5 0a1.75 1.75 0 1 0 -3.5 0ZM354.39 99.45a1.75 1.75 0 1 0 3.5 0a1.75 1.75 0 1 0 -3.5 0ZM354.39 150.03a1.75 1.75 0 1 0 3.5 0a1.75 1.75 0 1 0 -3.5 0ZM354.39 172.51a1.75 1.75 0 1 0 3.5 0a1.75 1.75 0 1 0 -3.5 0ZM354.39 189.37a1.75 1.75 0 1 0 3.5 0a1.75 1.75 0 1 0 -3.5 0ZM354.39 194.99a1.75 1.75 0 1 0 3.5 0a1.75 1.75 0 1 0 -3.5 0ZM354.39 200.61a1.75 1.75 0 1 0 3.5 0a1.75 1.75 0 1 0 -3.5 0ZM360.05 76.97a1.75 1.75 0 1 0 3.5 0a1.75 1.75 0 1 0 -3.5 0ZM360.05 172.51a1.75 1.75 0 1 0 3.5 0a1.75 1.75 0 1 0 -3.5 0ZM360.05 189.37a1.75 1.75 0 1 0 3.5 0a1.75 1.75 0 1 0 -3.5 0ZM360.05 200.61a1.75 1.75 0 1 0 3.5 0a1.75 1.75 0 1 0 -3.5 0ZM365.7 166.89a1.75 1.75 0 1 0 3.5 0a1.75 1.75 0 1 0 -3.5 0ZM365.7 172.51a1.75 1.75 0 1 0 3.5 0a1.75 1.75 0 1 0 -3.5 0ZM365.7 194.99a1.75 1.75 0 1 0 3.5 0a1.75 1.75 0 1 0 -3.5 0ZM371.35 172.51a1.75 1.75 0 1 0 3.5 0a1.75 1.75 0 1 0 -3.5 0ZM371.35 211.85a1.75 1.75 0 1 0 3.5 0a1.75 1.75 0 1 0 -3.5 0ZM382.66 133.17a1.75 1.75 0 1 0 3.5 0a1.75 1.75 0 1 0 -3.5 0ZM393.96 76.97a1.75 1.75 0 1 0 3.5 0a1.75 1.75 0 1 0 -3.5 0ZM393.96 82.59a1.75 1.75 0 1 0 3.5 0a1.75 1.75 0 1 0 -3.5 0ZM393.96 93.83a1.75 1.75 0 1 0 3.5 0a1.75 1.75 0 1 0 -3.5 0ZM393.96 166.89a1.75 1.75 0 1 0 3.5 0a1.75 1.75 0 1 0 -3.5 0ZM399.61 194.99a1.75 1.75 0 1 0 3.5 0a1.75 1.75 0 1 0 -3.5 0ZM399.61 200.61a1.75 1.75 0 1 0 3.5 0a1.75 1.75 0 1 0 -3.5 0ZM405.27 9.53a1.75 1.75 0 1 0 3.5 0a1.75 1.75 0 1 0 -3.5 0ZM405.27 15.15a1.75 1.75 0 1 0 3.5 0a1.75 1.75 0 1 0 -3.5 0ZM405.27 76.97a1.75 1.75 0 1 0 3.5 0a1.75 1.75 0 1 0 -3.5 0ZM405.27 127.55a1.75 1.75 0 1 0 3.5 0a1.75 1.75 0 1 0 -3.5 0ZM405.27 166.89a1.75 1.75 0 1 0 3.5 0a1.75 1.75 0 1 0 -3.5 0ZM405.27 172.51a1.75 1.75 0 1 0 3.5 0a1.75 1.75 0 1 0 -3.5 0ZM405.27 194.99a1.75 1.75 0 1 0 3.5 0a1.75 1.75 0 1 0 -3.5 0ZM410.92 37.63a1.75 1.75 0 1 0 3.5 0a1.75 1.75 0 1 0 -3.5 0ZM410.92 43.25a1.75 1.75 0 1 0 3.5 0a1.75 1.75 0 1 0 -3.5 0ZM410.92 99.45a1.75 1.75 0 1 0 3.5 0a1.75 1.75 0 1 0 -3.5 0ZM410.92 110.69a1.75 1.75 0 1 0 3.5 0a1.75 1.75 0 1 0 -3.5 0ZM410.92 116.31a1.75 1.75 0 1 0 3.5 0a1.75 1.75 0 1 0 -3.5 0ZM410.92 121.93a1.75 1.75 0 1 0 3.5 0a1.75 1.75 0 1 0 -3.5 0ZM410.92 133.17a1.75 1.75 0 1 0 3.5 0a1.75 1.75 0 1 0 -3.5 0ZM410.92 138.79a1.75 1.75 0 1 0 3.5 0a1.75 1.75 0 1 0 -3.5 0ZM416.57 105.07a1.75 1.75 0 1 0 3.5 0a1.75 1.75 0 1 0 -3.5 0ZM416.57 110.69a1.75 1.75 0 1 0 3.5 0a1.75 1.75 0 1 0 -3.5 0ZM416.57 116.31a1.75 1.75 0 1 0 3.5 0a1.75 1.75 0 1 0 -3.5 0ZM416.57 155.65a1.75 1.75 0 1 0 3.5 0a1.75 1.75 0 1 0 -3.5 0ZM422.22 65.73a1.75 1.75 0 1 0 3.5 0a1.75 1.75 0 1 0 -3.5 0ZM422.22 71.35a1.75 1.75 0 1 0 3.5 0a1.75 1.75 0 1 0 -3.5 0ZM422.22 105.07a1.75 1.75 0 1 0 3.5 0a1.75 1.75 0 1 0 -3.5 0ZM422.22 110.69a1.75 1.75 0 1 0 3.5 0a1.75 1.75 0 1 0 -3.5 0ZM422.22 116.31a1.75 1.75 0 1 0 3.5 0a1.75 1.75 0 1 0 -3.5 0ZM422.22 121.93a1.75 1.75 0 1 0 3.5 0a1.75 1.75 0 1 0 -3.5 0ZM422.22 138.79a1.75 1.75 0 1 0 3.5 0a1.75 1.75 0 1 0 -3.5 0ZM427.88 71.35a1.75 1.75 0 1 0 3.5 0a1.75 1.75 0 1 0 -3.5 0ZM427.88 105.07a1.75 1.75 0 1 0 3.5 0a1.75 1.75 0 1 0 -3.5 0ZM427.88 110.69a1.75 1.75 0 1 0 3.5 0a1.75 1.75 0 1 0 -3.5 0ZM427.88 116.31a1.75 1.75 0 1 0 3.5 0a1.75 1.75 0 1 0 -3.5 0ZM427.88 121.93a1.75 1.75 0 1 0 3.5 0a1.75 1.75 0 1 0 -3.5 0ZM427.88 144.41a1.75 1.75 0 1 0 3.5 0a1.75 1.75 0 1 0 -3.5 0ZM427.88 150.03a1.75 1.75 0 1 0 3.5 0a1.75 1.75 0 1 0 -3.5 0ZM433.53 105.07a1.75 1.75 0 1 0 3.5 0a1.75 1.75 0 1 0 -3.5 0ZM433.53 110.69a1.75 1.75 0 1 0 3.5 0a1.75 1.75 0 1 0 -3.5 0ZM433.53 127.55a1.75 1.75 0 1 0 3.5 0a1.75 1.75 0 1 0 -3.5 0ZM439.18 88.21a1.75 1.75 0 1 0 3.5 0a1.75 1.75 0 1 0 -3.5 0ZM439.18 99.45a1.75 1.75 0 1 0 3.5 0a1.75 1.75 0 1 0 -3.5 0ZM439.18 105.07a1.75 1.75 0 1 0 3.5 0a1.75 1.75 0 1 0 -3.5 0ZM439.18 110.69a1.75 1.75 0 1 0 3.5 0a1.75 1.75 0 1 0 -3.5 0ZM439.18 121.93a1.75 1.75 0 1 0 3.5 0a1.75 1.75 0 1 0 -3.5 0ZM439.18 133.17a1.75 1.75 0 1 0 3.5 0a1.75 1.75 0 1 0 -3.5 0ZM444.83 60.11a1.75 1.75 0 1 0 3.5 0a1.75 1.75 0 1 0 -3.5 0ZM444.83 76.97a1.75 1.75 0 1 0 3.5 0a1.75 1.75 0 1 0 -3.5 0ZM444.83 116.31a1.75 1.75 0 1 0 3.5 0a1.75 1.75 0 1 0 -3.5 0ZM444.83 133.17a1.75 1.75 0 1 0 3.5 0a1.75 1.75 0 1 0 -3.5 0ZM450.49 76.97a1.75 1.75 0 1 0 3.5 0a1.75 1.75 0 1 0 -3.5 0ZM456.14 65.73a1.75 1.75 0 1 0 3.5 0a1.75 1.75 0 1 0 -3.5 0ZM456.14 76.97a1.75 1.75 0 1 0 3.5 0a1.75 1.75 0 1 0 -3.5 0ZM456.14 82.59a1.75 1.75 0 1 0 3.5 0a1.75 1.75 0 1 0 -3.5 0ZM456.14 88.21a1.75 1.75 0 1 0 3.5 0a1.75 1.75 0 1 0 -3.5 0ZM467.44 71.35a1.75 1.75 0 1 0 3.5 0a1.75 1.75 0 1 0 -3.5 0ZM473.1 76.97a1.75 1.75 0 1 0 3.5 0a1.75 1.75 0 1 0 -3.5 0ZM473.1 99.45a1.75 1.75 0 1 0 3.5 0a1.75 1.75 0 1 0 -3.5 0ZM478.75 99.45a1.75 1.75 0 1 0 3.5 0a1.75 1.75 0 1 0 -3.5 0ZM478.75 110.69a1.75 1.75 0 1 0 3.5 0a1.75 1.75 0 1 0 -3.5 0ZM484.4 76.97a1.75 1.75 0 1 0 3.5 0a1.75 1.75 0 1 0 -3.5 0ZM484.4 88.21a1.75 1.75 0 1 0 3.5 0a1.75 1.75 0 1 0 -3.5 0ZM484.4 99.45a1.75 1.75 0 1 0 3.5 0a1.75 1.75 0 1 0 -3.5 0ZM484.4 105.07a1.75 1.75 0 1 0 3.5 0a1.75 1.75 0 1 0 -3.5 0ZM490.05 105.07a1.75 1.75 0 1 0 3.5 0a1.75 1.75 0 1 0 -3.5 0ZM495.71 88.21a1.75 1.75 0 1 0 3.5 0a1.75 1.75 0 1 0 -3.5 0Z"/>
<path fill="#ffa500" d="M184.82 150.03a1.75 1.75 0 1 0 3.5 0a1.75 1.75 0 1 0 -3.5 0ZM201.78 88.21a1.75 1.75 0 1 0 3.5 0a1.75 1.75 0 1 0 -3.5 0ZM201.78 93.83a1.75 1.75 0 1 0 3.5 0a1.75 1.75 0 1 0 -3.5 0ZM201.78 178.13a1.75 1.75 0 1 0 3.5 0a1.75 1.75 0 1 0 -3.5 0ZM213.08 71.35a1.75 1.75 0 1 0 3.5 0a1.75 1.75 0 1 0 -3.5 0ZM213.08 110.69a1.75 1.75 0 1 0 3.5 0a1.75 1.75 0 1 0 -3.5 0ZM213.08 178.13a1.75 1.75 0 1 0 3.5 0a1.75 1.75 0 1 0 -3.5 0ZM218.73 138.79a1.75 1.75 0 1 0 3.5 0a1.75 1.75 0 1 0 -3.5 0ZM218.73 178.13a1.75 1.75 0 1 0 3.5 0a1.75 1.75 0 1 0 -3.5 0ZM224.39 127.55a1.75 1.75 0 1 0 3.5 0a1.75 1.75 0 1 0 -3.5 0ZM224.39 133.17a1.75 1.75 0 1 0 3.5 0a1.75 1.75 0 1 0 -3.5 0ZM224.39 166.89a1.75 1.75 0 1 0 3.5 0a1.75 1.75 0 1 0 -3.5 0ZM230.04 93.83a1.75 1.75 0 1 0 3.5 0a1.75 1.75 0 1 0 -3.5 0ZM230.04 150.03a1.75 1.75 0 1 0 3.5 0a1.75 1.75 0 1 0 -3.5 0ZM230.04 166.89a1.75 1.75 0 1 0 3.5 0a1.75 1.75 0 1 0 -3.5 0ZM235.69 166.89a1.75 1.75 0 1 0 3.5 0a1.75 1.75 0 1 0 -3.5 0ZM247 82.59a1.75 1.75 0 1 0 3.5 0a1.75 1.75 0 1 0 -3.5 0ZM247 88.21a1.75 1.75 0 1 0 3.5 0a1.75 1.75 0 1 0 -3.5 0ZM247 93.83a1.75 1.75 0 1 0 3.5 0a1.75 1.75 0 1 0 -3.5 0ZM258.3 93.83a1.75 1.75 0 1 0 3.5 0a1.75 1.75 0 1 0 -3.5 0ZM258.3 99.45a1.75 1.75 0 1 0 3.5 0a1.75 1.75 0 1 0 -3.5 0ZM269.61 76.97a1.75 1.75 0 1 0 3.5 0a1.75 1.75 0 1 0 -3.5 0ZM269.61 155.65a1.75 1.75 0 1 0 3.5 0a1.75 1.75 0 1 0 -3.5 0ZM269.61 161.27a1.75 1.75 0 1 0 3.5 0a1.75 1.75 0 1 0 -3.5 0ZM269.61 172.51a1.75 1.75 0 1 0 3.5 0a1.75 1.75 0 1 0 -3.5 0ZM269.61 178.13a1.75 1.75 0 1 0 3.5 0a1.75 1.75 0 1 0 -3.5 0ZM275.26 99.45a1.75 1.75 0 1 0 3.5 0a1.75 1.75 0 1 0 -3.5 0ZM275.26 138.79a1.75 1.75 0 1 0 3.5 0a1.75 1.75 0 1 0 -3.5 0ZM275.26 189.37a1.75 1.75 0 1 0 3.5 0a1.75 1.75 0 1 0 -3.5 0ZM280.91 93.83a1.75 1.75 0 1 0 3.5 0a1.75 1.75 0 1 0 -3.5 0ZM280.91 183.75a1.75 1.75 0 1 0 3.5 0a1.75 1.75 0 1 0 -3.5 0ZM280.91 194.99a1.75 1.75 0 1 0 3.5 0a1.75 1.75 0 1 0 -3.5 0ZM280.91 206.23a1.75 1.75 0 1 0 3.5 0a1.75 1.75 0 1 0 -3.5 0ZM286.56 133.17a1.75 1.75 0 1 0 3.5 0a1.75 1.75 0 1 0 -3.5 0ZM286.56 200.61a1.75 1.75 0 1 0 3.5 0a1.75 1.75 0 1 0 -3.5 0ZM297.87 189.37a1.75 1.75 0 1 0 3.5 0a1.75 1.75 0 1 0 -3.5 0ZM303.52 32.01a1.75 1.75 0 1 0 3.5 0a1.75 1.75 0 1 0 -3.5 0ZM303.52 105.07a1.75 1.75 0 1 0 3.5 0a1.75 1.75 0 1 0 -3.5 0ZM303.52 206.23a1.75 1.75 0 1 0 3.5 0a1.75 1.75 0 1 0 -3.5 0ZM309.17 223.09a1.75 1.75 0 1 0 3.5 0a1.75 1.75 0 1 0 -3.5 0ZM309.17 228.71a1.75 1.75 0 1 0 3.5 0a1.75 1.75 0 1 0 -3.5 0ZM314.83 65.73a1.75 1.75 0 1 0 3.5 0a1.75 1.75 0 1 0 -3.5 0ZM314.83 166.89a1.75 1.75 0 1 0 3.5 0a1.75 1.75 0 1 0 -3.5 0ZM320.48 166.89a1.75 1.75 0 1 0 3.5 0a1.75 1.75 0 1 0 -3.5 0ZM326.13 88.21a1.75 1.75 0 1 0 3.5 0a1.75 1.75 0 1 0 -3.5 0ZM326.13 99.45a1.75 1.75 0 1 0 3.5 0a1.75 1.75 0 1 0 -3.5 0ZM326.13 105.07a1.75 1.75 0 1 0 3.5 0a1.75 1.75 0 1 0 -3.5 0ZM331.78 161.27a1.75 1.75 0 1 0 3.5 0a1.75 1.75 0 1 0 -3.5 0ZM337.44 133.17a1.75 1.75 0 1 0 3.5 0a1.75 1.75 0 1 0 -3.5 0ZM337.44 138.79a1.75 1.75 0 1 0 3.5 0a1.75 1.75 0 1 0 -3.5 0ZM343.09 82.59a1.75 1.75 0 1 0 3.5 0a1.75 1.75 0 1 0 -3.5 0ZM343.09 144.41a1.75 1.75 0 1 0 3.5 0a1.75 1.75 0 1 0 -3.5 0ZM343.09 178.13a1.75 1.75 0 1 0 3.5 0a1.75 1.75 0 1 0 -3.5 0ZM343.09 189.37a1.75 1.75 0 1 0 3.5 0a1.75 1.75 0 1 0 -3.5 0ZM343.09 194.99a1.75 1.75 0 1 0 3.5 0a1.75 1.75 0 1 0 -3.5 0ZM348.74 60.11a1.75 1.75 0 1 0 3.5 0a1.75 1.75 0 1 0 -3.5 0ZM348.74 65.73a1.75 1.75 0 1 0 3.5 0a1.75 1.75 0 1 0 -3.5 0ZM354.39 43.25a1.75 1.75 0 1 0 3.5 0a1.75 1.75 0 1 0 -3.5 0ZM354.39 65.73a1.75 1.75 0 1 0 3.5 0a1.75 1.75 0 1 0 -3.5 0ZM354.39 76.97a1.75 1.75 0 1 0 3.5 0a1.75 1.75 0 1 0 -3.5 0ZM354.39 161.27a1.75 1.75 0 1 0 3.5 0a1.75 1.75 0 1 0 -3.5 0ZM354.39 166.89a1.75 1.75 0 1 0 3.5 0a1.75 1.75 0 1 0 -3.5 0ZM354.39 178.13a1.75 1.75 0 1 0 3.5 0a1.75 1.75 0 1 0 -3.5 0ZM360.05 65.73a1.75 1.75 0 1 0 3.5 0a1.75 1.75 0 1 0 -3.5 0ZM360.05 161.27a1.75 1.75 0 1 0 3.5 0a1.75 1.75 0 1 0 -3.5 0ZM360.05 166.89a1.75 1.75 0 1 0 3.5 0a1.75 1.75 0 1 0 -3.5 0ZM360.05 178.13a1.75 1.75 0 1 0 3.5 0a1.75 1.75 0 1 0 -3.5 0ZM365.7 121.93a1.75 1.75 0 1 0 3.5 0a1.75 1.75 0 1 0 -3.5 0ZM365.7 189.37a1.75 1.75 0 1 0 3.5 0a1.75 1.75 0 1 0 -3.5 0ZM371.35 82.59a1.75 1.75 0 1 0 3.5 0a1.75 1.75 0 1 0 -3.5 0ZM371.35 166.89a1.75 1.75 0 1 0 3.5 0a1.75 1.75 0 1 0 -3.5 0ZM371.35 178.13a1.75 1.75 0 1 0 3.5 0a1.75 1.75 0 1 0 -3.5 0ZM371.35 183.75a1.75 1.75 0 1 0 3.5 0a1.75 1.75 0 1 0 -3.5 0ZM371.35 206.23a1.75 1.75 0 1 0 3.5 0a1.75 1.75 0 1 0 -3.5 0ZM377 110.69a1.75 1.75 0 1 0 3.5 0a1.75 1.75 0 1 0 -3.5 0ZM377 194.99a1.75 1.75 0 1 0 3.5 0a1.75 1.75 0 1 0 -3.5 0ZM388.31 76.97a1.75 1.75 0 1 0 3.5 0a1.75 1.75 0 1 0 -3.5 0ZM388.31 166.89a1.75 1.75 0 1 0 3.5 0a1.75 1.75 0 1 0 -3.5 0ZM388.31 183.75a1.75 1.75 0 1 0 3.5 0a1.75 1.75 0 1 0 -3.5 0ZM393.96 133.17a1.75 1.75 0 1 0 3.5 0a1.75 1.75 0 1 0 -3.5 0ZM393.96 150.03a1.75 1.75 0 1 0 3.5 0a1.75 1.75 0 1 0 -3.5 0ZM393.96 161.27a1.75 1.75 0 1 0 3.5 0a1.75 1.75 0 1 0 -3.5 0ZM399.61 127.55a1.75 1.75 0 1 0 3.5 0a1.75 1.75 0 1 0 -3.5 0ZM399.61 178.13a1.75 1.75 0 1 0 3.5 0a1.75 1.75 0 1 0 -3.5 0ZM405.27 60.11a1.75 1.75 0 1 0 3.5 0a1.75 1.75 0 1 0 -3.5 0ZM405.27 133.17a1.75 1.75 0 1 0 3.5 0a1.75 1.75 0 1 0 -3.5 0ZM410.92 127.55a1.75 1.75 0 1 0 3.5 0a1.75 1.75 0 1 0 -3.5 0ZM433.53 93.83a1.75 1.75 0 1 0 3.5 0a1.75 1.75 0 1 0 -3.5 0ZM433.53 138.79a1.75 1.75 0 1 0 3.5 0a1.75 1.75 0 1 0 -3.5 0ZM439.18 82.59a1.75 1.75 0 1 0 3.5 0a1.75 1.75 0 1 0 -3.5 0ZM439.18 138.79a1.75 1.75 0 1 0 3.5 0a1.75 1.75 0 1 0 -3.5 0ZM444.83 105.07a1.75 1.75 0 1 0 3.5 0a1.75 1.75 0 1 0 -3.5 0ZM450.49 88.21a1.75 1.75 0 1 0 3.5 0a1.75 1.75 0 1 0 -3.5 0ZM456.14 116.31a1.75 1.75 0 1 0 3.5 0a1.75 1.75 0 1 0 -3.5 0ZM461.79 105.07a1.75 1.75 0 1 0 3.5 0a1.75 1.75 0 1 0 -3.5 0ZM467.44 105.07a1.75 1.75 0 1 0 3.5 0a1.75 1.75 0 1 0 -3.5 0ZM473.1 82.59a1.75 1.75 0 1 0 3.5 0a1.75 1.75 0 1 0 -3.5 0ZM473.1 93.83a1.75 1.75 0 1 0 3.5 0a1.75 1.75 0 1 0 -3.5 0ZM478.75 93.83a1.75 1.75 0 1 0 3.5 0a1.75 1.75 0 1 0 -3.5 0Z"/>
<path fill="#0000ff" d="M173.51 150.03a1.75 1.75 0 1 0 3.5 0a1.75 1.75 0 1 0 -3.5 0ZM184.82 161.27a1.75 1.75 0 1 0 3.5 0a1.75 1.75 0 1 0 -3.5 0ZM190.47 144.41a1.75 1.75 0 1 0 3.5 0a1.75 1.75 0 1 0 -3.5 0ZM196.12 133.17a1.75 1.75 0 1 0 3.5 0a1.75 1.75 0 1 0 -3.5 0ZM201.78 172.51a1.75 1.75 0 1 0 3.5 0a1.75 1.75 0 1 0 -3.5 0ZM201.78 183.75a1.75 1.75 0 1 0 3.5 0a1.75 1.75 0 1 0 -3.5 0ZM207.43 93.83a1.75 1.75 0 1 0 3.5 0a1.75 1.75 0 1 0 -3.5 0ZM207.43 99.45a1.75 1.75 0 1 0 3.5 0a1.75 1.75 0 1 0 -3.5 0ZM207.43 133.17a1.75 1.75 0 1 0 3.5 0a1.75 1.75 0 1 0 -3.5 0ZM207.43 183.75a1.75 1.75 0 1 0 3.5 0a1.75 1.75 0 1 0 -3.5 0ZM213.08 93.83a1.75 1.75 0 1 0 3.5 0a1.75 1.75 0 1 0 -3.5 0ZM218.73 127.55a1.75 1.75 0 1 0 3.5 0a1.75 1.75 0 1 0 -3.5 0ZM224.39 116.31a1.75 1.75 0 1 0 3.5 0a1.75 1.75 0 1 0 -3.5 0ZM224.39 121.93a1.75 1.75 0 1 0 3.5 0a1.75 1.75 0 1 0 -3.5 0ZM224.39 178.13a1.75 1.75 0 1 0 3.5 0a1.75 1.75 0 1 0 -3.5 0ZM230.04 116.31a1.75 1.75 0 1 0 3.5 0a1.75 1.75 0 1 0 -3.5 0ZM230.04 121.93a1.75 1.75 0 1 0 3.5 0a1.75 1.75 0 1 0 -3.5 0ZM235.69 110.69a1.75 1.75 0 1 0 3.5 0a1.75 1.75 0 1 0 -3.5 0ZM235.69 116.31a1.75 1.75 0 1 0 3.5 0a1.75 1.75 0 1 0 -3.5 0ZM235.69 150.03a1.75 1.75 0 1 0 3.5 0a1.75 1.75 0 1 0 -3.5 0ZM241.34 99.45a1.75 1.75 0 1 0 3.5 0a1.75 1.75 0 1 0 -3.5 0ZM241.34 138.79a1.75 1.75 0 1 0 3.5 0a1.75 1.75 0 1 0 -3.5 0ZM241.34 144.41a1.75 1.75 0 1 0 3.5 0a1.75 1.75 0 1 0 -3.5 0ZM252.65 82.59a1.75 1.75 0 1 0 3.5 0a1.75 1.75 0 1 0 -3.5 0ZM252.65 99.45a1.75 1.75 0 1 0 3.5 0a1.75 1.75 0 1 0 -3.5 0ZM252.65 178.13a1.75 1.75 0 1 0 3.5 0a1.75 1.75 0 1 0 -3.5 0ZM252.65 183.75a1.75 1.75 0 1 0 3.5 0a1.75 1.75 0 1 0 -3.5 0ZM252.65 189.37a1.75 1.75 0 1 0 3.5 0a1.75 1.75 0 1 0 -3.5 0ZM258.3 133.17a1.75 1.75 0 1 0 3.5 0a1.75 1.75 0 1 0 -3.5 0ZM258.3 150.03a1.75 1.75 0 1 0 3.5 0a1.75 1.75 0 1 0 -3.5 0ZM258.3 178.13a1.75 1.75 0 1 0 3.5 0a1.75 1.75 0 1 0 -3.5 0ZM258.3 183.75a1.75 1.75 0 1 0 3.5 0a1.75 1.75 0 1 0 -3.5 0ZM258.3 194.99a1.75 1.75 0 1 0 3.5 0a1.75 1.75 0 1 0 -3.5 0ZM263.95 60.11a1.75 1.75 0 1 0 3.5 0a1.75 1.75 0 1 0 -3.5 0ZM263.95 121.93a1.75 1.75 0 1 0 3.5 0a1.75 1.75 0 1 0 -3.5 0ZM263.95 150.03a1.75 1.75 0 1 0 3.5 0a1.75 1.75 0 1 0 -3.5 0ZM263.95 183.75a1.75 1.75 0 1 0 3.5 0a1.75 1.75 0 1 0 -3.5 0ZM269.61 99.45a1.75 1.75 0 1 0 3.5 0a1.75 1.75 0 1 0 -3.5 0ZM269.61 116.31a1.75 1.75 0 1 0 3.5 0a1.75 1.75 0 1 0 -3.5 0ZM269.61 121.93a1.75 1.75 0 1 0 3.5 0a1.75 1.75 0 1 0 -3.5 0ZM269.61 144.41a1.75 1.75 0 1 0 3.5 0a1.75 1.75 0 1 0 -3.5 0ZM275.26 150.03a1.75 1.75 0 1 0 3.5 0a1.75 1.75 0 1 0 -3.5 0ZM275.26 200.61a1.75 1.75 0 1 0 3.5 0a1.75 1.75 0 1 0 -3.5 0ZM280.91 48.87a1.75 1.75 0 1 0 3.5 0a1.75 1.75 0 1 0 -3.5 0ZM280.91 144.41a1.75 1.75 0 1 0 3.5 0a1.75 1.75 0 1 0 -3.5 0ZM280.91 161.27a1.75 1.75 0 1 0 3.5 0a1.75 1.75 0 1 0 -3.5 0ZM286.56 37.63a1.75 1.75 0 1 0 3.5 0a1.75 1.75 0 1 0 -3.5 0ZM286.56 144.41a1.75 1.75 0 1 0 3.5 0a1.75 1.75 0 1 0 -3.5 0ZM292.22 150.03a1.75 1.75 0 1 0 3.5 0a1.75 1.75 0 1 0 -3.5 0ZM292.22 166.89a1.75 1.75 0 1 0 3.5 0a1.75 1.75 0 1 0 -3.5 0ZM297.87 166.89a1.75 1.75 0 1 0 3.5 0a1.75 1.75 0 1 0 -3.5 0ZM297.87 172.51a1.75 1.75 0 1 0 3.5 0a1.75 1.75 0 1 0 -3.5 0ZM297.87 206.23a1.75 1.75 0 1 0 3.5 0a1.75 1.75 0 1 0 -3.5 0ZM303.52 172.51a1.75 1.75 0 1 0 3.5 0a1.75 1.75 0 1 0 -3.5 0ZM303.52 211.85a1.75 1.75 0 1 0 3.5 0a1.75 1.75 0 1 0 -3.5 0ZM309.17 71.35a1.75 1.75 0 1 0 3.5 0a1.75 1.75 0 1 0 -3.5 0ZM309.17 82.59a1.75 1.75 0 1 0 3.5 0a1.75 1.75 0 1 0 -3.5 0ZM309.17 93.83a1.75 1.75 0 1 0 3.5 0a1.75 1.75 0 1 0 -3.5 0ZM309.17 105.07a1.75 1.75 0 1 0 3.5 0a1.75 1.75 0 1 0 -3.5 0ZM309.17 172.51a1.75 1.75 0 1 0 3.5 0a1.75 1.75 0 1 0 -3.5 0ZM309.17 178.13a1.75 1.75 0 1 0 3.5 0a1.75 1.75 0 1 0 -3.5 0ZM309.17 194.99a1.75 1.75 0 1 0 3.5 0a1.75 1.75 0 1 0 -3.5 0ZM314.83 71.35a1.75 1.75 0 1 0 3.5 0a1.75 1.75 0 1 0 -3.5 0ZM314.83 82.59a1.75 1.75 0 1 0 3.5 0a1.75 1.75 0 1 0 -3.5 0ZM314.83 172.51a1.75 1.75 0 1 0 3.5 0a1.75 1.75 0 1 0 -3.5 0ZM314.83 234.33a1.75 1.75 0 1 0 3.5 0a1.75 1.75 0 1 0 -3.5 0ZM320.48 223.09a1.75 1.75 0 1 0 3.5 0a1.75 1.75 0 1 0 -3.5 0ZM326.13 150.03a1.75 1.75 0 1 0 3.5 0a1.75 1.75 0 1 0 -3.5 0ZM326.13 234.33a1.75 1.75 0 1 0 3.5 0a1.75 1.75 0 1 0 -3.5 0ZM326.13 239.95a1.75 1.75 0 1 0 3.5 0a1.75 1.75 0 1 0 -3.5 0ZM331.78 76.97a1.75 1.75 0 1 0 3.5 0a1.75 1.75 0 1 0 -3.5 0ZM331.78 99.45a1.75 1.75 0 1 0 3.5 0a1.75 1.75 0 1 0 -3.5 0ZM331.78 150.03a1.75 1.75 0 1 0 3.5 0a1.75 1.75 0 1 0 -3.5 0ZM337.44 88.21a1.75 1.75 0 1 0 3.5 0a1.75 1.75 0 1 0 -3.5 0ZM337.44 99.45a1.75 1.75 0 1 0 3.5 0a1.75 1.75 0 1 0 -3.5 0ZM337.44 223.09a1.75 1.75 0 1 0 3.5 0a1.75 1.75 0 1 0 -3.5 0ZM343.09 133.17a1.75 1.75 0 1 0 3.5 0a1.75 1.75 0 1 0 -3.5 0ZM343.09 138.79a1.75 1.75 0 1 0 3.5 0a1.75 1.75 0 1 0 -3.5 0ZM343.09 223.09a1.75 1.75 0 1 0 3.5 0a1.75 1.75 0 1 0 -3.5 0ZM348.74 88.21a1.75 1.75 0 1 0 3.5 0a1.75 1.75 0 1 0 -3.5 0ZM348.74 138.79a1.75 1.75 0 1 0 3.5 0a1.75 1.75 0 1 0 -3.5 0ZM348.74 178.13a1.75 1.75 0 1 0 3.5 0a1.75 1.75 0 1 0 -3.5 0ZM348.74 183.75a1.75 1.75 0 1 0 3.5 0a1.75 1.75 0 1 0 -3.5 0ZM354.39 60.11a1.75 1.75 0 1 0 3.5 0a1.75 1.75 0 1 0 -3.5 0ZM354.39 121.93a1.75 1.75 0 1 0 3.5 0a1.75 1.75 0 1 0 -3.5 0ZM354.39 144.41a1.75 1.75 0 1 0 3.5 0a1.75 1.75 0 1 0 -3.5 0ZM354.39 183.75a1.75 1.75 0 1 0 3.5 0a1.75 1.75 0 1 0 -3.5 0ZM360.05 37.63a1.75 1.75 0 1 0 3.5 0a1.75 1.75 0 1 0 -3.5 0ZM360.05 43.25a1.75 1.75 0 1 0 3.5 0a1.75 1.75 0 1 0 -3.5 0ZM360.05 150.03a1.75 1.75 0 1 0 3.5 0a1.75 1.75 0 1 0 -3.5 0ZM365.7 37.63a1.75 1.75 0 1 0 3.5 0a1.75 1.75 0 1 0 -3.5 0ZM365.7 65.73a1.75 1.75 0 1 0 3.5 0a1.75 1.75 0 1 0 -3.5 0ZM371.35 116.31a1.75 1.75 0 1 0 3.5 0a1.75 1.75 0 1 0 -3.5 0ZM371.35 161.27a1.75 1.75 0 1 0 3.5 0a1.75 1.75 0 1 0 -3.5 0ZM377 116.31a1.75 1.75 0 1 0 3.5 0a1.75 1.75 0 1 0 -3.5 0ZM377 121.93a1.75 1.75 0 1 0 3.5 0a1.75 1.75 0 1 0 -3.5 0ZM377 133.17a1.75 1.75 0 1 0 3.5 0a1.75 1.75 0 1 0 -3.5 0ZM377 161.27a1.75 1.75 0 1 0 3.5 0a1.75 1.75 0 1 0 -3.5 0ZM377 200.61a1.75 1.75 0 1 0 3.5 0a1.75 1.75 0 1 0 -3.5 0ZM382.66 116.31a1.75 1.75 0 1 0 3.5 0a1.75 1.75 0 1 0 -3.5 0ZM382.66 138.79a1.75 1.75 0 1 0 3.5 0a1.75 1.75 0 1 0 -3.5 0ZM382.66 166.89a1.75 1.75 0 1 0 3.5 0a1.75 1.75 0 1 0 -3.5 0ZM388.31 105.07a1.75 1.75 0 1 0 3.5 0a1.75 1.75 0 1 0 -3.5 0ZM393.96 65.73a1.75 1.75 0 1 0 3.5 0a1.75 1.75 0 1 0 -3.5 0ZM393.96 99.45a1.75 1.75 0 1 0 3.5 0a1.75 1.75 0 1 0 -3.5 0ZM393.96 105.07a1.75 1.75 0 1 0 3.5 0a1.75 1.75 0 1 0 -3.5 0ZM393.96 110.69a1.75 1.75 0 1 0 3.5 0a1.75 1.75 0 1 0 -3.5 0ZM393.96 121.93a1.75 1.75 0 1 0 3.5 0a1.75 1.75 0 1 0 -3.5 0ZM393.96 178.13a1.75 1.75 0 1 0 3.5 0a1.75 1.75 0 1 0 -3.5 0ZM393.96 183.75a1.75 1.75 0 1 0 3.5 0a1.75 1.75 0 1 0 -3.5 0ZM393.96 194.99a1.75 1.75 0 1 0 3.5 0a1.75 1.75 0 1 0 -3.5 0ZM399.61 60.11a1.75 1.75 0 1 0 3.5 0a1.75 1.75 0 1 0 -3.5 0ZM399.61 88.21a1.75 1.75 0 1 0 3.5 0a1.75 1.75 0 1 0 -3.5 0ZM399.61 172.51a1.75 1.75 0 1 0 3.5 0a1.75 1.75 0 1 0 -3.5 0ZM405.27 43.25a1.75 1.75 0 1 0 3.5 0a1.75 1.75 0 1 0 -3.5 0ZM405.27 48.87a1.75 1.75 0 1 0 3.5 0a1.75 1.75 0 1 0 -3.5 0ZM405.27 54.49a1.75 1.75 0 1 0 3.5 0a1.75 1.75 0 1 0 -3.5 0ZM405.27 71.35a1.75 1.75 0 1 0 3.5 0a1.75 1.75 0 1 0 -3.5 0ZM405.27 144.41a1.75 1.75 0 1 0 3.5 0a1.75 1.75 0 1 0 -3.5 0ZM405.27 155.65a1.75 1.75 0 1 0 3.5 0a1.75 1.75 0 1 0 -3.5 0ZM405.27 200.61a1.75 1.75 0 1 0 3.5 0a1.75 1.75 0 1 0 -3.5 0ZM410.92 26.39a1.75 1.75 0 1 0 3.5 0a1.75 1.75 0 1 0 -3.5 0ZM410.92 48.87a1.75 1.75 0 1 0 3.5 0a1.75 1.75 0 1 0 -3.5 0ZM410.92 54.49a1.75 1.75 0 1 0 3.5 0a1.75 1.75 0 1 0 -3.5 0ZM410.92 71.35a1.75 1.75 0 1 0 3.5 0a1.75 1.75 0 1 0 -3.5 0ZM410.92 144.41a1.75 1.75 0 1 0 3.5 0a1.75 1.75 0 1 0 -3.5 0ZM410.92 155.65a1.75 1.75 0 1 0 3.5 0a1.75 1.75 0 1 0 -3.5 0ZM416.57 26.39a1.75 1.75 0 1 0 3.5 0a1.75 1.75 0 1 0 -3.5 0ZM416.57 37.63a1.75 1.75 0 1 0 3.5 0a1.75 1.75 0 1 0 -3.5 0ZM416.57 43.25a1.75 1.75 0 1 0 3.5 0a1.75 1.75 0 1 0 -3.5 0ZM416.57 48.87a1.75 1.75 0 1 0 3.5 0a1.75 1.75 0 1 0 -3.5 0ZM416.57 54.49a1.75 1.75 0 1 0 3.5 0a1.75 1.75 0 1 0 -3.5 0ZM416.57 121.93a1.75 1.75 0 1 0 3.5 0a1.75 1.75 0 1 0 -3.5 0ZM422.22 32.01a1.75 1.75 0 1 0 3.5 0a1.75 1.75 0 1 0 -3.5 0ZM422.22 37.63a1.75 1.75 0 1 0 3.5 0a1.75 1.75 0 1 0 -3.5 0ZM422.22 43.25a1.75 1.75 0 1 0 3.5 0a1.75 1.75 0 1 0 -3.5 0ZM422.22 48.87a1.75 1.75 0 1 0 3.5 0a1.75 1.75 0 1 0 -3.5 0ZM422.22 54.49a1.75 1.75 0 1 0 3.5 0a1.75 1.75 0 1 0 -3.5 0ZM422.22 76.97a1.75 1.75 0 1 0 3.5 0a1.75 1.75 0 1 0 -3.5 0ZM422.22 133.17a1.75 1.75 0 1 0 3.5 0a1.75 1.75 0 1 0 -3.5 0ZM422.22 144.41a1.75 1.75 0 1 0 3.5 0a1.75 1.75 0 1 0 -3.5 0ZM422.22 150.03a1.75 1.75 0 1 0 3.5 0a1.75 1.75 0 1 0 -3.5 0ZM427.88 54.49a1.75 1.75 0 1 0 3.5 0a1.75 1.75 0 1 0 -3.5 0ZM427.88 93.83a1.75 1.75 0 1 0 3.5 0a1.75 1.75 0 1 0 -3.5 0ZM427.88 99.45a1.75 1.75 0 1 0 3.5 0a1.75 1.75 0 1 0 -3.5 0ZM427.88 138.79a1.75 1.75 0 1 0 3.5 0a1.75 1.75 0 1 0 -3.5 0ZM433.53 71.35a1.75 1.75 0 1 0 3.5 0a1.75 1.75 0 1 0 -3.5 0ZM433.53 99.45a1.75 1.75 0 1 0 3.5 0a1.75 1.75 0 1 0 -3.5 0ZM433.53 116.31a1.75 1.75 0 1 0 3.5 0a1.75 1.75 0 1 0 -3.5 0ZM433.53 121.93a1.75 1.75 0 1 0 3.5 0a1.75 1.75 0 1 0 -3.5 0ZM433.53 133.17a1.75 1.75 0 1 0 3.5 0a1.75 1.75 0 1 0 -3.5 0ZM433.53 144.41a1.75 1.75 0 1 0 3.5 0a1.75 1.75 0 1 0 -3.5 0ZM439.18 65.73a1.75 1.75 0 1 0 3.5 0a1.75 1.75 0 1 0 -3.5 0ZM439.18 116.31a1.75 1.75 0 1 0 3.5 0a1.75 1.75 0 1 0 -3.5 0ZM444.83 71.35a1.75 1.75 0 1 0 3.5 0a1.75 1.75 0 1 0 -3.5 0ZM444.83 82.59a1.75 1.75 0 1 0 3.5 0a1.75 1.75 0 1 0 -3.5 0ZM444.83 99.45a1.75 1.75 0 1 0 3.5 0a1.75 1.75 0 1 0 -3.5 0ZM444.83 110.69a1.75 1.75 0 1 0 3.5 0a1.75 1.75 0 1 0 -3.5 0ZM450.49 65.73a1.75 1.75 0 1 0 3.5 0a1.75 1.75 0 1 0 -3.5 0ZM450.49 82.59a1.75 1.75 0 1 0 3.5 0a1.75 1.75 0 1 0 -3.5 0ZM450.49 110.69a1.75 1.75 0 1 0 3.5 0a1.75 1.75 0 1 0 -3.5 0ZM456.14 71.35a1.75 1.75 0 1 0 3.5 0a1.75 1.75 0 1 0 -3.5 0ZM456.14 93.83a1.75 1.75 0 1 0 3.5 0a1.75 1.75 0 1 0 -3.5 0ZM456.14 99.45a1.75 1.75 0 1 0 3.5 0a1.75 1.75 0 1 0 -3.5 0ZM456.14 105.07a1.75 1.75 0 1 0 3.5 0a1.75 1.75 0 1 0 -3.5 0ZM456.14 110.69a1.75 1.75 0 1 0 3.5 0a1.75 1.75 0 1 0 -3.5 0ZM461.79 93.83a1.75 1.75 0 1 0 3.5 0a1.75 1.75 0 1 0 -3.5 0ZM461.79 99.45a1.75 1.75 0 1 0 3.5 0a1.75 1.75 0 1 0 -3.5 0ZM473.1 88.21a1.75 1.75 0 1 0 3.5 0a1.75 1.75 0 1 0 -3.5 0ZM473.1 105.07a1.75 1.75 0 1 0 3.5 0a1.75 1.75 0 1 0 -3.5 0ZM478.75 76.97a1.75 1.75 0 1 0 3.5 0a1.75 1.75 0 1 0 -3.5 0ZM478.75 105.07a1.75 1.75 0 1 0 3.5 0a1.75 1.75 0 1 0 -3.5 0ZM484.4 82.59a1.75 1.75 0 1 0 3.5 0a1.75 1.75 0 1 0 -3.5 0ZM490.05 82.59a1.75 1.75 0 1 0 3.5 0a1.75 1.75 0 1 0 -3.5 0Z"/>
<path fill="#0000ff" d="M316.58 198.21l2.3 4h-4.6ZM322.23 186.97l2.3 4h-4.6ZM322.23 203.83l2.3 4h-4.6ZM322.23 209.45l2.3 4h-4.6ZM322.23 215.07l2.3 4h-4.6ZM327.88 181.35l2.3 4h-4.6ZM327.88 186.97l2.3 4h-4.6ZM327.88 203.83l2.3 4h-4.6ZM327.88 215.07l2.3 4h-4.6ZM327.88 220.69l2.3 4h-4.6ZM333.53 192.59l2.3 4h-4.6ZM333.53 198.21l2.3 4h-4.6ZM333.53 203.83l2.3 4h-4.6ZM333.53 209.45l2.3 4h-4.6ZM333.53 215.07l2.3 4h-4.6ZM333.53 220.69l2.3 4h-4.6ZM333.53 226.31l2.3 4h-4.6ZM339.19 203.83l2.3 4h-4.6ZM339.19 209.45l2.3 4h-4.6ZM339.19 215.07l2.3 4h-4.6ZM339.19 293.75l2.3 4h-4.6ZM339.19 299.37l2.3 4h-4.6ZM344.84 209.45l2.3 4h-4.6ZM344.84 215.07l2.3 4h-4.6ZM344.84 231.93l2.3 4h-4.6ZM344.84 276.89l2.3 4h-4.6ZM344.84 282.51l2.3 4h-4.6ZM344.84 288.13l2.3 4h-4.6ZM344.84 293.75l2.3 4h-4.6ZM350.49 198.21l2.3 4h-4.6ZM350.49 209.45l2.3 4h-4.6ZM350.49 215.07l2.3 4h-4.6ZM350.49 220.69l2.3 4h-4.6ZM350.49 276.89l2.3 4h-4.6ZM350.49 282.51l2.3 4h-4.6ZM350.49 288.13l2.3 4h-4.6ZM350.49 293.75l2.3 4h-4.6ZM350.49 299.37l2.3 4h-4.6ZM356.14 209.45l2.3 4h-4.6ZM356.14 215.07l2.3 4h-4.6ZM356.14 276.89l2.3 4h-4.6ZM356.14 282.51l2.3 4h-4.6ZM361.8 192.59l2.3 4h-4.6ZM361.8 209.45l2.3 4h-4.6ZM361.8 215.07l2.3 4h-4.6ZM361.8 226.31l2.3 4h-4.6ZM361.8 282.51l2.3 4h-4.6ZM361.8 288.13l2.3 4h-4.6ZM361.8 293.75l2.3 4h-4.6ZM367.45 198.21l2.3 4h-4.6ZM367.45 226.31l2.3 4h-4.6ZM367.45 231.93l2.3 4h-4.6ZM367.45 237.55l2.3 4h-4.6ZM367.45 243.17l2.3 4h-4.6ZM367.45 265.65l2.3 4h-4.6ZM367.45 282.51l2.3 4h-4.6ZM367.45 288.13l2.3 4h-4.6ZM367.45 293.75l2.3 4h-4.6ZM373.1 231.93l2.3 4h-4.6ZM373.1 243.17l2.3 4h-4.6ZM373.1 248.79l2.3 4h-4.6ZM373.1 254.41l2.3 4h-4.6ZM373.1 260.03l2.3 4h-4.6ZM373.1 265.65l2.3 4h-4.6ZM373.1 271.27l2.3 4h-4.6ZM373.1 299.37l2.3 4h-4.6ZM378.75 203.83l2.3 4h-4.6ZM378.75 209.45l2.3 4h-4.6ZM378.75 231.93l2.3 4h-4.6ZM378.75 237.55l2.3 4h-4.6ZM378.75 243.17l2.3 4h-4.6ZM378.75 248.79l2.3 4h-4.6ZM378.75 254.41l2.3 4h-4.6ZM378.75 265.65l2.3 4h-4.6ZM378.75 282.51l2.3 4h-4.6ZM378.75 288.13l2.3 4h-4.6ZM378.75 293.75l2.3 4h-4.6ZM384.41 209.45l2.3 4h-4.6ZM384.41 215.07l2.3 4h-4.6ZM384.41 220.69l2.3 4h-4.6ZM384.41 226.31l2.3 4h-4.6ZM384.41 231.93l2.3 4h-4.6ZM384.41 237.55l2.3 4h-4.6ZM384.41 243.17l2.3 4h-4.6ZM384.41 248.79l2.3 4h-4.6ZM384.41 254.41l2.3 4h-4.6ZM384.41 260.03l2.3 4h-4.6ZM384.41 265.65l2.3 4h-4.6ZM384.41 282.51l2.3 4h-4.6ZM384.41 288.13l2.3 4h-4.6ZM384.41 299.37l2.3 4h-4.6ZM390.06 203.83l2.3 4h-4.6ZM390.06 215.07l2.3 4h-4.6ZM390.06 220.69l2.3 4h-4.6ZM390.06 226.31l2.3 4h-4.6ZM390.06 231.93l2.3 4h-4.6ZM390.06 248.79l2.3 4h-4.6ZM390.06 260.03l2.3 4h-4.6ZM390.06 282.51l2.3 4h-4.6ZM390.06 288.13l2.3 4h-4.6ZM390.06 293.75l2.3 4h-4.6ZM390.06 299.37l2.3 4h-4.6ZM395.71 203.83l2.3 4h-4.6ZM395.71 209.45l2.3 4h-4.6ZM395.71 215.07l2.3 4h-4.6ZM395.71 220.69l2.3 4h-4.6ZM395.71 254.41l2.3 4h-4.6ZM395.71 260.03l2.3 4h-4.6ZM395.71 282.51l2.3 4h-4.6ZM395.71 288.13l2.3 4h-4.6ZM395.71 299.37l2.3 4h-4.6ZM401.36 203.83l2.3 4h-4.6ZM401.36 209.45l2.3 4h-4.6ZM401.36 260.03l2.3 4h-4.6ZM401.36 265.65l2.3 4h-4.6ZM401.36 271.27l2.3 4h-4.6ZM401.36 276.89l2.3 4h-4.6ZM401.36 288.13l2.3 4h-4.6ZM401.36 293.75l2.3 4h-4.6ZM401.36 299.37l2.3 4h-4.6ZM407.02 175.73l2.3 4h-4.6ZM407.02 209.45l2.3 4h-4.6ZM407.02 265.65l2.3 4h-4.6ZM407.02 271.27l2.3 4h-4.6ZM407.02 276.89l2.3 4h-4.6ZM407.02 282.51l2.3 4h-4.6ZM407.02 288.13l2.3 4h-4.6ZM407.02 293.75l2.3 4h-4.6ZM407.02 299.37l2.3 4h-4.6ZM412.67 170.11l2.3 4h-4.6ZM412.67 282.51l2.3 4h-4.6ZM412.67 304.99l2.3 4h-4.6ZM412.67 310.61l2.3 4h-4.6ZM418.32 254.41l2.3 4h-4.6ZM418.32 304.99l2.3 4h-4.6ZM418.32 310.61l2.3 4h-4.6ZM423.97 203.83l2.3 4h-4.6ZM423.97 276.89l2.3 4h-4.6ZM423.97 304.99l2.3 4h-4.6ZM423.97 310.61l2.3 4h-4.6ZM423.97 327.47l2.3 4h-4.6ZM423.97 333.09l2.3 4h-4.6ZM429.63 231.93l2.3 4h-4.6ZM429.63 288.13l2.3 4h-4.6ZM429.63 304.99l2.3 4h-4.6ZM429.63 310.61l2.3 4h-4.6ZM429.63 327.47l2.3 4h-4.6ZM435.28 248.79l2.3 4h-4.6ZM435.28 265.65l2.3 4h-4.6ZM435.28 276.89l2.3 4h-4.6ZM435.28 282.51l2.3 4h-4.6ZM435.28 288.13l2.3 4h-4.6ZM435.28 299.37l2.3 4h-4.6ZM435.28 304.99l2.3 4h-4.6ZM435.28 310.61l2.3 4h-4.6ZM435.28 321.85l2.3 4h-4.6ZM435.28 327.47l2.3 4h-4.6ZM440.93 142.01l2.3 4h-4.6ZM440.93 209.45l2.3 4h-4.6ZM440.93 215.07l2.3 4h-4.6ZM440.93 226.31l2.3 4h-4.6ZM440.93 243.17l2.3 4h-4.6ZM440.93 282.51l2.3 4h-4.6ZM440.93 288.13l2.3 4h-4.6ZM440.93 304.99l2.3 4h-4.6ZM440.93 310.61l2.3 4h-4.6ZM440.93 316.23l2.3 4h-4.6ZM440.93 321.85l2.3 4h-4.6ZM440.93 327.47l2.3 4h-4.6ZM446.58 125.15l2.3 4h-4.6ZM446.58 136.39l2.3 4h-4.6ZM446.58 142.01l2.3 4h-4.6ZM446.58 170.11l2.3 4h-4.6ZM446.58 231.93l2.3 4h-4.6ZM446.58 237.55l2.3 4h-4.6ZM446.58 243.17l2.3 4h-4.6ZM446.58 282.51l2.3 4h-4.6ZM446.58 288.13l2.3 4h-4.6ZM446.58 293.75l2.3 4h-4.6ZM446.58 299.37l2.3 4h-4.6ZM446.58 304.99l2.3 4h-4.6ZM446.58 310.61l2.3 4h-4.6ZM446.58 316.23l2.3 4h-4.6ZM452.24 220.69l2.3 4h-4.6ZM452.24 231.93l2.3 4h-4.6ZM452.24 237.55l2.3 4h-4.6ZM452.24 271.27l2.3 4h-4.6ZM452.24 276.89l2.3 4h-4.6ZM452.24 282.51l2.3 4h-4.6ZM452.24 288.13l2.3 4h-4.6ZM452.24 293.75l2.3 4h-4.6ZM452.24 299.37l2.3 4h-4.6ZM452.24 304.99l2.3 4h-4.6ZM452.24 310.61l2.3 4h-4.6ZM452.24 321.85l2.3 4h-4.6ZM457.89 170.11l2.3 4h-4.6ZM457.89 209.45l2.3 4h-4.6ZM457.89 231.93l2.3 4h-4.6ZM457.89 237.55l2.3 4h-4.6ZM457.89 254.41l2.3 4h-4.6ZM457.89 260.03l2.3 4h-4.6ZM457.89 265.65l2.3 4h-4.6ZM457.89 288.13l2.3 4h-4.6ZM457.89 293.75l2.3 4h-4.6ZM457.89 299.37l2.3 4h-4.6ZM457.89 310.61l2.3 4h-4.6ZM463.54 170.11l2.3 4h-4.6ZM463.54 203.83l2.3 4h-4.6ZM463.54 226.31l2.3 4h-4.6ZM463.54 237.55l2.3 4h-4.6ZM463.54 265.65l2.3 4h-4.6ZM463.54 288.13l2.3 4h-4.6ZM463.54 293.75l2.3 4h-4.6ZM469.19 164.49l2.3 4h-4.6ZM469.19 181.35l2.3 4h-4.6ZM469.19 198.21l2.3 4h-4.6ZM469.19 220.69l2.3 4h-4.6ZM469.19 237.55l2.3 4h-4.6ZM469.19 271.27l2.3 4h-4.6ZM469.19 276.89l2.3 4h-4.6ZM469.19 282.51l2.3 4h-4.6ZM469.19 288.13l2.3 4h-4.6ZM474.85 130.77l2.3 4h-4.6ZM474.85 186.97l2.3 4h-4.6ZM474.85 192.59l2.3 4h-4.6ZM474.85 209.45l2.3 4h-4.6ZM474.85 220.69l2.3 4h-4.6ZM474.85 226.31l2.3 4h-4.6ZM474.85 231.93l2.3 4h-4.6ZM474.85 271.27l2.3 4h-4.6ZM474.85 282.51l2.3 4h-4.6ZM474.85 288.13l2.3 4h-4.6ZM474.85 293.75l2.3 4h-4.6ZM480.5 203.83l2.3 4h-4.6ZM480.5 209.45l2.3 4h-4.6ZM480.5 215.07l2.3 4h-4.6ZM480.5 220.69l2.3 4h-4.6ZM480.5 226.31l2.3 4h-4.6ZM480.5 231.93l2.3 4h-4.6ZM480.5 248.79l2.3 4h-4.6ZM486.15 192.59l2.3 4h-4.6ZM486.15 203.83l2.3 4h-4.6ZM486.15 209.45l2.3 4h-4.6ZM486.15 215.07l2.3 4h-4.6ZM486.15 220.69l2.3 4h-4.6ZM486.15 226.31l2.3 4h-4.6ZM486.15 276.89l2.3 4h-4.6ZM491.8 164.49l2.3 4h-4.6ZM491.8 198.21l2.3 4h-4.6ZM491.8 203.83l2.3 4h-4.6ZM491.8 220.69l2.3 4h-4.6ZM491.8 237.55l2.3 4h-4.6ZM491.8 276.89l2.3 4h-4.6ZM497.46 186.97l2.3 4h-4.6ZM497.46 198.21l2.3 4h-4.6ZM497.46 209.45l2.3 4h-4.6ZM497.46 215.07l2.3 4h-4.6ZM497.46 220.69l2.3 4h-4.6ZM497.46 237.55l2.3 4h-4.6ZM497.46 254.41l2.3 4h-4.6ZM497.46 260.03l2.3 4h-4.6ZM503.11 142.01l2.3 4h-4.6ZM503.11 170.11l2.3 4h-4.6ZM503.11 175.73l2.3 4h-4.6ZM503.11 203.83l2.3 4h-4.6ZM503.11 209.45l2.3 4h-4.6ZM503.11 260.03l2.3 4h-4.6ZM508.76 85.81l2.3 4h-4.6ZM508.76 260.03l2.3 4h-4.6ZM514.41 85.81l2.3 4h-4.6Z"/>
<path fill="#ff3300" d="M316.58 192.59l2.3 4h-4.6ZM322.23 192.59l2.3 4h-4.6ZM339.19 198.21l2.3 4h-4.6ZM344.84 304.99l2.3 4h-4.6ZM350.49 226.31l2.3 4h-4.6ZM350.49 304.99l2.3 4h-4.6ZM356.14 304.99l2.3 4h-4.6ZM361.8 304.99l2.3 4h-4.6ZM367.45 299.37l2.3 4h-4.6ZM367.45 304.99l2.3 4h-4.6ZM373.1 226.31l2.3 4h-4.6ZM373.1 237.55l2.3 4h-4.6ZM373.1 282.51l2.3 4h-4.6ZM373.1 288.13l2.3 4h-4.6ZM373.1 304.99l2.3 4h-4.6ZM378.75 226.31l2.3 4h-4.6ZM378.75 271.27l2.3 4h-4.6ZM378.75 276.89l2.3 4h-4.6ZM378.75 299.37l2.3 4h-4.6ZM384.41 276.89l2.3 4h-4.6ZM384.41 304.99l2.3 4h-4.6ZM390.06 243.17l2.3 4h-4.6ZM390.06 254.41l2.3 4h-4.6ZM390.06 265.65l2.3 4h-4.6ZM390.06 276.89l2.3 4h-4.6ZM395.71 226.31l2.3 4h-4.6ZM395.71 243.17l2.3 4h-4.6ZM395.71 271.27l2.3 4h-4.6ZM395.71 293.75l2.3 4h-4.6ZM395.71 304.99l2.3 4h-4.6ZM401.36 215.07l2.3 4h-4.6ZM401.36 220.69l2.3 4h-4.6ZM401.36 226.31l2.3 4h-4.6ZM401.36 231.93l2.3 4h-4.6ZM401.36 237.55l2.3 4h-4.6ZM401.36 243.17l2.3 4h-4.6ZM401.36 254.41l2.3 4h-4.6ZM407.02 203.83l2.3 4h-4.6ZM407.02 215.07l2.3 4h-4.6ZM407.02 226.31l2.3 4h-4.6ZM407.02 231.93l2.3 4h-4.6ZM407.02 237.55l2.3 4h-4.6ZM407.02 243.17l2.3 4h-4.6ZM407.02 254.41l2.3 4h-4.6ZM407.02 260.03l2.3 4h-4.6ZM412.67 175.73l2.3 4h-4.6ZM412.67 198.21l2.3 4h-4.6ZM412.67 203.83l2.3 4h-4.6ZM412.67 209.45l2.3 4h-4.6ZM412.67 226.31l2.3 4h-4.6ZM412.67 237.55l2.3 4h-4.6ZM412.67 243.17l2.3 4h-4.6ZM412.67 248.79l2.3 4h-4.6ZM412.67 254.41l2.3 4h-4.6ZM412.67 260.03l2.3 4h-4.6ZM412.67 265.65l2.3 4h-4.6ZM418.32 170.11l2.3 4h-4.6ZM418.32 175.73l2.3 4h-4.6ZM418.32 181.35l2.3 4h-4.6ZM418.32 192.59l2.3 4h-4.6ZM418.32 198.21l2.3 4h-4.6ZM418.32 209.45l2.3 4h-4.6ZM418.32 215.07l2.3 4h-4.6ZM418.32 220.69l2.3 4h-4.6ZM418.32 226.31l2.3 4h-4.6ZM418.32 231.93l2.3 4h-4.6ZM418.32 237.55l2.3 4h-4.6ZM418.32 243.17l2.3 4h-4.6ZM418.32 248.79l2.3 4h-4.6ZM418.32 265.65l2.3 4h-4.6ZM418.32 271.27l2.3 4h-4.6ZM418.32 276.89l2.3 4h-4.6ZM423.97 158.87l2.3 4h-4.6ZM423.97 164.49l2.3 4h-4.6ZM423.97 170.11l2.3 4h-4.6ZM423.97 175.73l2.3 4h-4.6ZM423.97 181.35l2.3 4h-4.6ZM423.97 192.59l2.3 4h-4.6ZM423.97 198.21l2.3 4h-4.6ZM423.97 220.69l2.3 4h-4.6ZM423.97 231.93l2.3 4h-4.6ZM423.97 237.55l2.3 4h-4.6ZM423.97 254.41l2.3 4h-4.6ZM423.97 260.03l2.3 4h-4.6ZM423.97 265.65l2.3 4h-4.6ZM423.97 271.27l2.3 4h-4.6ZM429.63 153.25l2.3 4h-4.6ZM429.63 158.87l2.3 4h-4.6ZM429.63 164.49l2.3 4h-4.6ZM429.63 170.11l2.3 4h-4.6ZM429.63 175.73l2.3 4h-4.6ZM429.63 181.35l2.3 4h-4.6ZM429.63 198.21l2.3 4h-4.6ZM429.63 203.83l2.3 4h-4.6ZM429.63 209.45l2.3 4h-4.6ZM429.63 248.79l2.3 4h-4.6ZM429.63 254.41l2.3 4h-4.6ZM429.63 260.03l2.3 4h-4.6ZM429.63 265.65l2.3 4h-4.6ZM429.63 271.27l2.3 4h-4.6ZM429.63 276.89l2.3 4h-4.6ZM429.63 282.51l2.3 4h-4.6ZM435.28 147.63l2.3 4h-4.6ZM435.28 153.25l2.3 4h-4.6ZM435.28 175.73l2.3 4h-4.6ZM435.28 192.59l2.3 4h-4.6ZM435.28 209.45l2.3 4h-4.6ZM435.28 237.55l2.3 4h-4.6ZM435.28 254.41l2.3 4h-4.6ZM435.28 260.03l2.3 4h-4.6ZM435.28 271.27l2.3 4h-4.6ZM435.28 316.23l2.3 4h-4.6ZM440.93 158.87l2.3 4h-4.6ZM440.93 164.49l2.3 4h-4.6ZM440.93 170.11l2.3 4h-4.6ZM440.93 192.59l2.3 4h-4.6ZM440.93 198.21l2.3 4h-4.6ZM440.93 203.83l2.3 4h-4.6ZM440.93 237.55l2.3 4h-4.6ZM440.93 248.79l2.3 4h-4.6ZM440.93 254.41l2.3 4h-4.6ZM440.93 260.03l2.3 4h-4.6ZM446.58 147.63l2.3 4h-4.6ZM446.58 153.25l2.3 4h-4.6ZM446.58 175.73l2.3 4h-4.6ZM446.58 186.97l2.3 4h-4.6ZM446.58 203.83l2.3 4h-4.6ZM446.58 215.07l2.3 4h-4.6ZM446.58 220.69l2.3 4h-4.6ZM446.58 226.31l2.3 4h-4.6ZM446.58 248.79l2.3 4h-4.6ZM446.58 260.03l2.3 4h-4.6ZM446.58 265.65l2.3 4h-4.6ZM446.58 271.27l2.3 4h-4.6ZM446.58 276.89l2.3 4h-4.6ZM452.24 113.91l2.3 4h-4.6ZM452.24 119.53l2.3 4h-4.6ZM452.24 125.15l2.3 4h-4.6ZM452.24 130.77l2.3 4h-4.6ZM452.24 142.01l2.3 4h-4.6ZM452.24 147.63l2.3 4h-4.6ZM452.24 153.25l2.3 4h-4.6ZM452.24 158.87l2.3 4h-4.6ZM452.24 164.49l2.3 4h-4.6ZM452.24 186.97l2.3 4h-4.6ZM452.24 192.59l2.3 4h-4.6ZM452.24 198.21l2.3 4h-4.6ZM452.24 226.31l2.3 4h-4.6ZM452.24 254.41l2.3 4h-4.6ZM452.24 260.03l2.3 4h-4.6ZM452.24 265.65l2.3 4h-4.6ZM457.89 119.53l2.3 4h-4.6ZM457.89 125.15l2.3 4h-4.6ZM457.89 136.39l2.3 4h-4.6ZM457.89 142.01l2.3 4h-4.6ZM457.89 147.63l2.3 4h-4.6ZM457.89 153.25l2.3 4h-4.6ZM457.89 158.87l2.3 4h-4.6ZM457.89 186.97l2.3 4h-4.6ZM457.89 192.59l2.3 4h-4.6ZM457.89 198.21l2.3 4h-4.6ZM457.89 203.83l2.3 4h-4.6ZM457.89 220.69l2.3 4h-4.6ZM457.89 226.31l2.3 4h-4.6ZM463.54 119.53l2.3 4h-4.6ZM463.54 125.15l2.3 4h-4.6ZM463.54 142.01l2.3 4h-4.6ZM463.54 147.63l2.3 4h-4.6ZM463.54 181.35l2.3 4h-4.6ZM463.54 186.97l2.3 4h-4.6ZM463.54 192.59l2.3 4h-4.6ZM463.54 198.21l2.3 4h-4.6ZM463.54 220.69l2.3 4h-4.6ZM463.54 243.17l2.3 4h-4.6ZM463.54 248.79l2.3 4h-4.6ZM463.54 254.41l2.3 4h-4.6ZM463.54 260.03l2.3 4h-4.6ZM469.19 113.91l2.3 4h-4.6ZM469.19 119.53l2.3 4h-4.6ZM469.19 125.15l2.3 4h-4.6ZM469.19 142.01l2.3 4h-4.6ZM469.19 147.63l2.3 4h-4.6ZM469.19 153.25l2.3 4h-4.6ZM469.19 203.83l2.3 4h-4.6ZM469.19 243.17l2.3 4h-4.6ZM469.19 248.79l2.3 4h-4.6ZM469.19 260.03l2.3 4h-4.6ZM469.19 265.65l2.3 4h-4.6ZM474.85 108.29l2.3 4h-4.6ZM474.85 113.91l2.3 4h-4.6ZM474.85 119.53l2.3 4h-4.6ZM474.85 125.15l2.3 4h-4.6ZM474.85 136.39l2.3 4h-4.6ZM474.85 142.01l2.3 4h-4.6ZM474.85 147.63l2.3 4h-4.6ZM474.85 153.25l2.3 4h-4.6ZM474.85 158.87l2.3 4h-4.6ZM474.85 170.11l2.3 4h-4.6ZM474.85 181.35l2.3 4h-4.6ZM474.85 198.21l2.3 4h-4.6ZM474.85 237.55l2.3 4h-4.6ZM474.85 260.03l2.3 4h-4.6ZM480.5 113.91l2.3 4h-4.6ZM480.5 119.53l2.3 4h-4.6ZM480.5 125.15l2.3 4h-4.6ZM480.5 130.77l2.3 4h-4.6ZM480.5 136.39l2.3 4h-4.6ZM480.5 142.01l2.3 4h-4.6ZM480.5 147.63l2.3 4h-4.6ZM480.5 153.25l2.3 4h-4.6ZM480.5 158.87l2.3 4h-4.6ZM480.5 175.73l2.3 4h-4.6ZM480.5 237.55l2.3 4h-4.6ZM480.5 265.65l2.3 4h-4.6ZM480.5 276.89l2.3 4h-4.6ZM486.15 113.91l2.3 4h-4.6ZM486.15 119.53l2.3 4h-4.6ZM486.15 125.15l2.3 4h-4.6ZM486.15 130.77l2.3 4h-4.6ZM486.15 136.39l2.3 4h-4.6ZM486.15 142.01l2.3 4h-4.6ZM486.15 147.63l2.3 4h-4.6ZM486.15 153.25l2.3 4h-4.6ZM486.15 164.49l2.3 4h-4.6ZM486.15 170.11l2.3 4h-4.6ZM486.15 231.93l2.3 4h-4.6ZM486.15 243.17l2.3 4h-4.6ZM486.15 260.03l2.3 4h-4.6ZM486.15 265.65l2.3 4h-4.6ZM491.8 91.43l2.3 4h-4.6ZM491.8 113.91l2.3 4h-4.6ZM491.8 119.53l2.3 4h-4.6ZM491.8 125.15l2.3 4h-4.6ZM491.8 130.77l2.3 4h-4.6ZM491.8 136.39l2.3 4h-4.6ZM491.8 142.01l2.3 4h-4.6ZM491.8 147.63l2.3 4h-4.6ZM491.8 153.25l2.3 4h-4.6ZM491.8 158.87l2.3 4h-4.6ZM491.8 181.35l2.3 4h-4.6ZM491.8 186.97l2.3 4h-4.6ZM491.8 231.93l2.3 4h-4.6ZM491.8 260.03l2.3 4h-4.6ZM491.8 271.27l2.3 4h-4.6ZM497.46 91.43l2.3 4h-4.6ZM497.46 97.05l2.3 4h-4.6ZM497.46 102.67l2.3 4h-4.6ZM497.46 108.29l2.3 4h-4.6ZM497.46 113.91l2.3 4h-4.6ZM497.46 119.53l2.3 4h-4.6ZM497.46 125.15l2.3 4h-4.6ZM497.46 130.77l2.3 4h-4.6ZM497.46 136.39l2.3 4h-4.6ZM497.46 142.01l2.3 4h-4.6ZM497.46 147.63l2.3 4h-4.6ZM497.46 153.25l2.3 4h-4.6ZM497.46 170.11l2.3 4h-4.6ZM497.46 175.73l2.3 4h-4.6ZM497.46 192.59l2.3 4h-4.6ZM497.46 271.27l2.3 4h-4.6ZM497.46 276.89l2.3 4h-4.6ZM503.11 91.43l2.3 4h-4.6ZM503.11 97.05l2.3 4h-4.6ZM503.11 102.67l2.3 4h-4.6ZM503.11 108.29l2.3 4h-4.6ZM503.11 113.91l2.3 4h-4.6ZM503.11 119.53l2.3 4h-4.6ZM503.11 125.15l2.3 4h-4.6ZM503.11 147.63l2.3 4h-4.6ZM503.11 153.25l2.3 4h-4.6ZM503.11 158.87l2.3 4h-4.6ZM503.11 181.35l2.3 4h-4.6ZM503.11 186.97l2.3 4h-4.6ZM503.11 192.59l2.3 4h-4.6ZM503.11 265.65l2.3 4h-4.6ZM508.76 91.43l2.3 4h-4.6ZM508.76 97.05l2.3 4h-4.6ZM508.76 108.29l2.3 4h-4.6ZM508.76 125.15l2.3 4h-4.6ZM508.76 248.79l2.3 4h-4.6ZM514.41 91.43l2.3 4h-4.6ZM514.41 231.93l2.3 4h-4.6Z"/>
<path fill="#00ffff" d="M322.23 181.35l2.3 4h-4.6ZM327.88 198.21l2.3 4h-4.6ZM327.88 209.45l2.3 4h-4.6ZM327.88 226.31l2.3 4h-4.6ZM339.19 304.99l2.3 4h-4.6ZM344.84 237.55l2.3 4h-4.6ZM344.84 299.37l2.3 4h-4.6ZM350.49 203.83l2.3 4h-4.6ZM350.49 237.55l2.3 4h-4.6ZM356.14 220.69l2.3 4h-4.6ZM356.14 226.31l2.3 4h-4.6ZM356.14 231.93l2.3 4h-4.6ZM356.14 237.55l2.3 4h-4.6ZM356.14 288.13l2.3 4h-4.6ZM356.14 293.75l2.3 4h-4.6ZM356.14 299.37l2.3 4h-4.6ZM361.8 203.83l2.3 4h-4.6ZM361.8 220.69l2.3 4h-4.6ZM361.8 231.93l2.3 4h-4.6ZM367.45 203.83l2.3 4h-4.6ZM367.45 209.45l2.3 4h-4.6ZM367.45 220.69l2.3 4h-4.6ZM367.45 254.41l2.3 4h-4.6ZM367.45 260.03l2.3 4h-4.6ZM367.45 271.27l2.3 4h-4.6ZM367.45 276.89l2.3 4h-4.6ZM373.1 220.69l2.3 4h-4.6ZM373.1 276.89l2.3 4h-4.6ZM373.1 293.75l2.3 4h-4.6ZM378.75 215.07l2.3 4h-4.6ZM378.75 220.69l2.3 4h-4.6ZM378.75 260.03l2.3 4h-4.6ZM384.41 271.27l2.3 4h-4.6ZM384.41 293.75l2.3 4h-4.6ZM390.06 209.45l2.3 4h-4.6ZM390.06 237.55l2.3 4h-4.6ZM395.71 231.93l2.3 4h-4.6ZM395.71 237.55l2.3 4h-4.6ZM395.71 248.79l2.3 4h-4.6ZM395.71 265.65l2.3 4h-4.6ZM401.36 248.79l2.3 4h-4.6ZM401.36 282.51l2.3 4h-4.6ZM407.02 181.35l2.3 4h-4.6ZM407.02 248.79l2.3 4h-4.6ZM412.67 181.35l2.3 4h-4.6ZM412.67 186.97l2.3 4h-4.6ZM412.67 192.59l2.3 4h-4.6ZM412.67 220.69l2.3 4h-4.6ZM423.97 186.97l2.3 4h-4.6ZM423.97 209.45l2.3 4h-4.6ZM423.97 215.07l2.3 4h-4.6ZM423.97 226.31l2.3 4h-4.6ZM423.97 243.17l2.3 4h-4.6ZM423.97 248.79l2.3 4h-4.6ZM429.63 192.59l2.3 4h-4.6ZM429.63 215.07l2.3 4h-4.6ZM429.63 220.69l2.3 4h-4.6ZM429.63 226.31l2.3 4h-4.6ZM429.63 243.17l2.3 4h-4.6ZM435.28 164.49l2.3 4h-4.6ZM435.28 170.11l2.3 4h-4.6ZM435.28 186.97l2.3 4h-4.6ZM435.28 215.07l2.3 4h-4.6ZM435.28 220.69l2.3 4h-4.6ZM435.28 226.31l2.3 4h-4.6ZM435.28 231.93l2.3 4h-4.6ZM435.28 243.17l2.3 4h-4.6ZM435.28 293.75l2.3 4h-4.6ZM440.93 147.63l2.3 4h-4.6ZM440.93 175.73l2.3 4h-4.6ZM440.93 181.35l2.3 4h-4.6ZM440.93 186.97l2.3 4h-4.6ZM440.93 220.69l2.3 4h-4.6ZM440.93 231.93l2.3 4h-4.6ZM440.93 271.27l2.3 4h-4.6ZM440.93 276.89l2.3 4h-4.6ZM440.93 293.75l2.3 4h-4.6ZM440.93 299.37l2.3 4h-4.6ZM446.58 158.87l2.3 4h-4.6ZM446.58 164.49l2.3 4h-4.6ZM446.58 192.59l2.3 4h-4.6ZM446.58 209.45l2.3 4h-4.6ZM446.58 254.41l2.3 4h-4.6ZM446.58 321.85l2.3 4h-4.6ZM452.24 170.11l2.3 4h-4.6ZM452.24 181.35l2.3 4h-4.6ZM452.24 203.83l2.3 4h-4.6ZM452.24 209.45l2.3 4h-4.6ZM452.24 215.07l2.3 4h-4.6ZM452.24 243.17l2.3 4h-4.6ZM452.24 248.79l2.3 4h-4.6ZM457.89 175.73l2.3 4h-4.6ZM457.89 181.35l2.3 4h-4.6ZM457.89 215.07l2.3 4h-4.6ZM457.89 243.17l2.3 4h-4.6ZM457.89 248.79l2.3 4h-4.6ZM457.89 276.89l2.3 4h-4.6ZM457.89 282.51l2.3 4h-4.6ZM463.54 130.77l2.3 4h-4.6ZM463.54 136.39l2.3 4h-4.6ZM463.54 153.25l2.3 4h-4.6ZM463.54 158.87l2.3 4h-4.6ZM463.54 175.73l2.3 4h-4.6ZM463.54 209.45l2.3 4h-4.6ZM463.54 215.07l2.3 4h-4.6ZM463.54 231.93l2.3 4h-4.6ZM463.54 276.89l2.3 4h-4.6ZM463.54 299.37l2.3 4h-4.6ZM463.54 304.99l2.3 4h-4.6ZM463.54 310.61l2.3 4h-4.6ZM469.19 130.77l2.3 4h-4.6ZM469.19 136.39l2.3 4h-4.6ZM469.19 170.11l2.3 4h-4.6ZM469.19 175.73l2.3 4h-4.6ZM469.19 186.97l2.3 4h-4.6ZM469.19 192.59l2.3 4h-4.6ZM469.19 209.45l2.3 4h-4.6ZM469.19 226.31l2.3 4h-4.6ZM469.19 231.93l2.3 4h-4.6ZM469.19 254.41l2.3 4h-4.6ZM474.85 175.73l2.3 4h-4.6ZM474.85 203.83l2.3 4h-4.6ZM474.85 243.17l2.3 4h-4.6ZM474.85 248.79l2.3 4h-4.6ZM474.85 254.41l2.3 4h-4.6ZM474.85 265.65l2.3 4h-4.6ZM480.5 181.35l2.3 4h-4.6ZM480.5 186.97l2.3 4h-4.6ZM480.5 192.59l2.3 4h-4.6ZM480.5 198.21l2.3 4h-4.6ZM480.5 243.17l2.3 4h-4.6ZM480.5 254.41l2.3 4h-4.6ZM480.5 260.03l2.3 4h-4.6ZM480.5 271.27l2.3 4h-4.6ZM486.15 108.29l2.3 4h-4.6ZM486.15 158.87l2.3 4h-4.6ZM486.15 181.35l2.3 4h-4.6ZM486.15 186.97l2.3 4h-4.6ZM486.15 198.21l2.3 4h-4.6ZM486.15 248.79l2.3 4h-4.6ZM486.15 254.41l2.3 4h-4.6ZM486.15 271.27l2.3 4h-4.6ZM491.8 97.05l2.3 4h-4.6ZM491.8 192.59l2.3 4h-4.6ZM491.8 209.45l2.3 4h-4.6ZM491.8 215.07l2.3 4h-4.6ZM491.8 226.31l2.3 4h-4.6ZM491.8 243.17l2.3 4h-4.6ZM491.8 248.79l2.3 4h-4.6ZM491.8 254.41l2.3 4h-4.6ZM491.8 265.65l2.3 4h-4.6ZM497.46 158.87l2.3 4h-4.6ZM497.46 203.83l2.3 4h-4.6ZM497.46 226.31l2.3 4h-4.6ZM497.46 231.93l2.3 4h-4.6ZM497.46 243.17l2.3 4h-4.6ZM497.46 248.79l2.3 4h-4.6ZM497.46 265.65l2.3 4h-4.6ZM503.11 198.21l2.3 4h-4.6ZM503.11 215.07l2.3 4h-4.6ZM503.11 220.69l2.3 4h-4.6ZM503.11 226.31l2.3 4h-4.6ZM503.11 231.93l2.3 4h-4.6ZM503.11 237.55l2.3 4h-4.6ZM503.11 243.17l2.3 4h-4.6ZM503.11 248.79l2.3 4h-4.6ZM503.11 271.27l2.3 4h-4.6ZM508.76 175.73l2.3 4h-4.6ZM508.76 220.69l2.3 4h-4.6ZM508.76 226.31l2.3 4h-4.6ZM508.76 231.93l2.3 4h-4.6ZM508.76 237.55l2.3 4h-4.6ZM514.41 226.31l2.3 4h-4.6ZM514.41 237.55l2.3 4h-4.6ZM514.41 243.17l2.3 4h-4.6ZM514.41 248.79l2.3 4h-4.6ZM514.41 254.41l2.3 4h-4.6ZM520.07 85.81l2.3 4h-4.6ZM525.72 85.81l2.3 4h-4.6Z"/>
<path fill="#ffa500" d="M322.23 198.21l2.3 4h-4.6ZM350.49 231.93l2.3 4h-4.6ZM356.14 203.83l2.3 4h-4.6ZM361.8 299.37l2.3 4h-4.6ZM361.8 310.61l2.3 4h-4.6ZM367.45 215.07l2.3 4h-4.6ZM373.1 215.07l2.3 4h-4.6ZM384.41 203.83l2.3 4h-4.6ZM390.06 271.27l2.3 4h-4.6ZM390.06 304.99l2.3 4h-4.6ZM407.02 220.69l2.3 4h-4.6ZM412.67 215.07l2.3 4h-4.6ZM412.67 231.93l2.3 4h-4.6ZM412.67 271.27l2.3 4h-4.6ZM418.32 186.97l2.3 4h-4.6ZM418.32 203.83l2.3 4h-4.6ZM418.32 260.03l2.3 4h-4.6ZM423.97 282.51l2.3 4h-4.6ZM423.97 288.13l2.3 4h-4.6ZM429.63 186.97l2.3 4h-4.6ZM429.63 237.55l2.3 4h-4.6ZM429.63 321.85l2.3 4h-4.6ZM435.28 158.87l2.3 4h-4.6ZM435.28 181.35l2.3 4h-4.6ZM440.93 153.25l2.3 4h-4.6ZM440.93 265.65l2.3 4h-4.6ZM446.58 119.53l2.3 4h-4.6ZM446.58 181.35l2.3 4h-4.6ZM446.58 198.21l2.3 4h-4.6ZM452.24 136.39l2.3 4h-4.6ZM457.89 130.77l2.3 4h-4.6ZM457.89 164.49l2.3 4h-4.6ZM457.89 271.27l2.3 4h-4.6ZM457.89 304.99l2.3 4h-4.6ZM463.54 164.49l2.3 4h-4.6ZM463.54 271.27l2.3 4h-4.6ZM463.54 282.51l2.3 4h-4.6ZM469.19 215.07l2.3 4h-4.6ZM474.85 164.49l2.3 4h-4.6ZM474.85 215.07l2.3 4h-4.6ZM474.85 276.89l2.3 4h-4.6ZM480.5 164.49l2.3 4h-4.6ZM480.5 170.11l2.3 4h-4.6ZM486.15 237.55l2.3 4h-4.6ZM491.8 108.29l2.3 4h-4.6ZM503.11 130.77l2.3 4h-4.6ZM503.11 254.41l2.3 4h-4.6ZM508.76 113.91l2.3 4h-4.6ZM508.76 243.17l2.3 4h-4.6ZM508.76 254.41l2.3 4h-4.6ZM520.07 231.93l2.3 4h-4.6Z"/><path fill="none" stroke="#000" stroke-width="1.45" stroke-linejoin="round" stroke-linecap="round" d="M117.1 0L117.1 8.8L120.1 13.8L117.6 20.1L113.8 23.9L107.6 27.1L103.8 30.1L103.3 36.4L98.8 39.7L87.5 47.2L87 55.6L83.2 60L83.9 62.6L77.6 67.6L76.9 82.6L85.1 87.7L90.1 80.1L89.5 85.8L85.7 90.2L90.1 87.7L90.8 90.2L83.9 96.5L72.6 105.2L76.9 120.3L74.4 125.3L80.7 130L88.9 132.7L100.2 152.7L110.2 175.3L113.9 183.2L120.3 192.9L130.4 208L127.9 213.7L133.7 222.8L143.6 231.9L165 241.6L182.6 252.9L190 257.6L196.3 263.9L197.6 280.2L200.1 297.8L193.8 320.4L196.3 322.9L195.6 338M98.8 39.7L101.8 40.2L111.3 50.2L118.9 52.2L128.9 52.2L137.8 58.2M137.8 58.2L141.6 67.6L135.3 75.1L124 86.4L105.8 95.2L101.4 109L97.7 112.8L91.4 107.1L82.6 107.1L82.6 102.1L85.1 100.2L83.9 96.5M137.8 58.2L146.5 59.8L152.7 69.0L160.3 72.8L167.8 84.9L181.6 81.6L199.2 86.6L200.4 95.4L196.7 100.4L200.4 103.4M229 33.9L202.6 38.2L202.6 43.9L208.1 45.2L208.9 49L200.6 50.2L200.1 56.5L205.1 62.8L206.4 72.8L203.9 87.9L201.3 99.2L200.1 103.4M225.2 0L225.7 5L230.2 17.6L226.4 25.1L234 31.4L229 33.9M234 31.4L236.5 42.7L241.5 46.4L251.6 47.7L260.3 40.2L267.9 32.6L275.4 31.4L274.1 28.9L266.6 26.4L265.4 17.6L259.1 8.8L267.9 12.6L282.9 11.3L293 8.8L305.5 3L306.8 0M311.8 0L313.1 5L316.8 10L315.6 25.1L319.3 33.9L326.9 42.7L338.2 40.2L352.6 32.1M335.7 0L336.9 11.3L343.2 18.8L352 25.1L352.6 32.1M352.6 32.1L361.3 30.1L375.1 30.1M376.4 0L380.9 17.6L375.1 30.1M375.1 30.1L394 32.1L405.3 12.1L407.8 8.8M401.5 0L403 4L402.5 6L405.8 7.5L410.3 8.8L414.1 13.8L416.6 23.9L420.3 30.1L426.6 37.7L427 40L425.1 45L421.3 50L423.9 52.6L430.1 54.4L432 56.9M421.3 50L418.7 57L413.8 62L408.8 67L407.5 70.5L403 72.5L396 74M403.4 72.3L409.2 66.5L414.3 62.8L412.8 68L407 71.6L403.4 72.3M418.8 60.1L431.4 58.8L445.2 59.8L442.7 68.9L438.9 71.4L436.4 75.2L425.1 76.4L418.8 76.4L417.6 70.1L418.8 60.1M411.3 75.8L416.3 76.4L418.8 81.4L416.3 83.9L411.9 77.7L411.3 75.8M436.4 75.8L433.3 85.2L438.9 76.4L442.7 72.6L445.8 73.3M443.3 70.1L446.5 65.1L452.7 63.2L459 64.5L462 65L463 66.5L465.3 66L467 68L469 67.5L470.3 69.5L472 69L473.5 71L475.3 70.3L477 72.3L479 71.5L480.4 73.9L483 73L485.1 74.6L488.8 80.2L493.9 83.9L491.3 87.7L485.1 94L500.1 82.7L511.4 86.4L525.2 90.7L539 89L552.9 100.3L570.4 112.3L591.8 115.3L595.5 135.4L598 141.7L593.1 157.6L585.6 167.6L575.5 176.4L568 185.2L560.5 199L554.2 202.3L551.7 209L551.7 225.4L552.9 237.9L550.4 248L549.4 254L548.6 257.3L543.7 263.9L542 278.8L532.9 289.5L528.8 296.1L528.8 305.2L520.6 309.3L517.3 315.4L504.1 315.9L492.5 316.7L487.6 317.5L486.7 320L480.1 325.8L467.8 326.6L459.5 332.4L452.1 336.5M200.1 103.8L190.6 105L168.4 114.7L165.9 128.7L156 139.5L155.4 141.4L163.4 151L165 162.6L175 169.2L178 169.1L186.8 169.1L195.6 164L193.1 175.3L194.3 180.4L206.5 181.3M206.5 181.3L216.5 182.1L236.6 171.3L252.5 167L252.5 183.2L256.6 189.8L261.6 195.6L266.5 198L274.8 199.4L279.7 202.2L289.6 208.8L294.6 209.9L302.8 209.6L307.8 212.1L311.1 219.5L310.2 226.9L307.8 227.8L309.4 232.7L311.1 240.1L330.6 240.5L333.2 253.9L341.2 257.5L339.4 267.7L335.7 279L337.7 281.5M206.5 181.3L215.3 197.7L211.5 205.2L212.8 216.5L207.7 225.3L210.3 230.3L207.7 234.1L212.8 240.3L206.5 247.9L205.5 255.2M205.5 255.2L201.5 262.9L196.4 263.7M205.5 255.2L211.4 261.4L213.9 271.4L217.7 277.7L215.1 286.5L220.7 296.7L224.8 314.1L233 314.1M233 314.1L234.2 317.3L230 327.6L217.4 336.6M233 314.1L243.1 302.8L248.1 305.9L260 306.7L264.5 314.2L267.8 305.4L280.7 304.8L283 306M283 306L285.5 305.3L293.5 279L309.4 276.3L324 275.4L330 278.8L337.7 281.5M283 306L288 310.3L302.3 325.2L310.6 325.4L320.6 331.7L330.4 336.6M337.7 281.5L338.3 295.3L336.6 305.2L360.5 307.6L365.5 326.6L377 326.6L377.9 336.5"/>
<path fill="none" stroke="#000" stroke-width="2.8" stroke-linecap="round" stroke-linejoin="round" d="M419 56.5L414.5 62.5L410 68.5M417 57.5L411.5 66.5M414.5 61L408.5 70.5M412 76.5L417.5 77.5L416 83.5"/>
<circle cx="117.1" cy="9" r="1.6"/><circle cx="554" cy="203" r="1.3"/><circle cx="487" cy="318.5" r="1.3"/><circle cx="480" cy="326" r="1.2"/><circle cx="112" cy="24.5" r="1"/></g>
<rect x="38.2" y="262.3" width="112.4" height="74.1" fill="#f9f9f9" stroke="#c4c4c4" stroke-width="0.9"/>
<path d="M35 57.3h3.2M35 113.5h3.2M35 169.7h3.2M35 225.9h3.2M35 282.1h3.2M87.4 336.6v3.1M200.5 336.6v3.1M313.5 336.6v3.1M426.6 336.6v3.1M539.6 336.6v3.1" stroke="#333" stroke-width="1" fill="none"/>
<g font-size="9.8" fill="#4d4d4d">
<text x="32.6" y="60.8" text-anchor="end">0</text>
<text x="32.6" y="117.0" text-anchor="end">−5</text>
<text x="32.6" y="173.2" text-anchor="end">−10</text>
<text x="32.6" y="229.4" text-anchor="end">−15</text>
<text x="32.6" y="285.6" text-anchor="end">−20</text>
<text x="87.4" y="350.2" text-anchor="middle">−80</text>
<text x="200.5" y="350.2" text-anchor="middle">−70</text>
<text x="313.5" y="350.2" text-anchor="middle">−60</text>
<text x="426.6" y="350.2" text-anchor="middle">−50</text>
<text x="539.6" y="350.2" text-anchor="middle">−40</text>
</g>
<text transform="translate(10 170) rotate(-90)" font-size="11.8" text-anchor="middle" fill="#000">lat</text>
<text x="11.3" y="20.7" font-size="16" font-weight="bold" textLength="19.6" lengthAdjust="spacingAndGlyphs">(a)</text>
<text x="11.4" y="431.8" font-size="16.6" font-weight="bold" textLength="20.5" lengthAdjust="spacingAndGlyphs">(b)</text>
<g font-weight="bold" fill="#000" font-size="10.3">
<text x="44.2" y="275.6"><tspan textLength="46.5" lengthAdjust="spacingAndGlyphs">Simulated</tspan><tspan x="93.5" font-family="'Liberation Serif', serif" font-style="italic" font-size="11" textLength="22" lengthAdjust="spacingAndGlyphs">ΔBA</tspan><tspan x="116" dy="2.4" font-family="'Liberation Serif', serif" font-style="italic" font-size="7.6" textLength="19.5" lengthAdjust="spacingAndGlyphs">Frag.</tspan><tspan x="136.6" dy="-2.4">:</tspan></text>
<text x="44.2" y="303.4"><tspan textLength="37.5" lengthAdjust="spacingAndGlyphs">+5.1x10</tspan><tspan dy="-3.2" font-size="6.2">5</tspan><tspan dy="3.2" x="87.3" textLength="24.3" lengthAdjust="spacingAndGlyphs">Ha yr</tspan><tspan dy="-3.2" font-size="6.2">-1</tspan></text>
<text x="44.2" y="317.2"><tspan textLength="35.5" lengthAdjust="spacingAndGlyphs">-7.1x10</tspan><tspan dy="-3.2" font-size="6.2">5</tspan><tspan dy="3.2" x="85.3" textLength="24.3" lengthAdjust="spacingAndGlyphs">Ha yr</tspan><tspan dy="-3.2" font-size="6.2">-1</tspan></text>
<text x="44.2" y="330.5"><tspan textLength="49.5" lengthAdjust="spacingAndGlyphs">Net: -2x10</tspan><tspan dy="-3.2" font-size="6.2">5</tspan><tspan dy="3.2" x="99.2" textLength="24.3" lengthAdjust="spacingAndGlyphs">Ha yr</tspan><tspan dy="-3.2" font-size="6.2">-1</tspan></text>
</g>
<rect x="218.5" y="356.8" width="197.4" height="24.2" fill="url(#rdbu)"/>
<path d="M268.5 356.8v2.6M268.5 381v-2.6M366.9 356.8v2.6M366.9 381v-2.6" stroke="#fff" stroke-width="0.5" opacity="0.8"/>
<text x="220.5" y="394" font-size="11" text-anchor="middle">−</text>
<text x="414.2" y="394" font-size="11" text-anchor="middle">+</text>
<text x="286" y="395.2" font-family="'Liberation Serif', serif" font-style="italic" font-size="13.6" stroke="#000" stroke-width="0.2"><tspan textLength="43" lengthAdjust="spacingAndGlyphs">f(ΔBA</tspan><tspan x="329.6" dy="2.6" font-size="9.4" textLength="22" lengthAdjust="spacingAndGlyphs">Frag.</tspan><tspan x="352" dy="-2.6" font-style="normal">)</tspan></text>
<g font-weight="bold" font-size="9.9" fill="#000">
<text x="610.9" y="144.4" textLength="71.6" lengthAdjust="spacingAndGlyphs">Obs.-derived BA,</text>
<text x="610.9" y="156.6" textLength="56.5" lengthAdjust="spacingAndGlyphs">Frag. trended</text>
<text x="610.9" y="169" textLength="61.5" lengthAdjust="spacingAndGlyphs">data (Rosan et</text>
<text x="610.9" y="181.2" textLength="39.5" lengthAdjust="spacingAndGlyphs">al., 2022)</text>
</g>
<circle cx="609.7" cy="208.4" r="2.7" fill="#000"/>
<text x="613.2" y="212" font-size="10" textLength="4.2" lengthAdjust="spacingAndGlyphs">/</text>
<path d="M617.3 211.6l2.9 -5.6l2.9 5.6z" fill="#000"/>
<g font-size="9.9" fill="#000">
<text x="633.1" y="205.4" textLength="37.8" lengthAdjust="spacingAndGlyphs">Amazon/</text>
<text x="633.1" y="217.6" textLength="33.2" lengthAdjust="spacingAndGlyphs">Cerrado</text>
<circle cx="616.5" cy="241.8" r="2.5" fill="#ff2200"/>
<text x="627.1" y="245" textLength="43.8" lengthAdjust="spacingAndGlyphs">+BA/+Frag</text>
<circle cx="616.5" cy="273.9" r="2.5" fill="#ffc400"/>
<text x="627.1" y="277.1" textLength="41.3" lengthAdjust="spacingAndGlyphs">+BA/-Frag</text>
<circle cx="616.5" cy="305.9" r="2.5" fill="#33ffff"/>
<text x="627.1" y="309.3" textLength="41.3" lengthAdjust="spacingAndGlyphs">-BA/+Frag</text>
<circle cx="616.5" cy="338.1" r="2.5" fill="#0022ff"/>
<text x="627.1" y="341.3" textLength="39.7" lengthAdjust="spacingAndGlyphs">-BA/-Frag</text>
</g>
<g transform="translate(16.4 657.8) rotate(-90)" fill="#000">
<text x="0" y="0" font-family="'Liberation Serif', serif" font-style="italic" font-size="12.6" stroke="#000" stroke-width="0.25"><tspan textLength="28.5" lengthAdjust="spacingAndGlyphs">f(ΔBA</tspan><tspan x="30.3" dy="2.6" font-size="8.6" textLength="20" lengthAdjust="spacingAndGlyphs">Frag.</tspan><tspan x="52" dy="-2.6" font-style="normal">)</tspan></text>
<text x="63.8" y="0" font-size="11.2" textLength="42.7" lengthAdjust="spacingAndGlyphs">(fraction)</text>
</g>
<text x="306.5" y="812.9" font-size="11.2"><tspan textLength="151.5" lengthAdjust="spacingAndGlyphs">Log (Population Density (ind km</tspan><tspan dy="-3.6" font-size="7">-2</tspan><tspan dy="3.6">))</tspan></text>
<rect x="115" y="832.5" width="517.6" height="21.9" fill="url(#spec)"/>
<text x="110.8" y="852.8" font-size="9.6" text-anchor="end">count</text>
<g font-size="7" fill="#222" text-anchor="middle">
<text x="115" y="863.8">1</text>
<text x="236.6" y="863.8">10</text>
<text x="367.2" y="863.8">20</text>
<text x="499.6" y="863.8">30</text>
<text x="632.2" y="863.8">40</text>
</g>
<rect x="56.6" y="432.4" width="190.9" height="157.1" fill="#f5f5f5"/>
<path d="M63.7 432.4V589.5M106.6 432.4V589.5M149.4 432.4V589.5M192.2 432.4V589.5M235.2 432.4V589.5M56.6 462.3H247.5M56.6 499.5H247.5M56.6 536.6H247.5M56.6 573.7H247.5" stroke="#fff" stroke-width="0.6" fill="none"/>
<path d="M85 432.4V589.5M128.2 432.4V589.5M170.6 432.4V589.5M213.7 432.4V589.5M56.6 443.6H247.5M56.6 481H247.5M56.6 518.1H247.5M56.6 555.2H247.5" stroke="#fff" stroke-width="1.1" fill="none"/>
<path d="M85 589.5v2.8M128.2 589.5v2.8M170.6 589.5v2.8M213.7 589.5v2.8M56.6 443.6h-2.8M56.6 481h-2.8M56.6 518.1h-2.8M56.6 555.2h-2.8" stroke="#333" stroke-width="1" fill="none"/>
<g font-size="7" fill="#4d4d4d">
<text x="85" y="600.9" text-anchor="middle">−4</text>
<text x="128.2" y="600.9" text-anchor="middle">−2</text>
<text x="170.6" y="600.9" text-anchor="middle">0</text>
<text x="213.7" y="600.9" text-anchor="middle">2</text>
<text x="50.3" y="446.1" text-anchor="end">1.0</text>
<text x="50.3" y="483.5" text-anchor="end">0.5</text>
<text x="50.3" y="520.6" text-anchor="end">0.0</text>
<text x="50.3" y="557.7" text-anchor="end">−0.5</text>
</g>
<g stroke="#0b2a44" stroke-opacity="0.55" stroke-width="0.45">
<path fill="#2f84bd" d="M140.6 439.68h7.53v4.63h-7.53zM178.25 439.68h7.53v4.63h-7.53zM185.78 439.68h7.53v4.63h-7.53zM193.31 439.68h7.53v4.63h-7.53zM155.66 444.31h7.53v4.63h-7.53zM163.19 444.31h7.53v4.63h-7.53zM170.72 444.31h7.53v4.63h-7.53zM170.72 448.94h7.53v4.63h-7.53zM178.25 448.94h7.53v4.63h-7.53zM140.6 453.57h7.53v4.63h-7.53zM155.66 453.57h7.53v4.63h-7.53zM148.13 458.2h7.53v4.63h-7.53zM200.84 458.2h7.53v4.63h-7.53zM125.54 462.83h7.53v4.63h-7.53zM163.19 462.83h7.53v4.63h-7.53zM163.19 467.46h7.53v4.63h-7.53zM178.25 467.46h7.53v4.63h-7.53zM185.78 467.46h7.53v4.63h-7.53zM148.13 472.09h7.53v4.63h-7.53zM148.13 476.72h7.53v4.63h-7.53zM185.78 476.72h7.53v4.63h-7.53zM163.19 481.35h7.53v4.63h-7.53zM178.25 481.35h7.53v4.63h-7.53zM185.78 481.35h7.53v4.63h-7.53zM148.13 485.98h7.53v4.63h-7.53zM178.25 485.98h7.53v4.63h-7.53zM193.31 485.98h7.53v4.63h-7.53zM200.84 485.98h7.53v4.63h-7.53zM215.9 485.98h7.53v4.63h-7.53zM133.07 490.61h7.53v4.63h-7.53zM170.72 490.61h7.53v4.63h-7.53zM193.31 490.61h7.53v4.63h-7.53zM200.84 490.61h7.53v4.63h-7.53zM133.07 495.24h7.53v4.63h-7.53zM185.78 495.24h7.53v4.63h-7.53zM200.84 495.24h7.53v4.63h-7.53zM80.36 499.87h7.53v4.63h-7.53zM118.01 499.87h7.53v4.63h-7.53zM125.54 499.87h7.53v4.63h-7.53zM133.07 499.87h7.53v4.63h-7.53zM125.54 504.5h7.53v4.63h-7.53zM133.07 504.5h7.53v4.63h-7.53zM200.84 504.5h7.53v4.63h-7.53zM215.9 504.5h7.53v4.63h-7.53zM223.43 504.5h7.53v4.63h-7.53zM102.95 509.13h7.53v4.63h-7.53zM118.01 509.13h7.53v4.63h-7.53zM80.36 513.76h7.53v4.63h-7.53zM65.3 518.39h7.53v4.63h-7.53zM102.95 518.39h7.53v4.63h-7.53zM230.96 518.39h7.53v4.63h-7.53zM102.95 523.02h7.53v4.63h-7.53zM140.6 523.02h7.53v4.63h-7.53zM215.9 523.02h7.53v4.63h-7.53zM223.43 523.02h7.53v4.63h-7.53zM118.01 527.65h7.53v4.63h-7.53zM133.07 527.65h7.53v4.63h-7.53zM148.13 527.65h7.53v4.63h-7.53zM200.84 527.65h7.53v4.63h-7.53zM208.37 527.65h7.53v4.63h-7.53zM223.43 527.65h7.53v4.63h-7.53zM148.13 532.28h7.53v4.63h-7.53zM155.66 532.28h7.53v4.63h-7.53zM170.72 532.28h7.53v4.63h-7.53zM200.84 532.28h7.53v4.63h-7.53zM170.72 536.91h7.53v4.63h-7.53zM185.78 536.91h7.53v4.63h-7.53zM200.84 536.91h7.53v4.63h-7.53zM178.25 541.54h7.53v4.63h-7.53zM125.54 546.17h7.53v4.63h-7.53zM155.66 550.8h7.53v4.63h-7.53zM178.25 550.8h7.53v4.63h-7.53zM148.13 555.43h7.53v4.63h-7.53zM155.66 555.43h7.53v4.63h-7.53zM200.84 555.43h7.53v4.63h-7.53zM148.13 560.06h7.53v4.63h-7.53zM155.66 560.06h7.53v4.63h-7.53zM215.9 560.06h7.53v4.63h-7.53zM185.78 573.95h7.53v4.63h-7.53zM155.66 578.58h7.53v4.63h-7.53zM170.72 578.58h7.53v4.63h-7.53zM193.31 578.58h7.53v4.63h-7.53z"/>
<path fill="#4a9bb8" d="M148.13 439.68h7.53v4.63h-7.53zM170.72 439.68h7.53v4.63h-7.53zM200.84 439.68h7.53v4.63h-7.53zM163.19 453.57h7.53v4.63h-7.53zM170.72 453.57h7.53v4.63h-7.53zM155.66 458.2h7.53v4.63h-7.53zM163.19 458.2h7.53v4.63h-7.53zM155.66 462.83h7.53v4.63h-7.53zM155.66 467.46h7.53v4.63h-7.53zM170.72 467.46h7.53v4.63h-7.53zM155.66 472.09h7.53v4.63h-7.53zM163.19 472.09h7.53v4.63h-7.53zM170.72 472.09h7.53v4.63h-7.53zM163.19 476.72h7.53v4.63h-7.53zM170.72 476.72h7.53v4.63h-7.53zM193.31 481.35h7.53v4.63h-7.53zM170.72 485.98h7.53v4.63h-7.53zM140.6 490.61h7.53v4.63h-7.53zM155.66 490.61h7.53v4.63h-7.53zM178.25 490.61h7.53v4.63h-7.53zM208.37 490.61h7.53v4.63h-7.53zM140.6 495.24h7.53v4.63h-7.53zM155.66 495.24h7.53v4.63h-7.53zM178.25 495.24h7.53v4.63h-7.53zM208.37 495.24h7.53v4.63h-7.53zM140.6 499.87h7.53v4.63h-7.53zM170.72 499.87h7.53v4.63h-7.53zM185.78 499.87h7.53v4.63h-7.53zM200.84 499.87h7.53v4.63h-7.53zM208.37 499.87h7.53v4.63h-7.53zM118.01 504.5h7.53v4.63h-7.53zM140.6 504.5h7.53v4.63h-7.53zM208.37 504.5h7.53v4.63h-7.53zM125.54 509.13h7.53v4.63h-7.53zM133.07 509.13h7.53v4.63h-7.53zM223.43 509.13h7.53v4.63h-7.53zM95.42 513.76h7.53v4.63h-7.53zM110.48 513.76h7.53v4.63h-7.53zM230.96 513.76h7.53v4.63h-7.53zM87.89 518.39h7.53v4.63h-7.53zM95.42 518.39h7.53v4.63h-7.53zM125.54 523.02h7.53v4.63h-7.53zM133.07 523.02h7.53v4.63h-7.53zM163.19 523.02h7.53v4.63h-7.53zM170.72 527.65h7.53v4.63h-7.53zM178.25 527.65h7.53v4.63h-7.53zM215.9 527.65h7.53v4.63h-7.53zM185.78 532.28h7.53v4.63h-7.53zM193.31 532.28h7.53v4.63h-7.53z"/>
<path fill="#6fbfa6" d="M155.66 481.35h7.53v4.63h-7.53zM163.19 485.98h7.53v4.63h-7.53zM148.13 490.61h7.53v4.63h-7.53zM163.19 490.61h7.53v4.63h-7.53zM148.13 495.24h7.53v4.63h-7.53zM163.19 495.24h7.53v4.63h-7.53zM148.13 499.87h7.53v4.63h-7.53zM163.19 499.87h7.53v4.63h-7.53zM178.25 499.87h7.53v4.63h-7.53zM193.31 499.87h7.53v4.63h-7.53zM178.25 504.5h7.53v4.63h-7.53zM193.31 504.5h7.53v4.63h-7.53zM140.6 509.13h7.53v4.63h-7.53zM215.9 509.13h7.53v4.63h-7.53zM118.01 513.76h7.53v4.63h-7.53zM110.48 518.39h7.53v4.63h-7.53zM200.84 523.02h7.53v4.63h-7.53zM208.37 523.02h7.53v4.63h-7.53zM163.19 527.65h7.53v4.63h-7.53zM193.31 527.65h7.53v4.63h-7.53zM178.25 532.28h7.53v4.63h-7.53z"/>
<path fill="#9fd7a3" d="M155.66 439.68h7.53v4.63h-7.53zM155.66 476.72h7.53v4.63h-7.53zM155.66 485.98h7.53v4.63h-7.53zM155.66 499.87h7.53v4.63h-7.53zM148.13 504.5h7.53v4.63h-7.53zM155.66 504.5h7.53v4.63h-7.53zM163.19 504.5h7.53v4.63h-7.53zM102.95 513.76h7.53v4.63h-7.53zM125.54 513.76h7.53v4.63h-7.53zM118.01 518.39h7.53v4.63h-7.53zM215.9 518.39h7.53v4.63h-7.53zM223.43 518.39h7.53v4.63h-7.53zM148.13 523.02h7.53v4.63h-7.53zM155.66 523.02h7.53v4.63h-7.53zM170.72 523.02h7.53v4.63h-7.53zM185.78 523.02h7.53v4.63h-7.53zM185.78 527.65h7.53v4.63h-7.53z"/>
<path fill="#d3ed9c" d="M163.19 439.68h7.53v4.63h-7.53zM170.72 504.5h7.53v4.63h-7.53zM185.78 504.5h7.53v4.63h-7.53zM148.13 509.13h7.53v4.63h-7.53zM208.37 509.13h7.53v4.63h-7.53zM133.07 513.76h7.53v4.63h-7.53zM215.9 513.76h7.53v4.63h-7.53zM223.43 513.76h7.53v4.63h-7.53zM178.25 523.02h7.53v4.63h-7.53zM193.31 523.02h7.53v4.63h-7.53z"/>
<path fill="#fdfdbd" d="M155.66 509.13h7.53v4.63h-7.53zM163.19 509.13h7.53v4.63h-7.53zM170.72 509.13h7.53v4.63h-7.53zM178.25 509.13h7.53v4.63h-7.53zM193.31 509.13h7.53v4.63h-7.53zM200.84 509.13h7.53v4.63h-7.53zM125.54 518.39h7.53v4.63h-7.53zM133.07 518.39h7.53v4.63h-7.53zM208.37 518.39h7.53v4.63h-7.53z"/>
<path fill="#fdb466" d="M185.78 509.13h7.53v4.63h-7.53zM140.6 513.76h7.53v4.63h-7.53zM208.37 513.76h7.53v4.63h-7.53zM140.6 518.39h7.53v4.63h-7.53z"/>
<path fill="#f57d4a" d="M200.84 513.76h7.53v4.63h-7.53zM200.84 518.39h7.53v4.63h-7.53z"/>
<path fill="#d9394b" d="M148.13 513.76h7.53v4.63h-7.53zM155.66 513.76h7.53v4.63h-7.53zM163.19 513.76h7.53v4.63h-7.53zM170.72 513.76h7.53v4.63h-7.53zM178.25 513.76h7.53v4.63h-7.53zM185.78 513.76h7.53v4.63h-7.53zM193.31 513.76h7.53v4.63h-7.53zM148.13 518.39h7.53v4.63h-7.53zM155.66 518.39h7.53v4.63h-7.53zM163.19 518.39h7.53v4.63h-7.53zM170.72 518.39h7.53v4.63h-7.53zM178.25 518.39h7.53v4.63h-7.53zM185.78 518.39h7.53v4.63h-7.53zM193.31 518.39h7.53v4.63h-7.53z"/>
</g>
<path d="M54 518.1H244" stroke="#000" stroke-width="1.3" stroke-dasharray="5.5 3.2" fill="none"/>
<path d="M67.2 516.6C69.2 516.72 74.77 517.15 79.2 517.3C83.63 517.45 88.93 517.55 93.8 517.5C98.67 517.45 103.53 517.15 108.4 517C113.27 516.85 118.13 516.83 123 516.6C127.87 516.37 133.1 516.25 137.6 515.6C142.1 514.95 146.72 513.67 150 512.7C153.28 511.73 154.98 510.47 157.3 509.8C159.62 509.13 161.47 508.47 163.9 508.7C166.33 508.93 169.35 510.17 171.9 511.2C174.45 512.23 176.28 513.97 179.2 514.9C182.12 515.83 185.75 516.68 189.4 516.8C193.05 516.92 197.45 515.85 201.1 515.6C204.75 515.35 207.65 515.18 211.3 515.3C214.95 515.42 218.62 515.82 223 516.3C227.38 516.78 235.17 517.88 237.6 518.2" stroke="#000" stroke-width="2.1" fill="none" stroke-linecap="round"/>
<text x="165.3" y="512.8" font-size="27" font-weight="bold" text-anchor="middle" fill="#000">*</text>
<text x="151.5" y="423.5" font-size="12" font-weight="bold" text-anchor="middle" fill="#000">Tropical Forest</text>
<rect x="276" y="432.4" width="190.7" height="157.1" fill="#f5f5f5"/>
<path d="M301.2 432.4V589.5M352.6 432.4V589.5M404.1 432.4V589.5M455.5 432.4V589.5M276 461.3H466.7M276 496.2H466.7M276 530.7H466.7M276 565.2H466.7" stroke="#fff" stroke-width="0.6" fill="none"/>
<path d="M326.9 432.4V589.5M378.3 432.4V589.5M429.7 432.4V589.5M276 444.3H466.7M276 478.9H466.7M276 513.4H466.7M276 547.9H466.7M276 582.4H466.7" stroke="#fff" stroke-width="1.1" fill="none"/>
<path d="M326.9 589.5v2.8M378.3 589.5v2.8M429.7 589.5v2.8M276 444.3h-2.8M276 478.9h-2.8M276 513.4h-2.8M276 547.9h-2.8M276 582.4h-2.8" stroke="#333" stroke-width="1" fill="none"/>
<g font-size="7" fill="#4d4d4d">
<text x="326.9" y="600.9" text-anchor="middle">−2.5</text>
<text x="378.3" y="600.9" text-anchor="middle">0.0</text>
<text x="429.7" y="600.9" text-anchor="middle">2.5</text>
<text x="269.7" y="446.8" text-anchor="end">1.0</text>
<text x="269.7" y="481.4" text-anchor="end">0.5</text>
<text x="269.7" y="515.9" text-anchor="end">0.0</text>
<text x="269.7" y="550.4" text-anchor="end">−0.5</text>
<text x="269.7" y="584.9" text-anchor="end">−1.0</text>
</g>
<g stroke="#0b2a44" stroke-opacity="0.55" stroke-width="0.45">
<path fill="#2f84bd" d="M363.43 439.8h7.23v4.6h-7.23zM392.35 439.8h7.23v4.6h-7.23zM414.04 439.8h7.23v4.6h-7.23zM428.5 439.8h7.23v4.6h-7.23zM414.04 444.4h7.23v4.6h-7.23zM421.27 453.6h7.23v4.6h-7.23zM399.58 462.8h7.23v4.6h-7.23zM406.81 462.8h7.23v4.6h-7.23zM421.27 462.8h7.23v4.6h-7.23zM414.04 467.4h7.23v4.6h-7.23zM399.58 472h7.23v4.6h-7.23zM356.2 476.6h7.23v4.6h-7.23zM392.35 476.6h7.23v4.6h-7.23zM414.04 476.6h7.23v4.6h-7.23zM356.2 481.2h7.23v4.6h-7.23zM370.66 481.2h7.23v4.6h-7.23zM406.81 481.2h7.23v4.6h-7.23zM414.04 481.2h7.23v4.6h-7.23zM428.5 481.2h7.23v4.6h-7.23zM435.73 481.2h7.23v4.6h-7.23zM385.12 485.8h7.23v4.6h-7.23zM406.81 485.8h7.23v4.6h-7.23zM428.5 485.8h7.23v4.6h-7.23zM363.43 490.4h7.23v4.6h-7.23zM421.27 490.4h7.23v4.6h-7.23zM428.5 490.4h7.23v4.6h-7.23zM370.66 495h7.23v4.6h-7.23zM377.89 495h7.23v4.6h-7.23zM385.12 495h7.23v4.6h-7.23zM363.43 499.6h7.23v4.6h-7.23zM370.66 499.6h7.23v4.6h-7.23zM363.43 504.2h7.23v4.6h-7.23zM312.82 508.8h7.23v4.6h-7.23zM320.05 508.8h7.23v4.6h-7.23zM327.28 508.8h7.23v4.6h-7.23zM341.74 508.8h7.23v4.6h-7.23zM442.96 508.8h7.23v4.6h-7.23zM450.19 508.8h7.23v4.6h-7.23zM283.9 513.4h7.23v4.6h-7.23zM298.36 513.4h7.23v4.6h-7.23zM320.05 513.4h7.23v4.6h-7.23zM341.74 518h7.23v4.6h-7.23zM348.97 518h7.23v4.6h-7.23zM435.73 518h7.23v4.6h-7.23zM341.74 522.6h7.23v4.6h-7.23zM348.97 522.6h7.23v4.6h-7.23zM435.73 522.6h7.23v4.6h-7.23zM442.96 522.6h7.23v4.6h-7.23zM341.74 527.2h7.23v4.6h-7.23zM363.43 527.2h7.23v4.6h-7.23zM370.66 527.2h7.23v4.6h-7.23zM370.66 531.8h7.23v4.6h-7.23zM385.12 531.8h7.23v4.6h-7.23zM450.19 531.8h7.23v4.6h-7.23zM356.2 536.4h7.23v4.6h-7.23zM421.27 536.4h7.23v4.6h-7.23zM428.5 536.4h7.23v4.6h-7.23zM435.73 536.4h7.23v4.6h-7.23zM356.2 541h7.23v4.6h-7.23zM370.66 541h7.23v4.6h-7.23zM392.35 541h7.23v4.6h-7.23zM406.81 541h7.23v4.6h-7.23zM435.73 541h7.23v4.6h-7.23zM385.12 545.6h7.23v4.6h-7.23zM421.27 545.6h7.23v4.6h-7.23zM435.73 545.6h7.23v4.6h-7.23zM406.81 550.2h7.23v4.6h-7.23zM414.04 550.2h7.23v4.6h-7.23zM414.04 554.8h7.23v4.6h-7.23zM435.73 554.8h7.23v4.6h-7.23zM377.89 559.4h7.23v4.6h-7.23zM399.58 559.4h7.23v4.6h-7.23zM385.12 564h7.23v4.6h-7.23zM392.35 564h7.23v4.6h-7.23zM414.04 564h7.23v4.6h-7.23zM428.5 564h7.23v4.6h-7.23zM327.28 568.6h7.23v4.6h-7.23zM385.12 568.6h7.23v4.6h-7.23zM414.04 568.6h7.23v4.6h-7.23zM312.82 573.2h7.23v4.6h-7.23zM435.73 573.2h7.23v4.6h-7.23zM341.74 577.8h7.23v4.6h-7.23zM356.2 577.8h7.23v4.6h-7.23zM363.43 577.8h7.23v4.6h-7.23zM370.66 577.8h7.23v4.6h-7.23zM421.27 577.8h7.23v4.6h-7.23zM442.96 577.8h7.23v4.6h-7.23z"/>
<path fill="#4a9bb8" d="M377.89 439.8h7.23v4.6h-7.23zM399.58 439.8h7.23v4.6h-7.23zM406.81 439.8h7.23v4.6h-7.23zM421.27 439.8h7.23v4.6h-7.23zM406.81 453.6h7.23v4.6h-7.23zM406.81 458.2h7.23v4.6h-7.23zM392.35 472h7.23v4.6h-7.23zM414.04 472h7.23v4.6h-7.23zM406.81 476.6h7.23v4.6h-7.23zM421.27 476.6h7.23v4.6h-7.23zM428.5 476.6h7.23v4.6h-7.23zM392.35 481.2h7.23v4.6h-7.23zM399.58 481.2h7.23v4.6h-7.23zM421.27 481.2h7.23v4.6h-7.23zM392.35 485.8h7.23v4.6h-7.23zM414.04 485.8h7.23v4.6h-7.23zM421.27 485.8h7.23v4.6h-7.23zM377.89 490.4h7.23v4.6h-7.23zM392.35 490.4h7.23v4.6h-7.23zM399.58 490.4h7.23v4.6h-7.23zM406.81 490.4h7.23v4.6h-7.23zM414.04 490.4h7.23v4.6h-7.23zM421.27 495h7.23v4.6h-7.23zM428.5 495h7.23v4.6h-7.23zM377.89 499.6h7.23v4.6h-7.23zM385.12 499.6h7.23v4.6h-7.23zM356.2 504.2h7.23v4.6h-7.23zM377.89 504.2h7.23v4.6h-7.23zM435.73 504.2h7.23v4.6h-7.23zM348.97 508.8h7.23v4.6h-7.23zM327.28 513.4h7.23v4.6h-7.23zM356.2 518h7.23v4.6h-7.23zM356.2 522.6h7.23v4.6h-7.23zM363.43 522.6h7.23v4.6h-7.23zM370.66 522.6h7.23v4.6h-7.23zM377.89 522.6h7.23v4.6h-7.23zM421.27 522.6h7.23v4.6h-7.23zM356.2 527.2h7.23v4.6h-7.23zM385.12 527.2h7.23v4.6h-7.23zM392.35 527.2h7.23v4.6h-7.23zM414.04 527.2h7.23v4.6h-7.23zM428.5 527.2h7.23v4.6h-7.23zM363.43 531.8h7.23v4.6h-7.23zM377.89 531.8h7.23v4.6h-7.23zM399.58 531.8h7.23v4.6h-7.23zM421.27 531.8h7.23v4.6h-7.23zM428.5 531.8h7.23v4.6h-7.23zM370.66 536.4h7.23v4.6h-7.23zM399.58 577.8h7.23v4.6h-7.23z"/>
<path fill="#6fbfa6" d="M428.5 499.6h7.23v4.6h-7.23zM370.66 504.2h7.23v4.6h-7.23zM356.2 508.8h7.23v4.6h-7.23zM428.5 518h7.23v4.6h-7.23zM385.12 522.6h7.23v4.6h-7.23zM392.35 522.6h7.23v4.6h-7.23zM406.81 522.6h7.23v4.6h-7.23zM414.04 522.6h7.23v4.6h-7.23zM377.89 527.2h7.23v4.6h-7.23zM406.81 527.2h7.23v4.6h-7.23zM421.27 527.2h7.23v4.6h-7.23zM414.04 531.8h7.23v4.6h-7.23z"/>
<path fill="#9fd7a3" d="M399.58 495h7.23v4.6h-7.23zM406.81 495h7.23v4.6h-7.23zM414.04 495h7.23v4.6h-7.23zM392.35 499.6h7.23v4.6h-7.23zM406.81 499.6h7.23v4.6h-7.23zM421.27 499.6h7.23v4.6h-7.23zM385.12 504.2h7.23v4.6h-7.23zM428.5 504.2h7.23v4.6h-7.23zM363.43 508.8h7.23v4.6h-7.23zM334.51 513.4h7.23v4.6h-7.23zM341.74 513.4h7.23v4.6h-7.23zM348.97 513.4h7.23v4.6h-7.23zM428.5 513.4h7.23v4.6h-7.23zM363.43 518h7.23v4.6h-7.23zM370.66 518h7.23v4.6h-7.23zM392.35 518h7.23v4.6h-7.23z"/>
<path fill="#d3ed9c" d="M414.04 499.6h7.23v4.6h-7.23zM370.66 508.8h7.23v4.6h-7.23zM435.73 508.8h7.23v4.6h-7.23zM356.2 513.4h7.23v4.6h-7.23zM435.73 513.4h7.23v4.6h-7.23zM377.89 518h7.23v4.6h-7.23zM385.12 518h7.23v4.6h-7.23zM399.58 518h7.23v4.6h-7.23zM414.04 518h7.23v4.6h-7.23z"/>
<path fill="#fdfdbd" d="M399.58 499.6h7.23v4.6h-7.23zM392.35 504.2h7.23v4.6h-7.23zM399.58 504.2h7.23v4.6h-7.23zM363.43 513.4h7.23v4.6h-7.23zM370.66 513.4h7.23v4.6h-7.23zM406.81 518h7.23v4.6h-7.23zM421.27 518h7.23v4.6h-7.23z"/>
<path fill="#fee391" d="M377.89 508.8h7.23v4.6h-7.23z"/>
<path fill="#fdb466" d="M406.81 504.2h7.23v4.6h-7.23zM377.89 513.4h7.23v4.6h-7.23zM385.12 513.4h7.23v4.6h-7.23z"/>
<path fill="#d9394b" d="M414.04 504.2h7.23v4.6h-7.23zM421.27 504.2h7.23v4.6h-7.23zM385.12 508.8h7.23v4.6h-7.23zM392.35 508.8h7.23v4.6h-7.23zM399.58 508.8h7.23v4.6h-7.23zM406.81 508.8h7.23v4.6h-7.23zM414.04 508.8h7.23v4.6h-7.23zM421.27 508.8h7.23v4.6h-7.23zM428.5 508.8h7.23v4.6h-7.23zM392.35 513.4h7.23v4.6h-7.23zM399.58 513.4h7.23v4.6h-7.23zM406.81 513.4h7.23v4.6h-7.23zM414.04 513.4h7.23v4.6h-7.23zM421.27 513.4h7.23v4.6h-7.23z"/>
</g>
<path d="M273.5 513.4H464" stroke="#000" stroke-width="1.3" stroke-dasharray="5.5 3.2" fill="none"/>
<path d="M290.5 524.6C293.05 524.6 300.82 524.77 305.8 524.6C310.78 524.43 315.53 524.13 320.4 523.6C325.27 523.07 330.13 522.25 335 521.4C339.87 520.55 345.1 519.27 349.6 518.5C354.1 517.73 357.5 517.28 362 516.8C366.5 516.32 371.73 516.28 376.6 515.6C381.47 514.92 386.82 513.63 391.2 512.7C395.58 511.77 399.25 510.53 402.9 510C406.55 509.47 409.7 509.53 413.1 509.5C416.5 509.47 420.13 509.47 423.3 509.8C426.47 510.13 429.42 510.28 432.1 511.5C434.78 512.72 436.97 515.2 439.4 517.1C441.83 519 444.27 521.2 446.7 522.9C449.13 524.6 452.78 526.57 454 527.3" stroke="#000" stroke-width="2.1" fill="none" stroke-linecap="round"/>
<text x="416.3" y="513.2" font-size="27" font-weight="bold" text-anchor="middle" fill="#000">*</text>
<text x="371" y="423.5" font-size="12" font-weight="bold" text-anchor="middle" fill="#000">Temperate Forest</text>
<rect x="494" y="432.4" width="191" height="157.1" fill="#f5f5f5"/>
<path d="M510.8 432.4V589.5M554.6 432.4V589.5M598.6 432.4V589.5M642.5 432.4V589.5M494 459.3H685M494 495.4H685M494 531.5H685M494 567.5H685" stroke="#fff" stroke-width="0.6" fill="none"/>
<path d="M532.5 432.4V589.5M576.4 432.4V589.5M620.3 432.4V589.5M664.4 432.4V589.5M494 441.3H685M494 477.4H685M494 513.4H685M494 549.5H685M494 585.4H685" stroke="#fff" stroke-width="1.1" fill="none"/>
<path d="M532.5 589.5v2.8M576.4 589.5v2.8M620.3 589.5v2.8M664.4 589.5v2.8M494 441.3h-2.8M494 477.4h-2.8M494 513.4h-2.8M494 549.5h-2.8M494 585.4h-2.8" stroke="#333" stroke-width="1" fill="none"/>
<g font-size="7" fill="#4d4d4d">
<text x="532.5" y="600.9" text-anchor="middle">−5.0</text>
<text x="576.4" y="600.9" text-anchor="middle">−2.5</text>
<text x="620.3" y="600.9" text-anchor="middle">0.0</text>
<text x="664.4" y="600.9" text-anchor="middle">2.5</text>
<text x="487.7" y="443.8" text-anchor="end">1.0</text>
<text x="487.7" y="479.9" text-anchor="end">0.5</text>
<text x="487.7" y="515.9" text-anchor="end">0.0</text>
<text x="487.7" y="552" text-anchor="end">−0.5</text>
<text x="487.7" y="587.9" text-anchor="end">−1.0</text>
</g>
<g stroke="#0b2a44" stroke-opacity="0.55" stroke-width="0.45">
<path fill="#2f84bd" d="M645.86 439.3h6.22v4.63h-6.22zM652.08 439.3h6.22v4.63h-6.22zM627.2 448.56h6.22v4.63h-6.22zM639.64 448.56h6.22v4.63h-6.22zM608.54 471.71h6.22v4.63h-6.22zM639.64 480.97h6.22v4.63h-6.22zM645.86 480.97h6.22v4.63h-6.22zM614.76 490.23h6.22v4.63h-6.22zM620.98 490.23h6.22v4.63h-6.22zM639.64 490.23h6.22v4.63h-6.22zM627.2 494.86h6.22v4.63h-6.22zM571.22 499.49h6.22v4.63h-6.22zM596.1 499.49h6.22v4.63h-6.22zM602.32 499.49h6.22v4.63h-6.22zM608.54 499.49h6.22v4.63h-6.22zM614.76 499.49h6.22v4.63h-6.22zM620.98 499.49h6.22v4.63h-6.22zM627.2 499.49h6.22v4.63h-6.22zM515.24 504.12h6.22v4.63h-6.22zM565 504.12h6.22v4.63h-6.22zM658.3 504.12h6.22v4.63h-6.22zM664.52 504.12h6.22v4.63h-6.22zM502.8 508.75h6.22v4.63h-6.22zM509.02 508.75h6.22v4.63h-6.22zM521.46 508.75h6.22v4.63h-6.22zM521.46 513.38h6.22v4.63h-6.22zM552.56 518.01h6.22v4.63h-6.22zM596.1 522.64h6.22v4.63h-6.22zM602.32 522.64h6.22v4.63h-6.22zM608.54 522.64h6.22v4.63h-6.22zM639.64 522.64h6.22v4.63h-6.22zM602.32 527.27h6.22v4.63h-6.22zM614.76 527.27h6.22v4.63h-6.22zM596.1 531.9h6.22v4.63h-6.22zM614.76 531.9h6.22v4.63h-6.22zM633.42 531.9h6.22v4.63h-6.22zM639.64 531.9h6.22v4.63h-6.22zM645.86 531.9h6.22v4.63h-6.22zM658.3 531.9h6.22v4.63h-6.22zM633.42 536.53h6.22v4.63h-6.22zM645.86 536.53h6.22v4.63h-6.22zM652.08 536.53h6.22v4.63h-6.22zM664.52 536.53h6.22v4.63h-6.22zM652.08 541.16h6.22v4.63h-6.22zM664.52 541.16h6.22v4.63h-6.22zM645.86 545.79h6.22v4.63h-6.22zM670.74 545.79h6.22v4.63h-6.22zM602.32 550.42h6.22v4.63h-6.22zM627.2 550.42h6.22v4.63h-6.22zM639.64 550.42h6.22v4.63h-6.22zM664.52 550.42h6.22v4.63h-6.22zM670.74 550.42h6.22v4.63h-6.22zM583.66 555.05h6.22v4.63h-6.22zM627.2 555.05h6.22v4.63h-6.22zM633.42 555.05h6.22v4.63h-6.22zM645.86 555.05h6.22v4.63h-6.22zM639.64 559.68h6.22v4.63h-6.22zM620.98 568.94h6.22v4.63h-6.22zM664.52 568.94h6.22v4.63h-6.22zM608.54 578.2h6.22v4.63h-6.22zM620.98 578.2h6.22v4.63h-6.22z"/>
<path fill="#4a9bb8" d="M627.2 490.23h6.22v4.63h-6.22zM633.42 490.23h6.22v4.63h-6.22zM652.08 490.23h6.22v4.63h-6.22zM633.42 494.86h6.22v4.63h-6.22zM639.64 494.86h6.22v4.63h-6.22zM540.12 504.12h6.22v4.63h-6.22zM546.34 504.12h6.22v4.63h-6.22zM552.56 504.12h6.22v4.63h-6.22zM558.78 504.12h6.22v4.63h-6.22zM571.22 504.12h6.22v4.63h-6.22zM652.08 504.12h6.22v4.63h-6.22zM515.24 508.75h6.22v4.63h-6.22zM664.52 508.75h6.22v4.63h-6.22zM515.24 513.38h6.22v4.63h-6.22zM571.22 518.01h6.22v4.63h-6.22zM577.44 518.01h6.22v4.63h-6.22zM589.88 522.64h6.22v4.63h-6.22zM633.42 522.64h6.22v4.63h-6.22zM645.86 522.64h6.22v4.63h-6.22zM658.3 522.64h6.22v4.63h-6.22zM620.98 527.27h6.22v4.63h-6.22zM627.2 527.27h6.22v4.63h-6.22zM645.86 527.27h6.22v4.63h-6.22zM620.98 545.79h6.22v4.63h-6.22z"/>
<path fill="#6fbfa6" d="M577.44 504.12h6.22v4.63h-6.22zM639.64 504.12h6.22v4.63h-6.22zM527.68 508.75h6.22v4.63h-6.22zM533.9 508.75h6.22v4.63h-6.22zM540.12 513.38h6.22v4.63h-6.22zM546.34 513.38h6.22v4.63h-6.22zM664.52 513.38h6.22v4.63h-6.22zM658.3 518.01h6.22v4.63h-6.22zM620.98 522.64h6.22v4.63h-6.22zM627.2 522.64h6.22v4.63h-6.22z"/>
<path fill="#9fd7a3" d="M583.66 504.12h6.22v4.63h-6.22zM627.2 504.12h6.22v4.63h-6.22zM645.86 504.12h6.22v4.63h-6.22zM652.08 508.75h6.22v4.63h-6.22zM658.3 508.75h6.22v4.63h-6.22zM533.9 513.38h6.22v4.63h-6.22zM589.88 518.01h6.22v4.63h-6.22zM614.76 522.64h6.22v4.63h-6.22z"/>
<path fill="#d3ed9c" d="M602.32 504.12h6.22v4.63h-6.22zM614.76 504.12h6.22v4.63h-6.22zM633.42 504.12h6.22v4.63h-6.22zM583.66 518.01h6.22v4.63h-6.22zM596.1 518.01h6.22v4.63h-6.22z"/>
<path fill="#fdfdbd" d="M589.88 504.12h6.22v4.63h-6.22zM596.1 504.12h6.22v4.63h-6.22zM608.54 504.12h6.22v4.63h-6.22zM620.98 504.12h6.22v4.63h-6.22zM540.12 508.75h6.22v4.63h-6.22zM546.34 508.75h6.22v4.63h-6.22zM645.86 508.75h6.22v4.63h-6.22zM552.56 513.38h6.22v4.63h-6.22zM652.08 518.01h6.22v4.63h-6.22z"/>
<path fill="#fdb466" d="M639.64 508.75h6.22v4.63h-6.22zM558.78 513.38h6.22v4.63h-6.22zM571.22 513.38h6.22v4.63h-6.22zM658.3 513.38h6.22v4.63h-6.22zM602.32 518.01h6.22v4.63h-6.22zM645.86 518.01h6.22v4.63h-6.22z"/>
<path fill="#f57d4a" d="M552.56 508.75h6.22v4.63h-6.22zM565 513.38h6.22v4.63h-6.22zM608.54 518.01h6.22v4.63h-6.22zM639.64 518.01h6.22v4.63h-6.22z"/>
<path fill="#d9394b" d="M558.78 508.75h6.22v4.63h-6.22zM565 508.75h6.22v4.63h-6.22zM571.22 508.75h6.22v4.63h-6.22zM577.44 508.75h6.22v4.63h-6.22zM583.66 508.75h6.22v4.63h-6.22zM589.88 508.75h6.22v4.63h-6.22zM596.1 508.75h6.22v4.63h-6.22zM602.32 508.75h6.22v4.63h-6.22zM608.54 508.75h6.22v4.63h-6.22zM614.76 508.75h6.22v4.63h-6.22zM620.98 508.75h6.22v4.63h-6.22zM627.2 508.75h6.22v4.63h-6.22zM633.42 508.75h6.22v4.63h-6.22zM577.44 513.38h6.22v4.63h-6.22zM583.66 513.38h6.22v4.63h-6.22zM589.88 513.38h6.22v4.63h-6.22zM596.1 513.38h6.22v4.63h-6.22zM602.32 513.38h6.22v4.63h-6.22zM608.54 513.38h6.22v4.63h-6.22zM614.76 513.38h6.22v4.63h-6.22zM620.98 513.38h6.22v4.63h-6.22zM627.2 513.38h6.22v4.63h-6.22zM633.42 513.38h6.22v4.63h-6.22zM639.64 513.38h6.22v4.63h-6.22zM645.86 513.38h6.22v4.63h-6.22zM652.08 513.38h6.22v4.63h-6.22zM614.76 518.01h6.22v4.63h-6.22zM620.98 518.01h6.22v4.63h-6.22zM627.2 518.01h6.22v4.63h-6.22zM633.42 518.01h6.22v4.63h-6.22z"/>
</g>
<path d="M491 513.4H682" stroke="#000" stroke-width="1.3" stroke-dasharray="5.5 3.2" fill="none"/>
<path d="M503.2 511.5C505.03 511.58 509.93 511.85 514.2 512C518.47 512.15 523.67 512.32 528.8 512.4C533.93 512.48 539.8 512.47 545 512.5C550.2 512.53 553.33 512.52 560 512.6C566.67 512.68 578.4 512.93 585 513C591.6 513.07 594.73 512.82 599.6 513C604.47 513.18 609.82 513.67 614.2 514.1C618.58 514.53 622.25 515.35 625.9 515.6C629.55 515.85 632.7 515.72 636.1 515.6C639.5 515.48 643.13 514.9 646.3 514.9C649.47 514.9 652.18 515 655.1 515.6C658.02 516.2 661.13 517.4 663.8 518.5C666.47 519.6 669.88 521.58 671.1 522.2" stroke="#000" stroke-width="2.1" fill="none" stroke-linecap="round"/>
<text x="589.5" y="423.5" font-size="12" font-weight="bold" text-anchor="middle" fill="#000">Boreal Forest</text>
<rect x="54.4" y="625.1" width="190.5" height="156.9" fill="#f5f5f5"/>
<path d="M70.2 625.1V782M111.3 625.1V782M152.3 625.1V782M193.3 625.1V782M234.3 625.1V782M54.4 650.3H244.9M54.4 686H244.9M54.4 721.8H244.9M54.4 757.5H244.9" stroke="#fff" stroke-width="0.6" fill="none"/>
<path d="M90.7 625.1V782M131.8 625.1V782M172.8 625.1V782M213.8 625.1V782M54.4 632.4H244.9M54.4 668.2H244.9M54.4 703.9H244.9M54.4 739.6H244.9M54.4 775.3H244.9" stroke="#fff" stroke-width="1.1" fill="none"/>
<path d="M90.7 782v2.8M131.8 782v2.8M172.8 782v2.8M213.8 782v2.8M54.4 632.4h-2.8M54.4 668.2h-2.8M54.4 703.9h-2.8M54.4 739.6h-2.8M54.4 775.3h-2.8" stroke="#333" stroke-width="1" fill="none"/>
<g font-size="7" fill="#4d4d4d">
<text x="90.7" y="793.4" text-anchor="middle">−5.0</text>
<text x="131.8" y="793.4" text-anchor="middle">−2.5</text>
<text x="172.8" y="793.4" text-anchor="middle">0.0</text>
<text x="213.8" y="793.4" text-anchor="middle">2.5</text>
<text x="48.1" y="634.9" text-anchor="end">1.0</text>
<text x="48.1" y="670.7" text-anchor="end">0.5</text>
<text x="48.1" y="706.4" text-anchor="end">0.0</text>
<text x="48.1" y="742.1" text-anchor="end">−0.5</text>
<text x="48.1" y="777.8" text-anchor="end">−1.0</text>
</g>
<g stroke="#0b2a44" stroke-opacity="0.55" stroke-width="0.45">
<path fill="#2f84bd" d="M115.16 632.93h5.78v4.73h-5.78zM132.5 632.93h5.78v4.73h-5.78zM190.3 632.93h5.78v4.73h-5.78zM201.86 632.93h5.78v4.73h-5.78zM207.64 632.93h5.78v4.73h-5.78zM144.06 637.66h5.78v4.73h-5.78zM149.84 637.66h5.78v4.73h-5.78zM172.96 637.66h5.78v4.73h-5.78zM155.62 642.39h5.78v4.73h-5.78zM161.4 642.39h5.78v4.73h-5.78zM167.18 642.39h5.78v4.73h-5.78zM178.74 642.39h5.78v4.73h-5.78zM213.42 642.39h5.78v4.73h-5.78zM120.94 647.12h5.78v4.73h-5.78zM138.28 647.12h5.78v4.73h-5.78zM167.18 647.12h5.78v4.73h-5.78zM190.3 647.12h5.78v4.73h-5.78zM213.42 647.12h5.78v4.73h-5.78zM126.72 651.85h5.78v4.73h-5.78zM172.96 651.85h5.78v4.73h-5.78zM196.08 651.85h5.78v4.73h-5.78zM201.86 651.85h5.78v4.73h-5.78zM207.64 651.85h5.78v4.73h-5.78zM132.5 656.58h5.78v4.73h-5.78zM149.84 656.58h5.78v4.73h-5.78zM155.62 656.58h5.78v4.73h-5.78zM161.4 656.58h5.78v4.73h-5.78zM196.08 656.58h5.78v4.73h-5.78zM201.86 656.58h5.78v4.73h-5.78zM207.64 656.58h5.78v4.73h-5.78zM219.2 656.58h5.78v4.73h-5.78zM120.94 661.31h5.78v4.73h-5.78zM138.28 661.31h5.78v4.73h-5.78zM144.06 661.31h5.78v4.73h-5.78zM149.84 661.31h5.78v4.73h-5.78zM155.62 661.31h5.78v4.73h-5.78zM172.96 661.31h5.78v4.73h-5.78zM184.52 661.31h5.78v4.73h-5.78zM196.08 661.31h5.78v4.73h-5.78zM144.06 666.04h5.78v4.73h-5.78zM155.62 666.04h5.78v4.73h-5.78zM167.18 666.04h5.78v4.73h-5.78zM172.96 666.04h5.78v4.73h-5.78zM190.3 666.04h5.78v4.73h-5.78zM213.42 666.04h5.78v4.73h-5.78zM115.16 670.77h5.78v4.73h-5.78zM144.06 670.77h5.78v4.73h-5.78zM161.4 670.77h5.78v4.73h-5.78zM184.52 670.77h5.78v4.73h-5.78zM196.08 670.77h5.78v4.73h-5.78zM115.16 675.5h5.78v4.73h-5.78zM120.94 675.5h5.78v4.73h-5.78zM149.84 675.5h5.78v4.73h-5.78zM155.62 675.5h5.78v4.73h-5.78zM196.08 675.5h5.78v4.73h-5.78zM201.86 675.5h5.78v4.73h-5.78zM207.64 675.5h5.78v4.73h-5.78zM213.42 675.5h5.78v4.73h-5.78zM115.16 680.23h5.78v4.73h-5.78zM120.94 680.23h5.78v4.73h-5.78zM97.82 684.96h5.78v4.73h-5.78zM109.38 684.96h5.78v4.73h-5.78zM190.3 684.96h5.78v4.73h-5.78zM68.92 689.69h5.78v4.73h-5.78zM80.48 689.69h5.78v4.73h-5.78zM103.6 689.69h5.78v4.73h-5.78zM219.2 689.69h5.78v4.73h-5.78zM68.92 694.42h5.78v4.73h-5.78zM80.48 694.42h5.78v4.73h-5.78zM86.26 694.42h5.78v4.73h-5.78zM63.14 699.15h5.78v4.73h-5.78zM68.92 699.15h5.78v4.73h-5.78zM80.48 699.15h5.78v4.73h-5.78zM86.26 703.88h5.78v4.73h-5.78zM230.76 703.88h5.78v4.73h-5.78zM103.6 708.61h5.78v4.73h-5.78zM120.94 708.61h5.78v4.73h-5.78zM224.98 708.61h5.78v4.73h-5.78zM109.38 713.34h5.78v4.73h-5.78zM120.94 713.34h5.78v4.73h-5.78zM132.5 713.34h5.78v4.73h-5.78zM109.38 718.07h5.78v4.73h-5.78zM120.94 718.07h5.78v4.73h-5.78zM144.06 718.07h5.78v4.73h-5.78zM224.98 718.07h5.78v4.73h-5.78zM103.6 722.8h5.78v4.73h-5.78zM115.16 722.8h5.78v4.73h-5.78zM144.06 722.8h5.78v4.73h-5.78zM155.62 722.8h5.78v4.73h-5.78zM230.76 722.8h5.78v4.73h-5.78zM138.28 727.53h5.78v4.73h-5.78zM149.84 727.53h5.78v4.73h-5.78zM184.52 727.53h5.78v4.73h-5.78zM149.84 732.26h5.78v4.73h-5.78zM178.74 732.26h5.78v4.73h-5.78zM132.5 736.99h5.78v4.73h-5.78zM167.18 736.99h5.78v4.73h-5.78zM184.52 736.99h5.78v4.73h-5.78zM144.06 741.72h5.78v4.73h-5.78zM161.4 741.72h5.78v4.73h-5.78zM178.74 746.45h5.78v4.73h-5.78zM190.3 746.45h5.78v4.73h-5.78zM184.52 751.18h5.78v4.73h-5.78zM190.3 751.18h5.78v4.73h-5.78zM224.98 751.18h5.78v4.73h-5.78zM178.74 755.91h5.78v4.73h-5.78zM201.86 755.91h5.78v4.73h-5.78zM224.98 755.91h5.78v4.73h-5.78zM149.84 760.64h5.78v4.73h-5.78zM196.08 760.64h5.78v4.73h-5.78zM201.86 760.64h5.78v4.73h-5.78zM155.62 765.37h5.78v4.73h-5.78zM161.4 765.37h5.78v4.73h-5.78zM196.08 765.37h5.78v4.73h-5.78zM224.98 765.37h5.78v4.73h-5.78zM149.84 770.1h5.78v4.73h-5.78zM161.4 770.1h5.78v4.73h-5.78zM184.52 770.1h5.78v4.73h-5.78zM190.3 770.1h5.78v4.73h-5.78zM201.86 770.1h5.78v4.73h-5.78zM230.76 770.1h5.78v4.73h-5.78z"/>
<path fill="#4a9bb8" d="M144.06 632.93h5.78v4.73h-5.78zM149.84 632.93h5.78v4.73h-5.78zM167.18 632.93h5.78v4.73h-5.78zM172.96 632.93h5.78v4.73h-5.78zM178.74 632.93h5.78v4.73h-5.78zM184.52 632.93h5.78v4.73h-5.78zM161.4 651.85h5.78v4.73h-5.78zM167.18 651.85h5.78v4.73h-5.78zM184.52 651.85h5.78v4.73h-5.78zM167.18 656.58h5.78v4.73h-5.78zM178.74 666.04h5.78v4.73h-5.78zM201.86 666.04h5.78v4.73h-5.78zM167.18 670.77h5.78v4.73h-5.78zM178.74 670.77h5.78v4.73h-5.78zM126.72 675.5h5.78v4.73h-5.78zM138.28 675.5h5.78v4.73h-5.78zM144.06 675.5h5.78v4.73h-5.78zM161.4 675.5h5.78v4.73h-5.78zM167.18 675.5h5.78v4.73h-5.78zM178.74 675.5h5.78v4.73h-5.78zM184.52 675.5h5.78v4.73h-5.78zM126.72 680.23h5.78v4.73h-5.78zM138.28 680.23h5.78v4.73h-5.78zM149.84 680.23h5.78v4.73h-5.78zM155.62 680.23h5.78v4.73h-5.78zM161.4 680.23h5.78v4.73h-5.78zM184.52 680.23h5.78v4.73h-5.78zM190.3 680.23h5.78v4.73h-5.78zM196.08 680.23h5.78v4.73h-5.78zM201.86 680.23h5.78v4.73h-5.78zM207.64 680.23h5.78v4.73h-5.78zM126.72 684.96h5.78v4.73h-5.78zM149.84 684.96h5.78v4.73h-5.78zM201.86 684.96h5.78v4.73h-5.78zM97.82 689.69h5.78v4.73h-5.78zM109.38 689.69h5.78v4.73h-5.78zM115.16 689.69h5.78v4.73h-5.78zM120.94 689.69h5.78v4.73h-5.78zM63.14 694.42h5.78v4.73h-5.78zM74.7 694.42h5.78v4.73h-5.78zM92.04 694.42h5.78v4.73h-5.78zM219.2 694.42h5.78v4.73h-5.78zM224.98 699.15h5.78v4.73h-5.78zM92.04 703.88h5.78v4.73h-5.78zM97.82 703.88h5.78v4.73h-5.78zM224.98 703.88h5.78v4.73h-5.78zM97.82 708.61h5.78v4.73h-5.78zM109.38 708.61h5.78v4.73h-5.78zM126.72 708.61h5.78v4.73h-5.78zM138.28 713.34h5.78v4.73h-5.78zM219.2 713.34h5.78v4.73h-5.78zM138.28 718.07h5.78v4.73h-5.78zM149.84 718.07h5.78v4.73h-5.78zM155.62 718.07h5.78v4.73h-5.78zM161.4 718.07h5.78v4.73h-5.78zM149.84 722.8h5.78v4.73h-5.78zM161.4 722.8h5.78v4.73h-5.78zM190.3 722.8h5.78v4.73h-5.78zM219.2 722.8h5.78v4.73h-5.78zM155.62 727.53h5.78v4.73h-5.78zM178.74 727.53h5.78v4.73h-5.78zM213.42 727.53h5.78v4.73h-5.78zM219.2 727.53h5.78v4.73h-5.78zM161.4 732.26h5.78v4.73h-5.78zM167.18 732.26h5.78v4.73h-5.78zM184.52 732.26h5.78v4.73h-5.78zM219.2 732.26h5.78v4.73h-5.78zM172.96 736.99h5.78v4.73h-5.78zM178.74 736.99h5.78v4.73h-5.78zM219.2 736.99h5.78v4.73h-5.78zM155.62 741.72h5.78v4.73h-5.78zM167.18 741.72h5.78v4.73h-5.78zM178.74 741.72h5.78v4.73h-5.78zM184.52 741.72h5.78v4.73h-5.78zM190.3 741.72h5.78v4.73h-5.78zM167.18 746.45h5.78v4.73h-5.78zM184.52 746.45h5.78v4.73h-5.78zM196.08 746.45h5.78v4.73h-5.78zM219.2 746.45h5.78v4.73h-5.78zM161.4 751.18h5.78v4.73h-5.78zM167.18 751.18h5.78v4.73h-5.78zM196.08 751.18h5.78v4.73h-5.78zM201.86 751.18h5.78v4.73h-5.78zM207.64 751.18h5.78v4.73h-5.78zM219.2 751.18h5.78v4.73h-5.78zM196.08 755.91h5.78v4.73h-5.78zM224.98 760.64h5.78v4.73h-5.78zM207.64 765.37h5.78v4.73h-5.78z"/>
<path fill="#6fbfa6" d="M138.28 632.93h5.78v4.73h-5.78zM155.62 632.93h5.78v4.73h-5.78zM172.96 670.77h5.78v4.73h-5.78zM190.3 675.5h5.78v4.73h-5.78zM167.18 680.23h5.78v4.73h-5.78zM120.94 684.96h5.78v4.73h-5.78zM138.28 684.96h5.78v4.73h-5.78zM144.06 684.96h5.78v4.73h-5.78zM196.08 684.96h5.78v4.73h-5.78zM213.42 684.96h5.78v4.73h-5.78zM103.6 694.42h5.78v4.73h-5.78zM115.16 694.42h5.78v4.73h-5.78zM86.26 699.15h5.78v4.73h-5.78zM219.2 708.61h5.78v4.73h-5.78zM144.06 713.34h5.78v4.73h-5.78zM213.42 718.07h5.78v4.73h-5.78zM178.74 722.8h5.78v4.73h-5.78zM184.52 722.8h5.78v4.73h-5.78zM196.08 722.8h5.78v4.73h-5.78zM213.42 722.8h5.78v4.73h-5.78zM161.4 727.53h5.78v4.73h-5.78zM167.18 727.53h5.78v4.73h-5.78zM172.96 727.53h5.78v4.73h-5.78zM190.3 727.53h5.78v4.73h-5.78zM196.08 727.53h5.78v4.73h-5.78zM196.08 732.26h5.78v4.73h-5.78zM201.86 732.26h5.78v4.73h-5.78zM213.42 732.26h5.78v4.73h-5.78zM190.3 736.99h5.78v4.73h-5.78zM196.08 736.99h5.78v4.73h-5.78zM201.86 736.99h5.78v4.73h-5.78zM213.42 736.99h5.78v4.73h-5.78zM196.08 741.72h5.78v4.73h-5.78zM201.86 741.72h5.78v4.73h-5.78zM161.4 746.45h5.78v4.73h-5.78zM213.42 751.18h5.78v4.73h-5.78zM219.2 755.91h5.78v4.73h-5.78zM219.2 760.64h5.78v4.73h-5.78zM219.2 765.37h5.78v4.73h-5.78zM207.64 770.1h5.78v4.73h-5.78zM224.98 770.1h5.78v4.73h-5.78z"/>
<path fill="#9fd7a3" d="M161.4 632.93h5.78v4.73h-5.78zM172.96 680.23h5.78v4.73h-5.78zM178.74 680.23h5.78v4.73h-5.78zM132.5 684.96h5.78v4.73h-5.78zM161.4 684.96h5.78v4.73h-5.78zM167.18 684.96h5.78v4.73h-5.78zM207.64 684.96h5.78v4.73h-5.78zM126.72 689.69h5.78v4.73h-5.78zM161.4 689.69h5.78v4.73h-5.78zM190.3 689.69h5.78v4.73h-5.78zM207.64 689.69h5.78v4.73h-5.78zM97.82 694.42h5.78v4.73h-5.78zM103.6 703.88h5.78v4.73h-5.78zM115.16 703.88h5.78v4.73h-5.78zM120.94 703.88h5.78v4.73h-5.78zM126.72 703.88h5.78v4.73h-5.78zM132.5 708.61h5.78v4.73h-5.78zM138.28 708.61h5.78v4.73h-5.78zM149.84 713.34h5.78v4.73h-5.78zM213.42 713.34h5.78v4.73h-5.78zM190.3 718.07h5.78v4.73h-5.78zM207.64 722.8h5.78v4.73h-5.78zM201.86 727.53h5.78v4.73h-5.78zM207.64 727.53h5.78v4.73h-5.78zM207.64 732.26h5.78v4.73h-5.78zM207.64 741.72h5.78v4.73h-5.78zM213.42 741.72h5.78v4.73h-5.78zM201.86 746.45h5.78v4.73h-5.78zM213.42 746.45h5.78v4.73h-5.78zM207.64 755.91h5.78v4.73h-5.78zM213.42 755.91h5.78v4.73h-5.78zM213.42 760.64h5.78v4.73h-5.78zM219.2 770.1h5.78v4.73h-5.78z"/>
<path fill="#d3ed9c" d="M155.62 684.96h5.78v4.73h-5.78zM184.52 684.96h5.78v4.73h-5.78zM132.5 689.69h5.78v4.73h-5.78zM155.62 689.69h5.78v4.73h-5.78zM201.86 689.69h5.78v4.73h-5.78zM213.42 689.69h5.78v4.73h-5.78zM109.38 694.42h5.78v4.73h-5.78zM120.94 694.42h5.78v4.73h-5.78zM92.04 699.15h5.78v4.73h-5.78zM97.82 699.15h5.78v4.73h-5.78zM103.6 699.15h5.78v4.73h-5.78zM109.38 703.88h5.78v4.73h-5.78zM144.06 708.61h5.78v4.73h-5.78zM167.18 718.07h5.78v4.73h-5.78zM178.74 718.07h5.78v4.73h-5.78zM167.18 722.8h5.78v4.73h-5.78zM172.96 722.8h5.78v4.73h-5.78zM201.86 722.8h5.78v4.73h-5.78zM207.64 736.99h5.78v4.73h-5.78zM207.64 760.64h5.78v4.73h-5.78zM213.42 770.1h5.78v4.73h-5.78z"/>
<path fill="#fdfdbd" d="M172.96 684.96h5.78v4.73h-5.78zM178.74 684.96h5.78v4.73h-5.78zM138.28 689.69h5.78v4.73h-5.78zM144.06 689.69h5.78v4.73h-5.78zM149.84 689.69h5.78v4.73h-5.78zM167.18 689.69h5.78v4.73h-5.78zM184.52 689.69h5.78v4.73h-5.78zM196.08 689.69h5.78v4.73h-5.78zM132.5 694.42h5.78v4.73h-5.78zM213.42 694.42h5.78v4.73h-5.78zM109.38 699.15h5.78v4.73h-5.78zM219.2 699.15h5.78v4.73h-5.78zM132.5 703.88h5.78v4.73h-5.78zM149.84 708.61h5.78v4.73h-5.78zM213.42 708.61h5.78v4.73h-5.78zM155.62 713.34h5.78v4.73h-5.78zM161.4 713.34h5.78v4.73h-5.78zM167.18 713.34h5.78v4.73h-5.78zM201.86 713.34h5.78v4.73h-5.78zM207.64 713.34h5.78v4.73h-5.78zM172.96 718.07h5.78v4.73h-5.78zM184.52 718.07h5.78v4.73h-5.78zM196.08 718.07h5.78v4.73h-5.78zM201.86 718.07h5.78v4.73h-5.78zM207.64 718.07h5.78v4.73h-5.78zM207.64 746.45h5.78v4.73h-5.78zM213.42 765.37h5.78v4.73h-5.78z"/>
<path fill="#fee391" d="M172.96 689.69h5.78v4.73h-5.78zM196.08 713.34h5.78v4.73h-5.78z"/>
<path fill="#fdb466" d="M161.4 694.42h5.78v4.73h-5.78zM196.08 694.42h5.78v4.73h-5.78zM115.16 699.15h5.78v4.73h-5.78z"/>
<path fill="#f57d4a" d="M126.72 694.42h5.78v4.73h-5.78zM138.28 694.42h5.78v4.73h-5.78zM167.18 694.42h5.78v4.73h-5.78zM219.2 703.88h5.78v4.73h-5.78zM155.62 708.61h5.78v4.73h-5.78z"/>
<path fill="#d9394b" d="M178.74 689.69h5.78v4.73h-5.78zM144.06 694.42h5.78v4.73h-5.78zM149.84 694.42h5.78v4.73h-5.78zM155.62 694.42h5.78v4.73h-5.78zM172.96 694.42h5.78v4.73h-5.78zM178.74 694.42h5.78v4.73h-5.78zM184.52 694.42h5.78v4.73h-5.78zM190.3 694.42h5.78v4.73h-5.78zM201.86 694.42h5.78v4.73h-5.78zM207.64 694.42h5.78v4.73h-5.78zM120.94 699.15h5.78v4.73h-5.78zM126.72 699.15h5.78v4.73h-5.78zM132.5 699.15h5.78v4.73h-5.78zM138.28 699.15h5.78v4.73h-5.78zM144.06 699.15h5.78v4.73h-5.78zM149.84 699.15h5.78v4.73h-5.78zM155.62 699.15h5.78v4.73h-5.78zM161.4 699.15h5.78v4.73h-5.78zM167.18 699.15h5.78v4.73h-5.78zM172.96 699.15h5.78v4.73h-5.78zM178.74 699.15h5.78v4.73h-5.78zM184.52 699.15h5.78v4.73h-5.78zM190.3 699.15h5.78v4.73h-5.78zM196.08 699.15h5.78v4.73h-5.78zM201.86 699.15h5.78v4.73h-5.78zM207.64 699.15h5.78v4.73h-5.78zM213.42 699.15h5.78v4.73h-5.78zM138.28 703.88h5.78v4.73h-5.78zM144.06 703.88h5.78v4.73h-5.78zM149.84 703.88h5.78v4.73h-5.78zM155.62 703.88h5.78v4.73h-5.78zM161.4 703.88h5.78v4.73h-5.78zM167.18 703.88h5.78v4.73h-5.78zM172.96 703.88h5.78v4.73h-5.78zM178.74 703.88h5.78v4.73h-5.78zM184.52 703.88h5.78v4.73h-5.78zM190.3 703.88h5.78v4.73h-5.78zM196.08 703.88h5.78v4.73h-5.78zM201.86 703.88h5.78v4.73h-5.78zM207.64 703.88h5.78v4.73h-5.78zM213.42 703.88h5.78v4.73h-5.78zM161.4 708.61h5.78v4.73h-5.78zM167.18 708.61h5.78v4.73h-5.78zM172.96 708.61h5.78v4.73h-5.78zM178.74 708.61h5.78v4.73h-5.78zM184.52 708.61h5.78v4.73h-5.78zM190.3 708.61h5.78v4.73h-5.78zM196.08 708.61h5.78v4.73h-5.78zM201.86 708.61h5.78v4.73h-5.78zM207.64 708.61h5.78v4.73h-5.78zM172.96 713.34h5.78v4.73h-5.78zM178.74 713.34h5.78v4.73h-5.78zM184.52 713.34h5.78v4.73h-5.78zM190.3 713.34h5.78v4.73h-5.78z"/>
</g>
<path d="M51.5 703.9H242" stroke="#000" stroke-width="1.3" stroke-dasharray="5.5 3.2" fill="none"/>
<path d="M64.6 697.8C67.03 698.1 74.33 699.13 79.2 699.6C84.07 700.07 88.93 700.43 93.8 700.6C98.67 700.77 103.53 700.77 108.4 700.6C113.27 700.43 118.13 699.82 123 699.6C127.87 699.38 133.1 699.07 137.6 699.3C142.1 699.53 146.72 700.35 150 701C153.28 701.65 154.38 702.63 157.3 703.2C160.22 703.77 163.85 704.28 167.5 704.4C171.15 704.52 174.82 703.85 179.2 703.9C183.58 703.95 189.67 704.33 193.8 704.7C197.93 705.07 201.32 705.37 204 706.1C206.68 706.83 207.95 707.43 209.9 709.1C211.85 710.77 213.52 713 215.7 716.1C217.88 719.2 220.82 724.05 223 727.7C225.18 731.35 226.98 735.03 228.8 738C230.62 740.97 233.05 744.25 233.9 745.5" stroke="#000" stroke-width="2.1" fill="none" stroke-linecap="round"/>
<text x="150" y="617" font-size="12" font-weight="bold" text-anchor="middle" fill="#000">C3 Grass</text>
<rect x="273.4" y="625.5" width="191.1" height="156.5" fill="#f5f5f5"/>
<path d="M299.4 625.5V782M350.7 625.5V782M402.1 625.5V782M453.5 625.5V782M273.4 653.8H464.5M273.4 688.4H464.5M273.4 723.1H464.5M273.4 757.8H464.5" stroke="#fff" stroke-width="0.6" fill="none"/>
<path d="M325 625.5V782M376.4 625.5V782M427.7 625.5V782M273.4 636.5H464.5M273.4 671.1H464.5M273.4 705.8H464.5M273.4 740.4H464.5M273.4 775.1H464.5" stroke="#fff" stroke-width="1.1" fill="none"/>
<path d="M325 782v2.8M376.4 782v2.8M427.7 782v2.8M273.4 636.5h-2.8M273.4 671.1h-2.8M273.4 705.8h-2.8M273.4 740.4h-2.8M273.4 775.1h-2.8" stroke="#333" stroke-width="1" fill="none"/>
<g font-size="7" fill="#4d4d4d">
<text x="325" y="793.4" text-anchor="middle">−2.5</text>
<text x="376.4" y="793.4" text-anchor="middle">0.0</text>
<text x="427.7" y="793.4" text-anchor="middle">2.5</text>
<text x="267.1" y="639" text-anchor="end">1.0</text>
<text x="267.1" y="673.6" text-anchor="end">0.5</text>
<text x="267.1" y="708.3" text-anchor="end">0.0</text>
<text x="267.1" y="742.9" text-anchor="end">−0.5</text>
<text x="267.1" y="777.6" text-anchor="end">−1.0</text>
</g>
<g stroke="#0b2a44" stroke-opacity="0.55" stroke-width="0.45">
<path fill="#2f84bd" d="M296.3 631.7h7.27v4.63h-7.27zM303.57 631.7h7.27v4.63h-7.27zM310.84 631.7h7.27v4.63h-7.27zM318.11 631.7h7.27v4.63h-7.27zM339.92 636.33h7.27v4.63h-7.27zM347.19 636.33h7.27v4.63h-7.27zM361.73 636.33h7.27v4.63h-7.27zM376.27 636.33h7.27v4.63h-7.27zM405.35 636.33h7.27v4.63h-7.27zM412.62 636.33h7.27v4.63h-7.27zM347.19 640.96h7.27v4.63h-7.27zM354.46 640.96h7.27v4.63h-7.27zM361.73 640.96h7.27v4.63h-7.27zM376.27 640.96h7.27v4.63h-7.27zM398.08 640.96h7.27v4.63h-7.27zM332.65 645.59h7.27v4.63h-7.27zM347.19 645.59h7.27v4.63h-7.27zM412.62 645.59h7.27v4.63h-7.27zM419.89 645.59h7.27v4.63h-7.27zM427.16 645.59h7.27v4.63h-7.27zM339.92 650.22h7.27v4.63h-7.27zM361.73 650.22h7.27v4.63h-7.27zM398.08 650.22h7.27v4.63h-7.27zM412.62 650.22h7.27v4.63h-7.27zM427.16 650.22h7.27v4.63h-7.27zM310.84 654.85h7.27v4.63h-7.27zM332.65 654.85h7.27v4.63h-7.27zM354.46 654.85h7.27v4.63h-7.27zM383.54 654.85h7.27v4.63h-7.27zM427.16 654.85h7.27v4.63h-7.27zM339.92 659.48h7.27v4.63h-7.27zM354.46 659.48h7.27v4.63h-7.27zM332.65 664.11h7.27v4.63h-7.27zM339.92 664.11h7.27v4.63h-7.27zM376.27 664.11h7.27v4.63h-7.27zM434.43 664.11h7.27v4.63h-7.27zM318.11 668.74h7.27v4.63h-7.27zM339.92 668.74h7.27v4.63h-7.27zM361.73 668.74h7.27v4.63h-7.27zM427.16 668.74h7.27v4.63h-7.27zM434.43 668.74h7.27v4.63h-7.27zM289.03 673.37h7.27v4.63h-7.27zM310.84 673.37h7.27v4.63h-7.27zM332.65 673.37h7.27v4.63h-7.27zM354.46 673.37h7.27v4.63h-7.27zM434.43 673.37h7.27v4.63h-7.27zM325.38 678h7.27v4.63h-7.27zM339.92 678h7.27v4.63h-7.27zM347.19 678h7.27v4.63h-7.27zM310.84 687.26h7.27v4.63h-7.27zM318.11 687.26h7.27v4.63h-7.27zM332.65 687.26h7.27v4.63h-7.27zM434.43 687.26h7.27v4.63h-7.27zM303.57 691.89h7.27v4.63h-7.27zM318.11 691.89h7.27v4.63h-7.27zM310.84 696.52h7.27v4.63h-7.27zM448.97 696.52h7.27v4.63h-7.27zM289.03 701.15h7.27v4.63h-7.27zM289.03 705.78h7.27v4.63h-7.27zM281.76 710.41h7.27v4.63h-7.27zM296.3 710.41h7.27v4.63h-7.27zM441.7 710.41h7.27v4.63h-7.27zM448.97 710.41h7.27v4.63h-7.27zM310.84 715.04h7.27v4.63h-7.27zM448.97 715.04h7.27v4.63h-7.27zM281.76 719.67h7.27v4.63h-7.27zM289.03 719.67h7.27v4.63h-7.27zM303.57 719.67h7.27v4.63h-7.27zM441.7 719.67h7.27v4.63h-7.27zM441.7 724.3h7.27v4.63h-7.27zM303.57 728.93h7.27v4.63h-7.27zM310.84 728.93h7.27v4.63h-7.27zM361.73 728.93h7.27v4.63h-7.27zM303.57 733.56h7.27v4.63h-7.27zM310.84 733.56h7.27v4.63h-7.27zM325.38 733.56h7.27v4.63h-7.27zM281.76 738.19h7.27v4.63h-7.27zM296.3 738.19h7.27v4.63h-7.27zM332.65 738.19h7.27v4.63h-7.27zM296.3 742.82h7.27v4.63h-7.27zM303.57 742.82h7.27v4.63h-7.27zM318.11 742.82h7.27v4.63h-7.27zM339.92 742.82h7.27v4.63h-7.27zM354.46 742.82h7.27v4.63h-7.27zM361.73 742.82h7.27v4.63h-7.27zM441.7 742.82h7.27v4.63h-7.27zM303.57 747.45h7.27v4.63h-7.27zM318.11 747.45h7.27v4.63h-7.27zM332.65 747.45h7.27v4.63h-7.27zM339.92 747.45h7.27v4.63h-7.27zM347.19 747.45h7.27v4.63h-7.27zM390.81 747.45h7.27v4.63h-7.27zM303.57 752.08h7.27v4.63h-7.27zM369 752.08h7.27v4.63h-7.27zM412.62 752.08h7.27v4.63h-7.27zM434.43 752.08h7.27v4.63h-7.27zM318.11 756.71h7.27v4.63h-7.27zM325.38 756.71h7.27v4.63h-7.27zM339.92 756.71h7.27v4.63h-7.27zM354.46 756.71h7.27v4.63h-7.27zM369 756.71h7.27v4.63h-7.27zM405.35 756.71h7.27v4.63h-7.27zM441.7 756.71h7.27v4.63h-7.27zM448.97 756.71h7.27v4.63h-7.27zM296.3 761.34h7.27v4.63h-7.27zM354.46 761.34h7.27v4.63h-7.27zM441.7 761.34h7.27v4.63h-7.27zM448.97 761.34h7.27v4.63h-7.27zM332.65 765.97h7.27v4.63h-7.27zM434.43 765.97h7.27v4.63h-7.27zM296.3 770.6h7.27v4.63h-7.27zM310.84 770.6h7.27v4.63h-7.27zM361.73 770.6h7.27v4.63h-7.27z"/>
<path fill="#4a9bb8" d="M325.38 631.7h7.27v4.63h-7.27zM434.43 631.7h7.27v4.63h-7.27zM354.46 636.33h7.27v4.63h-7.27zM390.81 636.33h7.27v4.63h-7.27zM398.08 636.33h7.27v4.63h-7.27zM383.54 640.96h7.27v4.63h-7.27zM354.46 645.59h7.27v4.63h-7.27zM369 645.59h7.27v4.63h-7.27zM376.27 645.59h7.27v4.63h-7.27zM390.81 645.59h7.27v4.63h-7.27zM398.08 645.59h7.27v4.63h-7.27zM347.19 650.22h7.27v4.63h-7.27zM376.27 650.22h7.27v4.63h-7.27zM405.35 650.22h7.27v4.63h-7.27zM339.92 654.85h7.27v4.63h-7.27zM361.73 654.85h7.27v4.63h-7.27zM369 654.85h7.27v4.63h-7.27zM376.27 654.85h7.27v4.63h-7.27zM390.81 654.85h7.27v4.63h-7.27zM398.08 654.85h7.27v4.63h-7.27zM412.62 654.85h7.27v4.63h-7.27zM419.89 654.85h7.27v4.63h-7.27zM369 659.48h7.27v4.63h-7.27zM383.54 659.48h7.27v4.63h-7.27zM390.81 659.48h7.27v4.63h-7.27zM405.35 659.48h7.27v4.63h-7.27zM412.62 659.48h7.27v4.63h-7.27zM419.89 659.48h7.27v4.63h-7.27zM427.16 659.48h7.27v4.63h-7.27zM354.46 664.11h7.27v4.63h-7.27zM361.73 664.11h7.27v4.63h-7.27zM369 664.11h7.27v4.63h-7.27zM383.54 664.11h7.27v4.63h-7.27zM390.81 664.11h7.27v4.63h-7.27zM398.08 664.11h7.27v4.63h-7.27zM412.62 664.11h7.27v4.63h-7.27zM419.89 664.11h7.27v4.63h-7.27zM369 668.74h7.27v4.63h-7.27zM376.27 668.74h7.27v4.63h-7.27zM383.54 668.74h7.27v4.63h-7.27zM390.81 668.74h7.27v4.63h-7.27zM398.08 668.74h7.27v4.63h-7.27zM419.89 668.74h7.27v4.63h-7.27zM347.19 673.37h7.27v4.63h-7.27zM369 673.37h7.27v4.63h-7.27zM376.27 673.37h7.27v4.63h-7.27zM383.54 673.37h7.27v4.63h-7.27zM390.81 673.37h7.27v4.63h-7.27zM427.16 673.37h7.27v4.63h-7.27zM332.65 678h7.27v4.63h-7.27zM369 678h7.27v4.63h-7.27zM376.27 678h7.27v4.63h-7.27zM383.54 678h7.27v4.63h-7.27zM434.43 678h7.27v4.63h-7.27zM325.38 682.63h7.27v4.63h-7.27zM332.65 682.63h7.27v4.63h-7.27zM354.46 682.63h7.27v4.63h-7.27zM369 682.63h7.27v4.63h-7.27zM427.16 682.63h7.27v4.63h-7.27zM434.43 682.63h7.27v4.63h-7.27zM325.38 687.26h7.27v4.63h-7.27zM339.92 687.26h7.27v4.63h-7.27zM339.92 691.89h7.27v4.63h-7.27zM296.3 696.52h7.27v4.63h-7.27zM303.57 696.52h7.27v4.63h-7.27zM318.11 696.52h7.27v4.63h-7.27zM441.7 696.52h7.27v4.63h-7.27zM281.76 701.15h7.27v4.63h-7.27zM296.3 701.15h7.27v4.63h-7.27zM448.97 701.15h7.27v4.63h-7.27zM303.57 705.78h7.27v4.63h-7.27zM448.97 705.78h7.27v4.63h-7.27zM303.57 710.41h7.27v4.63h-7.27zM310.84 710.41h7.27v4.63h-7.27zM441.7 715.04h7.27v4.63h-7.27zM296.3 719.67h7.27v4.63h-7.27zM310.84 719.67h7.27v4.63h-7.27zM318.11 719.67h7.27v4.63h-7.27zM303.57 724.3h7.27v4.63h-7.27zM310.84 724.3h7.27v4.63h-7.27zM318.11 724.3h7.27v4.63h-7.27zM434.43 724.3h7.27v4.63h-7.27zM383.54 728.93h7.27v4.63h-7.27zM427.16 728.93h7.27v4.63h-7.27zM434.43 728.93h7.27v4.63h-7.27zM332.65 733.56h7.27v4.63h-7.27zM347.19 733.56h7.27v4.63h-7.27zM354.46 733.56h7.27v4.63h-7.27zM361.73 733.56h7.27v4.63h-7.27zM325.38 738.19h7.27v4.63h-7.27zM339.92 738.19h7.27v4.63h-7.27zM376.27 738.19h7.27v4.63h-7.27zM383.54 738.19h7.27v4.63h-7.27zM405.35 738.19h7.27v4.63h-7.27zM427.16 738.19h7.27v4.63h-7.27zM434.43 738.19h7.27v4.63h-7.27zM332.65 742.82h7.27v4.63h-7.27zM347.19 742.82h7.27v4.63h-7.27zM383.54 742.82h7.27v4.63h-7.27zM412.62 742.82h7.27v4.63h-7.27zM427.16 742.82h7.27v4.63h-7.27zM325.38 747.45h7.27v4.63h-7.27zM427.16 747.45h7.27v4.63h-7.27zM434.43 747.45h7.27v4.63h-7.27zM325.38 752.08h7.27v4.63h-7.27zM339.92 752.08h7.27v4.63h-7.27zM354.46 752.08h7.27v4.63h-7.27zM361.73 752.08h7.27v4.63h-7.27zM405.35 752.08h7.27v4.63h-7.27zM441.7 752.08h7.27v4.63h-7.27zM332.65 756.71h7.27v4.63h-7.27zM347.19 756.71h7.27v4.63h-7.27zM390.81 756.71h7.27v4.63h-7.27zM412.62 756.71h7.27v4.63h-7.27zM434.43 756.71h7.27v4.63h-7.27zM310.84 761.34h7.27v4.63h-7.27zM325.38 761.34h7.27v4.63h-7.27zM332.65 761.34h7.27v4.63h-7.27zM347.19 761.34h7.27v4.63h-7.27zM361.73 761.34h7.27v4.63h-7.27zM369 761.34h7.27v4.63h-7.27zM419.89 761.34h7.27v4.63h-7.27zM325.38 765.97h7.27v4.63h-7.27zM339.92 765.97h7.27v4.63h-7.27zM354.46 765.97h7.27v4.63h-7.27zM376.27 765.97h7.27v4.63h-7.27zM405.35 765.97h7.27v4.63h-7.27zM412.62 765.97h7.27v4.63h-7.27zM427.16 765.97h7.27v4.63h-7.27zM441.7 765.97h7.27v4.63h-7.27zM448.97 765.97h7.27v4.63h-7.27zM325.38 770.6h7.27v4.63h-7.27zM332.65 770.6h7.27v4.63h-7.27zM347.19 770.6h7.27v4.63h-7.27zM354.46 770.6h7.27v4.63h-7.27zM441.7 770.6h7.27v4.63h-7.27z"/>
<path fill="#6fbfa6" d="M332.65 631.7h7.27v4.63h-7.27zM369 640.96h7.27v4.63h-7.27zM419.89 640.96h7.27v4.63h-7.27zM383.54 645.59h7.27v4.63h-7.27zM354.46 650.22h7.27v4.63h-7.27zM383.54 650.22h7.27v4.63h-7.27zM419.89 650.22h7.27v4.63h-7.27zM376.27 659.48h7.27v4.63h-7.27zM412.62 668.74h7.27v4.63h-7.27zM354.46 678h7.27v4.63h-7.27zM361.73 678h7.27v4.63h-7.27zM412.62 678h7.27v4.63h-7.27zM361.73 682.63h7.27v4.63h-7.27zM376.27 682.63h7.27v4.63h-7.27zM347.19 687.26h7.27v4.63h-7.27zM354.46 687.26h7.27v4.63h-7.27zM361.73 687.26h7.27v4.63h-7.27zM296.3 705.78h7.27v4.63h-7.27zM318.11 710.41h7.27v4.63h-7.27zM303.57 715.04h7.27v4.63h-7.27zM318.11 715.04h7.27v4.63h-7.27zM434.43 719.67h7.27v4.63h-7.27zM325.38 728.93h7.27v4.63h-7.27zM332.65 728.93h7.27v4.63h-7.27zM339.92 728.93h7.27v4.63h-7.27zM347.19 728.93h7.27v4.63h-7.27zM354.46 728.93h7.27v4.63h-7.27zM339.92 733.56h7.27v4.63h-7.27zM383.54 733.56h7.27v4.63h-7.27zM427.16 733.56h7.27v4.63h-7.27zM434.43 733.56h7.27v4.63h-7.27zM354.46 738.19h7.27v4.63h-7.27zM361.73 738.19h7.27v4.63h-7.27zM398.08 738.19h7.27v4.63h-7.27zM419.89 738.19h7.27v4.63h-7.27zM325.38 742.82h7.27v4.63h-7.27zM369 742.82h7.27v4.63h-7.27zM376.27 742.82h7.27v4.63h-7.27zM390.81 742.82h7.27v4.63h-7.27zM434.43 742.82h7.27v4.63h-7.27zM361.73 747.45h7.27v4.63h-7.27zM369 747.45h7.27v4.63h-7.27zM376.27 747.45h7.27v4.63h-7.27zM405.35 747.45h7.27v4.63h-7.27zM412.62 747.45h7.27v4.63h-7.27zM419.89 747.45h7.27v4.63h-7.27zM347.19 752.08h7.27v4.63h-7.27zM376.27 752.08h7.27v4.63h-7.27zM383.54 752.08h7.27v4.63h-7.27zM383.54 756.71h7.27v4.63h-7.27zM376.27 761.34h7.27v4.63h-7.27zM405.35 761.34h7.27v4.63h-7.27zM427.16 761.34h7.27v4.63h-7.27zM434.43 761.34h7.27v4.63h-7.27zM347.19 765.97h7.27v4.63h-7.27zM361.73 765.97h7.27v4.63h-7.27zM369 765.97h7.27v4.63h-7.27zM390.81 765.97h7.27v4.63h-7.27zM398.08 765.97h7.27v4.63h-7.27zM339.92 770.6h7.27v4.63h-7.27zM383.54 770.6h7.27v4.63h-7.27zM390.81 770.6h7.27v4.63h-7.27zM412.62 770.6h7.27v4.63h-7.27z"/>
<path fill="#9fd7a3" d="M339.92 631.7h7.27v4.63h-7.27zM427.16 631.7h7.27v4.63h-7.27zM405.35 654.85h7.27v4.63h-7.27zM398.08 659.48h7.27v4.63h-7.27zM405.35 664.11h7.27v4.63h-7.27zM405.35 668.74h7.27v4.63h-7.27zM361.73 673.37h7.27v4.63h-7.27zM398.08 673.37h7.27v4.63h-7.27zM412.62 673.37h7.27v4.63h-7.27zM419.89 673.37h7.27v4.63h-7.27zM390.81 678h7.27v4.63h-7.27zM398.08 678h7.27v4.63h-7.27zM427.16 678h7.27v4.63h-7.27zM383.54 682.63h7.27v4.63h-7.27zM369 687.26h7.27v4.63h-7.27zM427.16 687.26h7.27v4.63h-7.27zM325.38 691.89h7.27v4.63h-7.27zM332.65 691.89h7.27v4.63h-7.27zM347.19 691.89h7.27v4.63h-7.27zM354.46 691.89h7.27v4.63h-7.27zM361.73 691.89h7.27v4.63h-7.27zM376.27 691.89h7.27v4.63h-7.27zM434.43 691.89h7.27v4.63h-7.27zM325.38 696.52h7.27v4.63h-7.27zM303.57 701.15h7.27v4.63h-7.27zM310.84 701.15h7.27v4.63h-7.27zM310.84 705.78h7.27v4.63h-7.27zM318.11 705.78h7.27v4.63h-7.27zM434.43 715.04h7.27v4.63h-7.27zM347.19 719.67h7.27v4.63h-7.27zM361.73 719.67h7.27v4.63h-7.27zM325.38 724.3h7.27v4.63h-7.27zM332.65 724.3h7.27v4.63h-7.27zM339.92 724.3h7.27v4.63h-7.27zM376.27 724.3h7.27v4.63h-7.27zM369 728.93h7.27v4.63h-7.27zM419.89 728.93h7.27v4.63h-7.27zM369 733.56h7.27v4.63h-7.27zM398.08 733.56h7.27v4.63h-7.27zM419.89 733.56h7.27v4.63h-7.27zM369 738.19h7.27v4.63h-7.27zM390.81 738.19h7.27v4.63h-7.27zM412.62 738.19h7.27v4.63h-7.27zM398.08 742.82h7.27v4.63h-7.27zM354.46 747.45h7.27v4.63h-7.27zM383.54 747.45h7.27v4.63h-7.27zM398.08 752.08h7.27v4.63h-7.27zM419.89 752.08h7.27v4.63h-7.27zM361.73 756.71h7.27v4.63h-7.27zM376.27 756.71h7.27v4.63h-7.27zM398.08 756.71h7.27v4.63h-7.27zM419.89 756.71h7.27v4.63h-7.27zM427.16 756.71h7.27v4.63h-7.27zM390.81 761.34h7.27v4.63h-7.27zM412.62 761.34h7.27v4.63h-7.27zM383.54 765.97h7.27v4.63h-7.27zM419.89 765.97h7.27v4.63h-7.27zM376.27 770.6h7.27v4.63h-7.27zM405.35 770.6h7.27v4.63h-7.27zM419.89 770.6h7.27v4.63h-7.27zM434.43 770.6h7.27v4.63h-7.27z"/>
<path fill="#d3ed9c" d="M347.19 631.7h7.27v4.63h-7.27zM405.35 673.37h7.27v4.63h-7.27zM405.35 678h7.27v4.63h-7.27zM419.89 678h7.27v4.63h-7.27zM390.81 682.63h7.27v4.63h-7.27zM398.08 682.63h7.27v4.63h-7.27zM376.27 687.26h7.27v4.63h-7.27zM318.11 701.15h7.27v4.63h-7.27zM325.38 710.41h7.27v4.63h-7.27zM332.65 710.41h7.27v4.63h-7.27zM434.43 710.41h7.27v4.63h-7.27zM325.38 715.04h7.27v4.63h-7.27zM332.65 715.04h7.27v4.63h-7.27zM354.46 715.04h7.27v4.63h-7.27zM361.73 715.04h7.27v4.63h-7.27zM325.38 719.67h7.27v4.63h-7.27zM332.65 719.67h7.27v4.63h-7.27zM354.46 719.67h7.27v4.63h-7.27zM427.16 719.67h7.27v4.63h-7.27zM347.19 724.3h7.27v4.63h-7.27zM354.46 724.3h7.27v4.63h-7.27zM369 724.3h7.27v4.63h-7.27zM383.54 724.3h7.27v4.63h-7.27zM419.89 724.3h7.27v4.63h-7.27zM427.16 724.3h7.27v4.63h-7.27zM376.27 728.93h7.27v4.63h-7.27zM390.81 728.93h7.27v4.63h-7.27zM376.27 733.56h7.27v4.63h-7.27zM390.81 733.56h7.27v4.63h-7.27zM405.35 733.56h7.27v4.63h-7.27zM412.62 733.56h7.27v4.63h-7.27zM405.35 742.82h7.27v4.63h-7.27zM419.89 742.82h7.27v4.63h-7.27zM390.81 752.08h7.27v4.63h-7.27zM427.16 752.08h7.27v4.63h-7.27zM369 770.6h7.27v4.63h-7.27zM398.08 770.6h7.27v4.63h-7.27zM427.16 770.6h7.27v4.63h-7.27z"/>
<path fill="#fdfdbd" d="M419.89 631.7h7.27v4.63h-7.27zM405.35 682.63h7.27v4.63h-7.27zM412.62 682.63h7.27v4.63h-7.27zM419.89 682.63h7.27v4.63h-7.27zM383.54 687.26h7.27v4.63h-7.27zM369 691.89h7.27v4.63h-7.27zM332.65 696.52h7.27v4.63h-7.27zM339.92 696.52h7.27v4.63h-7.27zM347.19 696.52h7.27v4.63h-7.27zM325.38 701.15h7.27v4.63h-7.27zM441.7 701.15h7.27v4.63h-7.27zM325.38 705.78h7.27v4.63h-7.27zM441.7 705.78h7.27v4.63h-7.27zM347.19 710.41h7.27v4.63h-7.27zM339.92 715.04h7.27v4.63h-7.27zM347.19 715.04h7.27v4.63h-7.27zM427.16 715.04h7.27v4.63h-7.27zM339.92 719.67h7.27v4.63h-7.27zM376.27 719.67h7.27v4.63h-7.27zM383.54 719.67h7.27v4.63h-7.27zM405.35 719.67h7.27v4.63h-7.27zM419.89 719.67h7.27v4.63h-7.27zM361.73 724.3h7.27v4.63h-7.27zM390.81 724.3h7.27v4.63h-7.27zM398.08 724.3h7.27v4.63h-7.27zM405.35 724.3h7.27v4.63h-7.27zM412.62 724.3h7.27v4.63h-7.27zM398.08 728.93h7.27v4.63h-7.27zM405.35 728.93h7.27v4.63h-7.27zM412.62 728.93h7.27v4.63h-7.27zM398.08 761.34h7.27v4.63h-7.27z"/>
<path fill="#fee391" d="M354.46 631.7h7.27v4.63h-7.27zM390.81 631.7h7.27v4.63h-7.27zM390.81 687.26h7.27v4.63h-7.27zM405.35 687.26h7.27v4.63h-7.27zM412.62 687.26h7.27v4.63h-7.27zM419.89 687.26h7.27v4.63h-7.27zM339.92 710.41h7.27v4.63h-7.27zM369 719.67h7.27v4.63h-7.27zM412.62 719.67h7.27v4.63h-7.27z"/>
<path fill="#fdb466" d="M383.54 631.7h7.27v4.63h-7.27zM398.08 687.26h7.27v4.63h-7.27zM361.73 696.52h7.27v4.63h-7.27zM427.16 710.41h7.27v4.63h-7.27zM398.08 715.04h7.27v4.63h-7.27zM390.81 719.67h7.27v4.63h-7.27zM398.08 719.67h7.27v4.63h-7.27z"/>
<path fill="#f57d4a" d="M361.73 631.7h7.27v4.63h-7.27zM398.08 631.7h7.27v4.63h-7.27zM405.35 631.7h7.27v4.63h-7.27zM412.62 631.7h7.27v4.63h-7.27zM383.54 691.89h7.27v4.63h-7.27zM398.08 691.89h7.27v4.63h-7.27zM427.16 691.89h7.27v4.63h-7.27zM354.46 696.52h7.27v4.63h-7.27zM369 696.52h7.27v4.63h-7.27zM332.65 701.15h7.27v4.63h-7.27zM361.73 710.41h7.27v4.63h-7.27zM369 715.04h7.27v4.63h-7.27zM383.54 715.04h7.27v4.63h-7.27zM412.62 715.04h7.27v4.63h-7.27zM419.89 715.04h7.27v4.63h-7.27z"/>
<path fill="#d9394b" d="M369 631.7h7.27v4.63h-7.27zM376.27 631.7h7.27v4.63h-7.27zM390.81 691.89h7.27v4.63h-7.27zM405.35 691.89h7.27v4.63h-7.27zM412.62 691.89h7.27v4.63h-7.27zM419.89 691.89h7.27v4.63h-7.27zM376.27 696.52h7.27v4.63h-7.27zM383.54 696.52h7.27v4.63h-7.27zM390.81 696.52h7.27v4.63h-7.27zM398.08 696.52h7.27v4.63h-7.27zM405.35 696.52h7.27v4.63h-7.27zM412.62 696.52h7.27v4.63h-7.27zM419.89 696.52h7.27v4.63h-7.27zM427.16 696.52h7.27v4.63h-7.27zM434.43 696.52h7.27v4.63h-7.27zM339.92 701.15h7.27v4.63h-7.27zM347.19 701.15h7.27v4.63h-7.27zM354.46 701.15h7.27v4.63h-7.27zM361.73 701.15h7.27v4.63h-7.27zM369 701.15h7.27v4.63h-7.27zM376.27 701.15h7.27v4.63h-7.27zM383.54 701.15h7.27v4.63h-7.27zM390.81 701.15h7.27v4.63h-7.27zM398.08 701.15h7.27v4.63h-7.27zM405.35 701.15h7.27v4.63h-7.27zM412.62 701.15h7.27v4.63h-7.27zM419.89 701.15h7.27v4.63h-7.27zM427.16 701.15h7.27v4.63h-7.27zM434.43 701.15h7.27v4.63h-7.27zM332.65 705.78h7.27v4.63h-7.27zM339.92 705.78h7.27v4.63h-7.27zM347.19 705.78h7.27v4.63h-7.27zM354.46 705.78h7.27v4.63h-7.27zM361.73 705.78h7.27v4.63h-7.27zM369 705.78h7.27v4.63h-7.27zM376.27 705.78h7.27v4.63h-7.27zM383.54 705.78h7.27v4.63h-7.27zM390.81 705.78h7.27v4.63h-7.27zM398.08 705.78h7.27v4.63h-7.27zM405.35 705.78h7.27v4.63h-7.27zM412.62 705.78h7.27v4.63h-7.27zM419.89 705.78h7.27v4.63h-7.27zM427.16 705.78h7.27v4.63h-7.27zM434.43 705.78h7.27v4.63h-7.27zM354.46 710.41h7.27v4.63h-7.27zM369 710.41h7.27v4.63h-7.27zM376.27 710.41h7.27v4.63h-7.27zM383.54 710.41h7.27v4.63h-7.27zM390.81 710.41h7.27v4.63h-7.27zM398.08 710.41h7.27v4.63h-7.27zM405.35 710.41h7.27v4.63h-7.27zM412.62 710.41h7.27v4.63h-7.27zM419.89 710.41h7.27v4.63h-7.27zM376.27 715.04h7.27v4.63h-7.27zM390.81 715.04h7.27v4.63h-7.27zM405.35 715.04h7.27v4.63h-7.27z"/>
</g>
<path d="M270 705.8H461.5" stroke="#000" stroke-width="1.3" stroke-dasharray="5.5 3.2" fill="none"/>
<path d="M282.4 712C285.08 712.17 293.38 712.83 298.5 713C303.62 713.17 308.23 713.17 313.1 713C317.97 712.83 322.83 712.65 327.7 712C332.57 711.35 338.17 710.08 342.3 709.1C346.43 708.12 349.22 706.97 352.5 706.1C355.78 705.23 358.47 704.08 362 703.9C365.53 703.72 369.32 704.68 373.7 705C378.08 705.32 383.43 705.85 388.3 705.8C393.17 705.75 398.03 705.02 402.9 704.7C407.77 704.38 413.37 703.78 417.5 703.9C421.63 704.02 424.3 704.3 427.7 705.4C431.1 706.5 434.73 708.8 437.9 710.5C441.07 712.2 444.02 714.02 446.7 715.6C449.38 717.18 452.78 719.27 454 720" stroke="#000" stroke-width="2.1" fill="none" stroke-linecap="round"/>
<text x="369" y="617" font-size="12" font-weight="bold" text-anchor="middle" fill="#000">C4 Grass</text>
</svg>
</body></html>
